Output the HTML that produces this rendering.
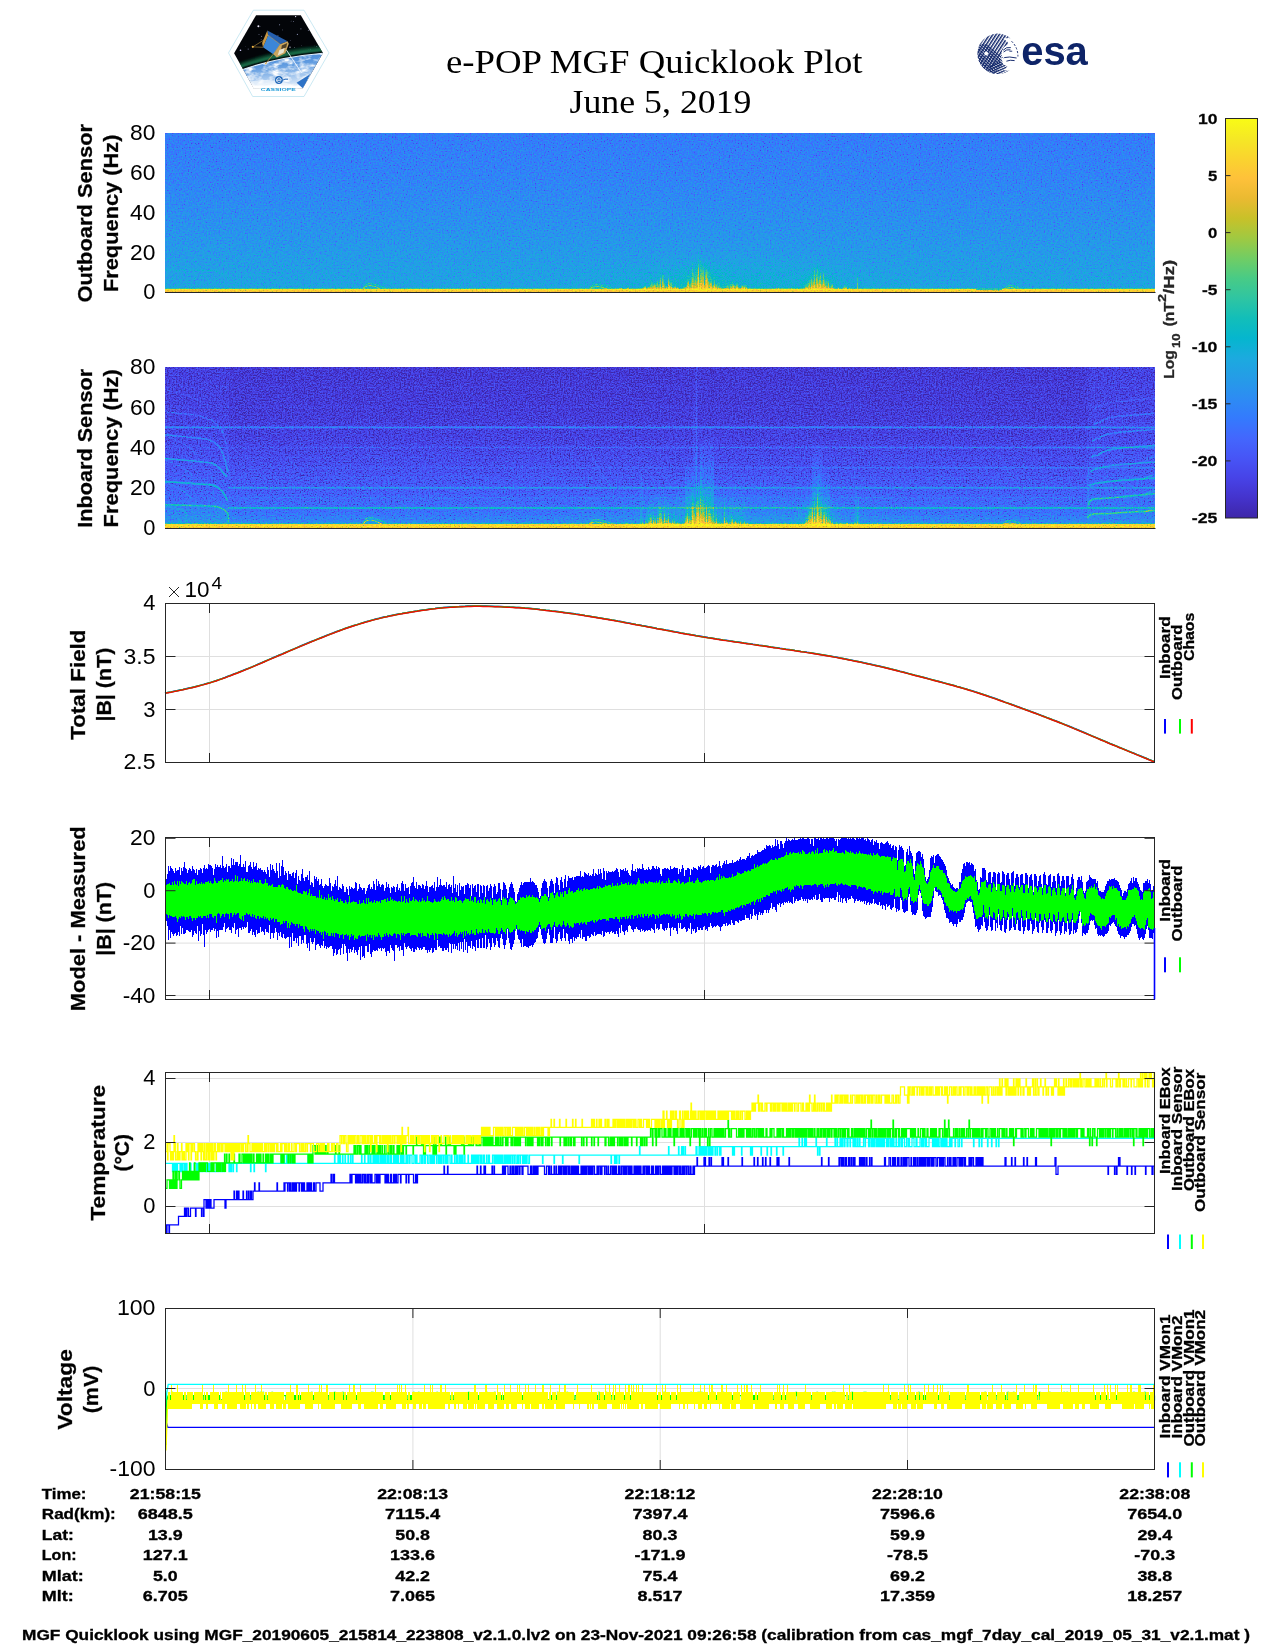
<!DOCTYPE html>
<html lang="en"><head><meta charset="utf-8"><title>e-POP MGF Quicklook Plot</title>
<style>html,body{margin:0;padding:0;background:#fff}body{width:1275px;height:1650px;overflow:hidden}svg{display:block;font-family:"Liberation Sans",sans-serif;will-change:transform}</style></head><body>
<svg width="1275" height="1650" viewBox="0 0 1275 1650">
<rect width="1275" height="1650" fill="#fff"/>
<defs>
<linearGradient id="cbg" x1="0" y1="0" x2="0" y2="1"><stop offset="0.0000" stop-color="#f9fb15"/><stop offset="0.0500" stop-color="#f5e825"/><stop offset="0.1000" stop-color="#fad42e"/><stop offset="0.1500" stop-color="#fec13a"/><stop offset="0.2000" stop-color="#eaba31"/><stop offset="0.2500" stop-color="#c8c129"/><stop offset="0.3000" stop-color="#9fc942"/><stop offset="0.3500" stop-color="#71cd64"/><stop offset="0.4000" stop-color="#48cb86"/><stop offset="0.4500" stop-color="#2fc5a2"/><stop offset="0.5000" stop-color="#12beb9"/><stop offset="0.5500" stop-color="#05b6ce"/><stop offset="0.6000" stop-color="#1caadf"/><stop offset="0.6500" stop-color="#259ce7"/><stop offset="0.7000" stop-color="#2d8cf3"/><stop offset="0.7500" stop-color="#347afd"/><stop offset="0.8000" stop-color="#4367fd"/><stop offset="0.8500" stop-color="#4755f6"/><stop offset="0.9000" stop-color="#4743e7"/><stop offset="0.9500" stop-color="#4433cc"/><stop offset="1.0000" stop-color="#3e26a8"/></linearGradient>
<filter id="sp1" filterUnits="userSpaceOnUse" x="165" y="133" width="990" height="160" color-interpolation-filters="sRGB">
<feTurbulence type="fractalNoise" baseFrequency="0.68 0.72" numOctaves="2" seed="3" result="n"/>
<feColorMatrix in="n" type="matrix" values="1 0 0 0 0 1 0 0 0 0 1 0 0 0 0 0 0 0 0 1" result="g0"/>
<feComponentTransfer in="g0" result="g"><feFuncR type="table" tableValues="0 0 0.10 0.28 0.41 0.50 0.575 0.645 0.71 0.77 0.82"/><feFuncG type="table" tableValues="0 0 0.10 0.28 0.41 0.50 0.575 0.645 0.71 0.77 0.82"/><feFuncB type="table" tableValues="0 0 0.10 0.28 0.41 0.50 0.575 0.645 0.71 0.77 0.82"/></feComponentTransfer>
<feComposite in="SourceGraphic" in2="g" operator="arithmetic" k1="0" k2="1" k3="0.4" k4="-0.2" result="m"/>
<feComponentTransfer in="m"><feFuncR type="table" tableValues="0.242 0.250 0.258 0.265 0.271 0.275 0.278 0.280 0.281 0.281 0.280 0.276 0.270 0.260 0.244 0.221 0.196 0.183 0.179 0.176 0.169 0.154 0.146 0.138 0.125 0.111 0.095 0.069 0.030 0.004 0.007 0.043 0.096 0.141 0.172 0.194 0.216 0.247 0.291 0.341 0.391 0.446 0.504 0.562 0.617 0.672 0.724 0.774 0.820 0.863 0.903 0.939 0.973 0.996 0.997 0.995 0.989 0.979 0.968 0.961 0.960 0.963 0.969 0.977"/><feFuncG type="table" tableValues="0.150 0.165 0.182 0.198 0.215 0.234 0.256 0.278 0.301 0.323 0.345 0.367 0.389 0.412 0.436 0.460 0.485 0.507 0.529 0.550 0.570 0.590 0.609 0.628 0.646 0.663 0.680 0.695 0.708 0.720 0.731 0.741 0.750 0.758 0.767 0.776 0.784 0.792 0.797 0.801 0.803 0.802 0.799 0.794 0.788 0.779 0.770 0.760 0.750 0.741 0.733 0.729 0.730 0.743 0.766 0.789 0.814 0.839 0.864 0.889 0.913 0.937 0.961 0.984"/><feFuncB type="table" tableValues="0.660 0.708 0.751 0.795 0.836 0.871 0.899 0.922 0.941 0.958 0.972 0.983 0.991 0.995 0.999 0.997 0.989 0.980 0.968 0.952 0.936 0.922 0.908 0.897 0.888 0.876 0.860 0.839 0.816 0.792 0.766 0.739 0.712 0.684 0.655 0.625 0.592 0.557 0.519 0.479 0.435 0.391 0.348 0.304 0.261 0.223 0.191 0.165 0.153 0.160 0.177 0.210 0.239 0.237 0.220 0.203 0.189 0.177 0.164 0.154 0.142 0.127 0.106 0.081"/></feComponentTransfer>
</filter>
<filter id="sp2" filterUnits="userSpaceOnUse" x="165" y="367" width="990" height="162" color-interpolation-filters="sRGB">
<feTurbulence type="fractalNoise" baseFrequency="0.68 0.72" numOctaves="2" seed="11" result="n"/>
<feColorMatrix in="n" type="matrix" values="1 0 0 0 0 1 0 0 0 0 1 0 0 0 0 0 0 0 0 1" result="g0"/>
<feComponentTransfer in="g0" result="g"><feFuncR type="table" tableValues="0 0 0.10 0.28 0.41 0.50 0.575 0.645 0.71 0.77 0.82"/><feFuncG type="table" tableValues="0 0 0.10 0.28 0.41 0.50 0.575 0.645 0.71 0.77 0.82"/><feFuncB type="table" tableValues="0 0 0.10 0.28 0.41 0.50 0.575 0.645 0.71 0.77 0.82"/></feComponentTransfer>
<feComposite in="SourceGraphic" in2="g" operator="arithmetic" k1="0" k2="1" k3="0.5" k4="-0.25" result="m"/>
<feComponentTransfer in="m"><feFuncR type="table" tableValues="0.242 0.250 0.258 0.265 0.271 0.275 0.278 0.280 0.281 0.281 0.280 0.276 0.270 0.260 0.244 0.221 0.196 0.183 0.179 0.176 0.169 0.154 0.146 0.138 0.125 0.111 0.095 0.069 0.030 0.004 0.007 0.043 0.096 0.141 0.172 0.194 0.216 0.247 0.291 0.341 0.391 0.446 0.504 0.562 0.617 0.672 0.724 0.774 0.820 0.863 0.903 0.939 0.973 0.996 0.997 0.995 0.989 0.979 0.968 0.961 0.960 0.963 0.969 0.977"/><feFuncG type="table" tableValues="0.150 0.165 0.182 0.198 0.215 0.234 0.256 0.278 0.301 0.323 0.345 0.367 0.389 0.412 0.436 0.460 0.485 0.507 0.529 0.550 0.570 0.590 0.609 0.628 0.646 0.663 0.680 0.695 0.708 0.720 0.731 0.741 0.750 0.758 0.767 0.776 0.784 0.792 0.797 0.801 0.803 0.802 0.799 0.794 0.788 0.779 0.770 0.760 0.750 0.741 0.733 0.729 0.730 0.743 0.766 0.789 0.814 0.839 0.864 0.889 0.913 0.937 0.961 0.984"/><feFuncB type="table" tableValues="0.660 0.708 0.751 0.795 0.836 0.871 0.899 0.922 0.941 0.958 0.972 0.983 0.991 0.995 0.999 0.997 0.989 0.980 0.968 0.952 0.936 0.922 0.908 0.897 0.888 0.876 0.860 0.839 0.816 0.792 0.766 0.739 0.712 0.684 0.655 0.625 0.592 0.557 0.519 0.479 0.435 0.391 0.348 0.304 0.261 0.223 0.191 0.165 0.153 0.160 0.177 0.210 0.239 0.237 0.220 0.203 0.189 0.177 0.164 0.154 0.142 0.127 0.106 0.081"/></feComponentTransfer>
</filter>
<clipPath id="hexc"><polygon points="234.1,53.3 256.1,15.2 300.8,15.2 322.9,52.9 302.7,88.5 253.9,88.5"/></clipPath><linearGradient id="earthg" x1="0" y1="0" x2="0.25" y2="1"><stop offset="0" stop-color="#3c7fd2"/><stop offset="0.4" stop-color="#5f9be0"/><stop offset="0.75" stop-color="#b9d4f2"/><stop offset="1" stop-color="#ffffff"/></linearGradient><filter id="cloud" x="0" y="0" width="1" height="1" color-interpolation-filters="sRGB"><feTurbulence type="fractalNoise" baseFrequency="0.11 0.2" numOctaves="3" seed="4"/><feColorMatrix type="matrix" values="0 0 0 0 1  0 0 0 0 1  0 0 0 0 1  2.8 0 0 0 -1.12"/><feComposite in2="SourceGraphic" operator="in"/></filter><filter id="soft" x="-0.1" y="-0.5" width="1.2" height="2"><feGaussianBlur stdDeviation="1.1"/></filter><clipPath id="esac"><circle cx="997.7" cy="53.8" r="20.2"/></clipPath><clipPath id="esah2"><polygon points="1025.5,82.6 969.9,25.0 941.1,52.7 996.6,110.4"/></clipPath><pattern id="esA" patternUnits="userSpaceOnUse" width="2.75" height="2.75" patternTransform="rotate(-57 997.7 53.8)"><rect width="2.75" height="1.45" fill="#0e2468"/></pattern><pattern id="esA2" patternUnits="userSpaceOnUse" width="2.3" height="2.3" patternTransform="rotate(-24 997.7 53.8)"><rect width="2.3" height="1.25" fill="#0e2468"/></pattern><pattern id="esB" patternUnits="userSpaceOnUse" width="2.15" height="2.15" patternTransform="rotate(40 997.7 53.8)"><rect width="2.15" height="1.0" fill="#0e2468"/></pattern><linearGradient id="s1bg" gradientUnits="userSpaceOnUse" x1="0" y1="133" x2="0" y2="292"><stop offset="0.0000" stop-color="#434343"/><stop offset="0.2956" stop-color="#494949"/><stop offset="0.6101" stop-color="#545454"/><stop offset="0.8113" stop-color="#5c5c5c"/><stop offset="0.9245" stop-color="#606060"/><stop offset="0.9748" stop-color="#636363"/><stop offset="0.9780" stop-color="#8c8c8c"/><stop offset="0.9811" stop-color="#ededed"/><stop offset="0.9887" stop-color="#ededed"/><stop offset="0.9925" stop-color="#d9d9d9"/><stop offset="0.9975" stop-color="#d9d9d9"/><stop offset="1.0000" stop-color="#999999"/></linearGradient><linearGradient id="hot" x1="0" y1="0" x2="0" y2="1"><stop offset="0" stop-color="#fff" stop-opacity="0"/><stop offset="0.45" stop-color="#fff" stop-opacity="0.28"/><stop offset="1" stop-color="#fff" stop-opacity="0.62"/></linearGradient><radialGradient id="glow"><stop offset="0" stop-color="#fff" stop-opacity="0.16"/><stop offset="1" stop-color="#fff" stop-opacity="0"/></radialGradient><radialGradient id="glow2"><stop offset="0" stop-color="#fff" stop-opacity="0.10"/><stop offset="1" stop-color="#fff" stop-opacity="0"/></radialGradient><linearGradient id="s2bg" gradientUnits="userSpaceOnUse" x1="0" y1="367" x2="0" y2="528"><stop offset="0.0000" stop-color="#121212"/><stop offset="0.2671" stop-color="#141414"/><stop offset="0.4534" stop-color="#1a1a1a"/><stop offset="0.6398" stop-color="#242424"/><stop offset="0.7950" stop-color="#303030"/><stop offset="0.9006" stop-color="#3c3c3c"/><stop offset="0.9503" stop-color="#464646"/><stop offset="0.9689" stop-color="#545454"/><stop offset="0.9739" stop-color="#8c8c8c"/><stop offset="0.9776" stop-color="#e6e6e6"/><stop offset="0.9938" stop-color="#ebebeb"/><stop offset="1.0000" stop-color="#cccccc"/></linearGradient><linearGradient id="hot2" x1="0" y1="0" x2="0" y2="1"><stop offset="0" stop-color="#fff" stop-opacity="0"/><stop offset="0.5" stop-color="#fff" stop-opacity="0.3"/><stop offset="1" stop-color="#fff" stop-opacity="0.74"/></linearGradient><linearGradient id="lineg" x1="0" y1="0" x2="1" y2="0"><stop offset="0" stop-color="#fff" stop-opacity="0.2"/><stop offset="0.55" stop-color="#fff" stop-opacity="0.6"/><stop offset="1" stop-color="#fff" stop-opacity="1"/></linearGradient><linearGradient id="streak" x1="0" y1="0" x2="0" y2="1"><stop offset="0" stop-color="#fff" stop-opacity="0"/><stop offset="1" stop-color="#fff" stop-opacity="0.2"/></linearGradient></defs>
<text x="446" y="73" font-size="34" textLength="416.5" lengthAdjust="spacingAndGlyphs" font-family="Liberation Serif, serif" fill="#000">e-POP MGF Quicklook Plot</text>
<text x="569.5" y="113" font-size="34" textLength="182" lengthAdjust="spacingAndGlyphs" font-family="Liberation Serif, serif" fill="#000">June 5, 2019</text>
<polygon points="228.5,52.9 253.4,10.2 304,10.2 329,52.9 304,96.5 252.7,96.5" fill="#fff" stroke="#b4e0ee" stroke-width="0.7"/>
<g clip-path="url(#hexc)">
<rect x="230" y="12" width="96" height="80" fill="#030509"/>
<circle cx="259.0" cy="34.5" r="0.4" fill="#c9cfff" fill-opacity="0.86"/>
<circle cx="277.9" cy="35.7" r="0.6" fill="#c9cfff" fill-opacity="0.41"/>
<circle cx="307.0" cy="24.8" r="0.35" fill="#c9cfff" fill-opacity="0.50"/>
<circle cx="297.4" cy="34.4" r="0.6" fill="#c9cfff" fill-opacity="0.64"/>
<circle cx="291.1" cy="21.1" r="0.35" fill="#c9cfff" fill-opacity="0.83"/>
<circle cx="281.9" cy="41.2" r="0.3" fill="#c9cfff" fill-opacity="0.48"/>
<circle cx="316.6" cy="17.5" r="0.3" fill="#c9cfff" fill-opacity="0.81"/>
<circle cx="261.6" cy="36.2" r="0.5" fill="#c9cfff" fill-opacity="0.76"/>
<circle cx="313.7" cy="29.4" r="0.6" fill="#c9cfff" fill-opacity="0.62"/>
<circle cx="314.8" cy="45.9" r="0.3" fill="#c9cfff" fill-opacity="0.42"/>
<circle cx="279.6" cy="24.8" r="0.5" fill="#c9cfff" fill-opacity="0.79"/>
<circle cx="308.4" cy="30.3" r="0.5" fill="#c9cfff" fill-opacity="0.69"/>
<circle cx="282.7" cy="29.9" r="0.35" fill="#c9cfff" fill-opacity="0.85"/>
<circle cx="294.6" cy="47.6" r="0.4" fill="#c9cfff" fill-opacity="0.90"/>
<circle cx="293.7" cy="21.5" r="0.4" fill="#c9cfff" fill-opacity="0.88"/>
<circle cx="312.4" cy="35.3" r="0.35" fill="#c9cfff" fill-opacity="0.72"/>
<circle cx="319.0" cy="25.1" r="0.3" fill="#c9cfff" fill-opacity="0.43"/>
<circle cx="308.3" cy="49.7" r="0.3" fill="#c9cfff" fill-opacity="0.57"/>
<circle cx="245.3" cy="46.5" r="0.3" fill="#c9cfff" fill-opacity="0.55"/>
<circle cx="301.5" cy="45.7" r="0.3" fill="#c9cfff" fill-opacity="0.70"/>
<circle cx="300.9" cy="28.8" r="0.6" fill="#c9cfff" fill-opacity="0.57"/>
<circle cx="310.5" cy="49.3" r="0.6" fill="#c9cfff" fill-opacity="0.52"/>
<circle cx="242.9" cy="16.2" r="0.3" fill="#c9cfff" fill-opacity="0.70"/>
<circle cx="242.5" cy="22.7" r="0.5" fill="#c9cfff" fill-opacity="0.55"/>
<circle cx="261.1" cy="39.5" r="0.4" fill="#c9cfff" fill-opacity="0.56"/>
<circle cx="316.7" cy="46.5" r="0.5" fill="#c9cfff" fill-opacity="0.59"/>
<circle cx="309.6" cy="29.1" r="0.6" fill="#c9cfff" fill-opacity="0.74"/>
<circle cx="248.2" cy="49.1" r="0.6" fill="#c9cfff" fill-opacity="0.54"/>
<circle cx="290.7" cy="40.3" r="0.4" fill="#c9cfff" fill-opacity="0.62"/>
<circle cx="260.7" cy="26.3" r="0.4" fill="#c9cfff" fill-opacity="0.41"/>
<circle cx="258.4" cy="26.3" r="1" fill="#eeeaff"/><circle cx="240.5" cy="50.3" r="0.8" fill="#d6d0ff"/><circle cx="295.6" cy="16.6" r="0.7" fill="#e8e8ff"/><circle cx="290" cy="47.2" r="0.6" fill="#e8e8ff"/>
<path d="M230 69.6 Q270 52.6 326 48.2" fill="none" stroke="#0b5d3b" stroke-width="5.5" stroke-opacity="0.7" filter="url(#soft)"/>
<path d="M230 70.8 Q270 53.9 326 49.5" fill="none" stroke="#2fb877" stroke-width="1.5" stroke-opacity="0.7" filter="url(#soft)"/>
<path d="M230 74.4 Q270 57.5 326 53 L326 95 L228 95 Z" fill="url(#earthg)"/>
<path d="M230 74.4 Q270 57.5 326 53 L326 95 L228 95 Z" fill="#fff" filter="url(#cloud)"/>
<path d="M230 73.2 Q270 56.3 326 51.8" fill="none" stroke="#06120f" stroke-width="1.3" stroke-opacity="0.8"/>
<path d="M230 74.4 Q270 57.5 326 53" fill="none" stroke="#e4f2ff" stroke-width="1.1"/>
<path d="M248 82 Q268 77 290 84 L304 92 L248 92 Z" fill="#fff" fill-opacity="0.6"/>
<rect x="248" y="85.6" width="60" height="5" fill="#fff" fill-opacity="0.92"/>
<polygon points="296.6,82.7 310.4,74 303.1,88.4" fill="#2d72c6"/>
<path d="M286.3 49.9 L301.8 73.2" stroke="#f4f8ff" stroke-width="0.9"/>
<path d="M263 47.3 L252.8 46.9 M267.4 37.8 L253.6 46.4" stroke="#b9903f" stroke-width="0.6" fill="none"/>
<circle cx="252.8" cy="46.8" r="1.1" fill="#f0b545"/>
<path d="M273.3 54.2 L265.8 63.4" stroke="#b58a45" stroke-width="0.8"/>
<circle cx="265.8" cy="63.4" r="0.8" fill="#e9b54a"/>
<polygon points="267.3,30.5 287.6,41.2 280.2,44.3 268.1,35.2" fill="#255fae"/>
<polygon points="268.1,35.2 280.2,44.3 273.3,54.2 263,47.3" fill="#3b86d8"/>
<polygon points="267.3,30.5 268.1,35.2 263,47.3 262.1,43" fill="#c99845"/>
<polygon points="280.2,44.3 287.6,41.2 288.8,43.8 285.4,53.3 276.8,57.6 273.3,54.2" fill="#caa55e"/>
<polygon points="281.8,45.4 287.2,43 286.2,47.6 281.2,49.6" fill="#4f4128"/>
<polygon points="279.4,50 284.6,48 283.6,52.6 277.6,55.6" fill="#e9e4d2"/>
<path d="M268.1 35.2 L280.2 44.3 L273.3 54.2" stroke="#dbb469" stroke-width="0.5" fill="none"/>
<circle cx="278.9" cy="80" r="3.9" fill="#1f66b8"/>
<path d="M276.6 80.2 H281.2 A2.3 2.3 0 1 0 280.5 81.8" fill="none" stroke="#fff" stroke-width="0.9"/>
<path d="M282 80.4 Q285 78.6 288 79.2" fill="none" stroke="#1f66b8" stroke-width="1"/>
</g>
<text x="260.8" y="90.5" font-size="3.7" font-weight="bold" fill="#1d9bd8" textLength="35" lengthAdjust="spacingAndGlyphs">CASSIOPE</text>
<g clip-path="url(#esac)">
<path d="M970 28 H1016 L1008 44 Q1000 52 1000 60 L991 68 L984 76 H970 Z" fill="url(#esA)"/>
<path d="M984 77 L990 66 L1000 60 Q1003 66 1012 68 L1014 78 Z" fill="url(#esA2)"/>
<path d="M970 44 L986 44 L1001 56 L1003 64 L992 77 L970 77 Z" fill="url(#esB)"/>
</g>
<circle cx="1010.6" cy="53.6" r="9.3" fill="#fff"/>
<path d="M1003.5 38.2 L1022 38 L1022 70 L1004 70.5 Q1012 62 1012 53.6 Q1012 45 1003.5 38.2Z" fill="#fff"/>
<path d="M1011.5 41.2 A20.2 20.2 0 0 1 1017.9 56.5" fill="none" stroke="#0e2468" stroke-width="0.9" stroke-dasharray="2.2 1.6"/>
<path d="M1003.2 50.2 Q1006.2 46.6 1010.8 47.6 M1003.6 52 Q1006.4 49 1010.4 49.8 M1004.2 57.6 Q1009 56.2 1016.6 58 M1006.4 61.2 Q1010 59.6 1014.6 60.6" fill="none" stroke="#0e2468" stroke-width="0.95"/>
<path d="M1003 49 A6.2 6.2 0 0 0 1003.8 58.6" fill="none" stroke="#0e2468" stroke-width="0.8" stroke-dasharray="1.2 0.9"/>
<path d="M1009.4 51.2 H1012.2" stroke="#0e2468" stroke-width="0.9"/>
<circle cx="986.2" cy="53.5" r="1.9" fill="#fff"/>
<text x="1021.2" y="65.4" font-size="41.5" font-weight="bold" fill="#0e2468" textLength="66.6" lengthAdjust="spacingAndGlyphs">esa</text>
<g filter="url(#sp1)">
<rect x="165" y="133" width="990" height="159" fill="url(#s1bg)"/><ellipse cx="735" cy="292" rx="190" ry="42" fill="url(#glow2)"/><ellipse cx="700" cy="292" rx="40" ry="34" fill="url(#glow)"/><ellipse cx="818" cy="292" rx="26" ry="26" fill="url(#glow)"/><path d="M165 270 L214 270.5 Q222 272 228 278" fill="none" stroke="#fff" stroke-opacity="0.10" stroke-width="1.2"/><path d="M1088 282 Q1094 278 1108 277.5" fill="none" stroke="#fff" stroke-opacity="0.08" stroke-width="1"/><path d="M363 289 Q365 283.5 370 283.5 T386 288.6" fill="none" stroke="#9e9e9e" stroke-width="1.1" stroke-opacity="0.8"/><path d="M363 289.5 Q365 285.5 370 285.5 T380 289" fill="none" stroke="#cccccc" stroke-width="1" stroke-opacity="0.8"/><path d="M589 289 Q591 284.5 596 284.5 T613 288.6" fill="none" stroke="#9e9e9e" stroke-width="1.1" stroke-opacity="0.8"/><path d="M589 289.5 Q591 286.5 596 286.5 T607 289" fill="none" stroke="#cccccc" stroke-width="1" stroke-opacity="0.8"/><path d="M1004 289 Q1006 285.5 1011 285.5 T1020 288.6" fill="none" stroke="#9e9e9e" stroke-width="1.1" stroke-opacity="0.8"/><path d="M1004 289.5 Q1006 287.5 1011 287.5 T1014 289" fill="none" stroke="#cccccc" stroke-width="1" stroke-opacity="0.8"/><rect x="976" y="288.6" width="26" height="1.6" fill="#737373" fill-opacity="0.8"/><rect x="638" y="289" width="1" height="0.5" fill="url(#hot)"/><rect x="639" y="288.5" width="1" height="1" fill="url(#hot)"/><rect x="640" y="288" width="1" height="1.5" fill="url(#hot)"/><rect x="641" y="288.4" width="1" height="1.1" fill="url(#hot)"/><rect x="642" y="285.4" width="1" height="4.1" fill="url(#hot)"/><rect x="643" y="285.8" width="2" height="3.7" fill="url(#hot)"/><rect x="644" y="286.5" width="2" height="3" fill="url(#hot)"/><rect x="645" y="282.8" width="1" height="6.7" fill="url(#hot)"/><rect x="646" y="287.1" width="1" height="2.4" fill="url(#hot)"/><rect x="647" y="286.6" width="1" height="2.9" fill="url(#hot)"/><rect x="648" y="285.2" width="1" height="4.3" fill="url(#hot)"/><rect x="649" y="286.5" width="1" height="3" fill="url(#hot)"/><rect x="650" y="284" width="1" height="5.5" fill="url(#hot)"/><rect x="651" y="283.4" width="1" height="6.1" fill="url(#hot)"/><rect x="652" y="280.1" width="1" height="9.4" fill="url(#hot)"/><rect x="653" y="281.9" width="2" height="7.6" fill="url(#hot)"/><rect x="654" y="284" width="2" height="5.5" fill="url(#hot)"/><rect x="655" y="282.4" width="1" height="7.1" fill="url(#hot)"/><rect x="656" y="281.2" width="1" height="8.3" fill="url(#hot)"/><rect x="657" y="276.4" width="1" height="13.1" fill="url(#hot)"/><rect x="658" y="282.7" width="1" height="6.8" fill="url(#hot)"/><rect x="659" y="278.6" width="1" height="10.9" fill="url(#hot)"/><rect x="660" y="270.8" width="1" height="18.7" fill="url(#hot)"/><rect x="661" y="284.5" width="1" height="5" fill="url(#hot)"/><rect x="662" y="271.3" width="2" height="18.2" fill="url(#hot)"/><rect x="663" y="282.2" width="1" height="7.3" fill="url(#hot)"/><rect x="664" y="281.7" width="1" height="7.8" fill="url(#hot)"/><rect x="665" y="285.4" width="1" height="4.1" fill="url(#hot)"/><rect x="666" y="284.5" width="1" height="5" fill="url(#hot)"/><rect x="667" y="285.8" width="1" height="3.7" fill="url(#hot)"/><rect x="668" y="278" width="2" height="11.5" fill="url(#hot)"/><rect x="669" y="285.2" width="1" height="4.3" fill="url(#hot)"/><rect x="670" y="279.6" width="2" height="9.9" fill="url(#hot)"/><rect x="671" y="286.4" width="1" height="3.1" fill="url(#hot)"/><rect x="672" y="284.8" width="1" height="4.7" fill="url(#hot)"/><rect x="673" y="287.3" width="1" height="2.2" fill="url(#hot)"/><rect x="674" y="285.3" width="2" height="4.2" fill="url(#hot)"/><rect x="675" y="286.1" width="1" height="3.4" fill="url(#hot)"/><rect x="676" y="288.1" width="2" height="1.4" fill="url(#hot)"/><rect x="677" y="285.8" width="1" height="3.7" fill="url(#hot)"/><rect x="678" y="288.2" width="1" height="1.3" fill="url(#hot)"/><rect x="679" y="289" width="1" height="0.5" fill="url(#hot)"/><rect x="682" y="288.6" width="1" height="0.9" fill="url(#hot)"/><rect x="683" y="288.6" width="1" height="0.9" fill="url(#hot)"/><rect x="684" y="287" width="1" height="2.5" fill="url(#hot)"/><rect x="685" y="284.4" width="1" height="5.1" fill="url(#hot)"/><rect x="686" y="285.3" width="1" height="4.2" fill="url(#hot)"/><rect x="687" y="278.7" width="2" height="10.8" fill="url(#hot)"/><rect x="688" y="282.2" width="1" height="7.3" fill="url(#hot)"/><rect x="689" y="282.9" width="1" height="6.6" fill="url(#hot)"/><rect x="690" y="284" width="1" height="5.5" fill="url(#hot)"/><rect x="691" y="278.7" width="1" height="10.8" fill="url(#hot)"/><rect x="692" y="283.8" width="1" height="5.7" fill="url(#hot)"/><rect x="693" y="268.9" width="1" height="20.6" fill="url(#hot)"/><rect x="694" y="279" width="1" height="10.5" fill="url(#hot)"/><rect x="695" y="274.9" width="1" height="14.6" fill="url(#hot)"/><rect x="696" y="280.1" width="2" height="9.4" fill="url(#hot)"/><rect x="697" y="263.5" width="2" height="26" fill="url(#hot)"/><rect x="698" y="266" width="1" height="23.5" fill="url(#hot)"/><rect x="699" y="277" width="1" height="12.5" fill="url(#hot)"/><rect x="700" y="278.8" width="1" height="10.7" fill="url(#hot)"/><rect x="701" y="261.4" width="1" height="28.1" fill="url(#hot)"/><rect x="702" y="261.4" width="2" height="28.1" fill="url(#hot)"/><rect x="703" y="280.8" width="1" height="8.7" fill="url(#hot)"/><rect x="704" y="281.4" width="1" height="8.1" fill="url(#hot)"/><rect x="705" y="269" width="1" height="20.5" fill="url(#hot)"/><rect x="706" y="271" width="1" height="18.5" fill="url(#hot)"/><rect x="707" y="269.2" width="1" height="20.3" fill="url(#hot)"/><rect x="708" y="279.2" width="1" height="10.3" fill="url(#hot)"/><rect x="709" y="281.8" width="2" height="7.7" fill="url(#hot)"/><rect x="710" y="281.5" width="1" height="8" fill="url(#hot)"/><rect x="711" y="277.2" width="1" height="12.3" fill="url(#hot)"/><rect x="712" y="284.8" width="2" height="4.7" fill="url(#hot)"/><rect x="713" y="285.2" width="2" height="4.3" fill="url(#hot)"/><rect x="714" y="280.8" width="1" height="8.7" fill="url(#hot)"/><rect x="715" y="286.1" width="1" height="3.4" fill="url(#hot)"/><rect x="716" y="282.7" width="1" height="6.8" fill="url(#hot)"/><rect x="717" y="285.3" width="2" height="4.2" fill="url(#hot)"/><rect x="718" y="287" width="1" height="2.5" fill="url(#hot)"/><rect x="719" y="287.5" width="1" height="2" fill="url(#hot)"/><rect x="720" y="287.5" width="1" height="2" fill="url(#hot)"/><rect x="721" y="288.3" width="1" height="1.2" fill="url(#hot)"/><rect x="722" y="288.6" width="1" height="0.9" fill="url(#hot)"/><rect x="724" y="287.6" width="1" height="1.9" fill="url(#hot)"/><rect x="725" y="287.2" width="1" height="2.3" fill="url(#hot)"/><rect x="726" y="284.6" width="1" height="4.9" fill="url(#hot)"/><rect x="727" y="284.2" width="1" height="5.3" fill="url(#hot)"/><rect x="728" y="285" width="1" height="4.5" fill="url(#hot)"/><rect x="730" y="283.5" width="1" height="6" fill="url(#hot)"/><rect x="731" y="281.6" width="1" height="7.9" fill="url(#hot)"/><rect x="732" y="282" width="2" height="7.5" fill="url(#hot)"/><rect x="733" y="283.6" width="1" height="5.9" fill="url(#hot)"/><rect x="734" y="283.2" width="1" height="6.3" fill="url(#hot)"/><rect x="735" y="285.1" width="2" height="4.4" fill="url(#hot)"/><rect x="736" y="282" width="2" height="7.5" fill="url(#hot)"/><rect x="737" y="284.9" width="2" height="4.6" fill="url(#hot)"/><rect x="739" y="287.4" width="1" height="2.1" fill="url(#hot)"/><rect x="740" y="287.2" width="1" height="2.3" fill="url(#hot)"/><rect x="741" y="284.4" width="2" height="5.1" fill="url(#hot)"/><rect x="742" y="285.1" width="1" height="4.4" fill="url(#hot)"/><rect x="743" y="284.4" width="2" height="5.1" fill="url(#hot)"/><rect x="744" y="284.3" width="1" height="5.2" fill="url(#hot)"/><rect x="745" y="284.5" width="2" height="5" fill="url(#hot)"/><rect x="746" y="287.5" width="1" height="2" fill="url(#hot)"/><rect x="747" y="288.2" width="1" height="1.3" fill="url(#hot)"/><rect x="749" y="287.8" width="1" height="1.7" fill="url(#hot)"/><rect x="750" y="288.5" width="1" height="1" fill="url(#hot)"/><rect x="751" y="289" width="2" height="0.5" fill="url(#hot)"/><rect x="803" y="288.6" width="1" height="0.9" fill="url(#hot)"/><rect x="804" y="288.3" width="1" height="1.2" fill="url(#hot)"/><rect x="805" y="284.2" width="2" height="5.3" fill="url(#hot)"/><rect x="806" y="287.2" width="2" height="2.3" fill="url(#hot)"/><rect x="807" y="282.6" width="1" height="6.9" fill="url(#hot)"/><rect x="808" y="281.4" width="1" height="8.1" fill="url(#hot)"/><rect x="809" y="276.3" width="1" height="13.2" fill="url(#hot)"/><rect x="810" y="285.3" width="2" height="4.2" fill="url(#hot)"/><rect x="811" y="274.4" width="1" height="15.1" fill="url(#hot)"/><rect x="812" y="278.9" width="2" height="10.6" fill="url(#hot)"/><rect x="813" y="283.5" width="1" height="6" fill="url(#hot)"/><rect x="814" y="283.2" width="1" height="6.3" fill="url(#hot)"/><rect x="815" y="281.9" width="1" height="7.6" fill="url(#hot)"/><rect x="816" y="270.2" width="1" height="19.3" fill="url(#hot)"/><rect x="817" y="281.2" width="1" height="8.3" fill="url(#hot)"/><rect x="818" y="280.6" width="1" height="8.9" fill="url(#hot)"/><rect x="819" y="275.8" width="1" height="13.7" fill="url(#hot)"/><rect x="820" y="267.4" width="1" height="22.1" fill="url(#hot)"/><rect x="821" y="279.4" width="1" height="10.1" fill="url(#hot)"/><rect x="822" y="280.6" width="1" height="8.9" fill="url(#hot)"/><rect x="823" y="270.1" width="1" height="19.4" fill="url(#hot)"/><rect x="824" y="277" width="1" height="12.5" fill="url(#hot)"/><rect x="825" y="283" width="1" height="6.5" fill="url(#hot)"/><rect x="826" y="285.5" width="1" height="4" fill="url(#hot)"/><rect x="827" y="285.5" width="1" height="4" fill="url(#hot)"/><rect x="828" y="279.1" width="1" height="10.4" fill="url(#hot)"/><rect x="829" y="286.1" width="1" height="3.4" fill="url(#hot)"/><rect x="830" y="287" width="1" height="2.5" fill="url(#hot)"/><rect x="831" y="282.8" width="2" height="6.7" fill="url(#hot)"/><rect x="832" y="287.8" width="2" height="1.7" fill="url(#hot)"/><rect x="833" y="288.4" width="1" height="1.1" fill="url(#hot)"/><rect x="834" y="289.2" width="1" height="0.3" fill="url(#hot)"/><rect x="835" y="288.5" width="1" height="1" fill="url(#hot)"/><rect x="836" y="288.6" width="1" height="0.9" fill="url(#hot)"/><rect x="837" y="288.3" width="1" height="1.2" fill="url(#hot)"/><rect x="838" y="286.2" width="1" height="3.3" fill="url(#hot)"/><rect x="843" y="286.8" width="2" height="2.7" fill="url(#hot)"/><rect x="844" y="284.7" width="1" height="4.8" fill="url(#hot)"/><rect x="845" y="284.1" width="2" height="5.4" fill="url(#hot)"/><rect x="849" y="286.7" width="1" height="2.8" fill="url(#hot)"/><rect x="857" y="288.7" width="1" height="0.8" fill="url(#hot)"/><rect x="858" y="288.8" width="2" height="0.7" fill="url(#hot)"/><rect x="863" y="289.3" width="1" height="0.2" fill="url(#hot)"/><rect x="758" y="288.7" width="1" height="0.8" fill="url(#hot)"/><rect x="759" y="289.1" width="1" height="0.4" fill="url(#hot)"/><rect x="760" y="288.5" width="2" height="1" fill="url(#hot)"/><rect x="768" y="288.7" width="1" height="0.8" fill="url(#hot)"/><rect x="772" y="288.6" width="1" height="0.9" fill="url(#hot)"/><rect x="776" y="287.5" width="1" height="2" fill="url(#hot)"/><rect x="778" y="286.3" width="1" height="3.2" fill="url(#hot)"/><rect x="781" y="288" width="2" height="1.5" fill="url(#hot)"/><rect x="784" y="288.6" width="2" height="0.9" fill="url(#hot)"/><rect x="785" y="287.9" width="1" height="1.6" fill="url(#hot)"/><rect x="788" y="287.6" width="1" height="1.9" fill="url(#hot)"/><rect x="791" y="287.7" width="1" height="1.8" fill="url(#hot)"/><rect x="792" y="289" width="1" height="0.5" fill="url(#hot)"/><rect x="795" y="288.9" width="1" height="0.6" fill="url(#hot)"/><rect x="797" y="288.7" width="2" height="0.8" fill="url(#hot)"/><rect x="798" y="288.6" width="1" height="0.9" fill="url(#hot)"/><rect x="800" y="289.2" width="1" height="0.3" fill="url(#hot)"/><rect x="602" y="289.4" width="1" height="0.1" fill="url(#hot)"/><rect x="604" y="288.7" width="1" height="0.8" fill="url(#hot)"/><rect x="605" y="289" width="1" height="0.5" fill="url(#hot)"/><rect x="615" y="287.8" width="1" height="1.7" fill="url(#hot)"/><rect x="618" y="288.8" width="2" height="0.7" fill="url(#hot)"/><rect x="619" y="288.1" width="1" height="1.4" fill="url(#hot)"/><rect x="620" y="287.3" width="2" height="2.2" fill="url(#hot)"/><rect x="621" y="287.5" width="1" height="2" fill="url(#hot)"/><rect x="624" y="288.5" width="1" height="1" fill="url(#hot)"/><rect x="627" y="286" width="2" height="3.5" fill="url(#hot)"/><rect x="629" y="288.4" width="1" height="1.1" fill="url(#hot)"/><rect x="631" y="288.5" width="1" height="1" fill="url(#hot)"/><rect x="638" y="288.5" width="1" height="1" fill="url(#streak)"/><rect x="639" y="286.9" width="1" height="2.6" fill="url(#streak)"/><rect x="643" y="286.4" width="1" height="3.1" fill="url(#streak)"/><rect x="644" y="284.7" width="2" height="4.8" fill="url(#streak)"/><rect x="647" y="285.8" width="1" height="3.7" fill="url(#streak)"/><rect x="649" y="279.7" width="1" height="9.8" fill="url(#streak)"/><rect x="650" y="272.6" width="2" height="16.9" fill="url(#streak)"/><rect x="653" y="283.5" width="1" height="6" fill="url(#streak)"/><rect x="660" y="273.3" width="1" height="16.2" fill="url(#streak)"/><rect x="662" y="264.5" width="1" height="25" fill="url(#streak)"/><rect x="663" y="282.2" width="1" height="7.3" fill="url(#streak)"/><rect x="666" y="283.6" width="1" height="5.9" fill="url(#streak)"/><rect x="668" y="283.2" width="1" height="6.3" fill="url(#streak)"/><rect x="669" y="282.8" width="1" height="6.7" fill="url(#streak)"/><rect x="673" y="285.3" width="1" height="4.2" fill="url(#streak)"/><rect x="676" y="287.4" width="1" height="2.1" fill="url(#streak)"/><rect x="678" y="287.9" width="1" height="1.6" fill="url(#streak)"/><rect x="682" y="288.4" width="1" height="1.1" fill="url(#streak)"/><rect x="683" y="286.1" width="1" height="3.4" fill="url(#streak)"/><rect x="686" y="284.6" width="2" height="4.9" fill="url(#streak)"/><rect x="687" y="274.4" width="1" height="15.1" fill="url(#streak)"/><rect x="688" y="273.4" width="1" height="16.1" fill="url(#streak)"/><rect x="690" y="281.2" width="1" height="8.3" fill="url(#streak)"/><rect x="691" y="270.1" width="2" height="19.4" fill="url(#streak)"/><rect x="692" y="275.7" width="1" height="13.8" fill="url(#streak)"/><rect x="694" y="279.7" width="1" height="9.8" fill="url(#streak)"/><rect x="695" y="253.7" width="2" height="35.8" fill="url(#streak)"/><rect x="699" y="275.6" width="2" height="13.9" fill="url(#streak)"/><rect x="701" y="261.9" width="1" height="27.6" fill="url(#streak)"/><rect x="702" y="273.8" width="1" height="15.7" fill="url(#streak)"/><rect x="703" y="275.7" width="1" height="13.8" fill="url(#streak)"/><rect x="705" y="254.6" width="1" height="34.9" fill="url(#streak)"/><rect x="706" y="261.8" width="2" height="27.7" fill="url(#streak)"/><rect x="707" y="281.1" width="1" height="8.4" fill="url(#streak)"/><rect x="708" y="261.3" width="1" height="28.2" fill="url(#streak)"/><rect x="709" y="263.6" width="1" height="25.9" fill="url(#streak)"/><rect x="710" y="267.8" width="1" height="21.7" fill="url(#streak)"/><rect x="711" y="283" width="1" height="6.5" fill="url(#streak)"/><rect x="713" y="273.7" width="2" height="15.8" fill="url(#streak)"/><rect x="714" y="282.7" width="2" height="6.8" fill="url(#streak)"/><rect x="715" y="283.4" width="1" height="6.1" fill="url(#streak)"/><rect x="716" y="284" width="1" height="5.5" fill="url(#streak)"/><rect x="719" y="281" width="1" height="8.5" fill="url(#streak)"/><rect x="720" y="286.4" width="2" height="3.1" fill="url(#streak)"/><rect x="803" y="288.3" width="1" height="1.2" fill="url(#streak)"/><rect x="804" y="285.1" width="1" height="4.4" fill="url(#streak)"/><rect x="809" y="281.9" width="1" height="7.6" fill="url(#streak)"/><rect x="810" y="272.1" width="1" height="17.4" fill="url(#streak)"/><rect x="811" y="270.9" width="1" height="18.6" fill="url(#streak)"/><rect x="812" y="282.4" width="1" height="7.1" fill="url(#streak)"/><rect x="813" y="259.7" width="2" height="29.8" fill="url(#streak)"/><rect x="815" y="280.2" width="1" height="9.3" fill="url(#streak)"/><rect x="816" y="263.7" width="1" height="25.8" fill="url(#streak)"/><rect x="817" y="272.1" width="1" height="17.4" fill="url(#streak)"/><rect x="818" y="262" width="2" height="27.5" fill="url(#streak)"/><rect x="819" y="279.5" width="2" height="10" fill="url(#streak)"/><rect x="820" y="270.6" width="1" height="18.9" fill="url(#streak)"/><rect x="822" y="279.5" width="1" height="10" fill="url(#streak)"/><rect x="823" y="265" width="1" height="24.5" fill="url(#streak)"/><rect x="824" y="278.5" width="2" height="11" fill="url(#streak)"/><rect x="825" y="281.8" width="2" height="7.7" fill="url(#streak)"/><rect x="826" y="267.9" width="1" height="21.6" fill="url(#streak)"/><rect x="827" y="273.9" width="2" height="15.6" fill="url(#streak)"/><rect x="829" y="284.2" width="1" height="5.3" fill="url(#streak)"/><rect x="830" y="277.3" width="1" height="12.2" fill="url(#streak)"/><rect x="832" y="283.4" width="1" height="6.1" fill="url(#streak)"/><rect x="833" y="286.4" width="2" height="3.1" fill="url(#streak)"/><rect x="698" y="245.5" width="1" height="44" fill="url(#hot)" opacity="0.8"/><rect x="700" y="253.5" width="1" height="36" fill="url(#hot)" opacity="0.8"/><rect x="692" y="256.5" width="1" height="33" fill="url(#hot)" opacity="0.8"/><rect x="817" y="259.5" width="1" height="30" fill="url(#hot)" opacity="0.8"/><rect x="814" y="262.5" width="1" height="27" fill="url(#hot)" opacity="0.8"/><rect x="706" y="259.5" width="1" height="30" fill="url(#hot)" opacity="0.8"/><rect x="857" y="272.5" width="1" height="17" fill="url(#hot)" opacity="0.8"/><rect x="668" y="269.5" width="1" height="20" fill="url(#hot)" opacity="0.8"/>
</g>
<rect x="165" y="292" width="990.5" height="1" fill="#262626"/>
<g filter="url(#sp2)">
<rect x="165" y="367" width="990" height="161" fill="url(#s2bg)"/><ellipse cx="740" cy="528" rx="210" ry="52" fill="url(#glow2)"/><ellipse cx="700" cy="528" rx="46" ry="48" fill="url(#glow)"/><ellipse cx="818" cy="528" rx="30" ry="40" fill="url(#glow)"/><rect x="693" y="367" width="4" height="159" fill="url(#streak)" opacity="0.5"/><rect x="700" y="430" width="14" height="96" fill="url(#streak)" opacity="0.9"/><rect x="685" y="455" width="8" height="71" fill="url(#streak)" opacity="0.8"/><rect x="640" y="470" width="3" height="56" fill="url(#streak)" opacity="0.6"/><rect x="648" y="492" width="20" height="34" fill="url(#streak)" opacity="0.6"/><rect x="812" y="440" width="10" height="86" fill="url(#streak)" opacity="0.9"/><rect x="822" y="462" width="8" height="64" fill="url(#streak)" opacity="0.7"/><rect x="855" y="470" width="2" height="56" fill="url(#streak)" opacity="0.6"/><rect x="729" y="490" width="16" height="36" fill="url(#streak)" opacity="0.5"/><rect x="165" y="367" width="64" height="158" fill="#fff" fill-opacity="0.024"/><rect x="1087" y="367" width="68" height="158" fill="#fff" fill-opacity="0.03"/><rect x="165" y="505" width="64" height="20" fill="#fff" fill-opacity="0.05"/><rect x="228" y="507" width="927" height="1.8" fill="#fff" fill-opacity="0.3"/><rect x="228" y="486.9" width="927" height="1.7" fill="#fff" fill-opacity="0.2"/><rect x="240" y="466.9" width="915" height="1.5" fill="url(#lineg)" opacity="0.15"/><rect x="165" y="446.7" width="990" height="1.6" fill="url(#lineg)" opacity="0.2"/><rect x="165" y="426.5" width="990" height="1.8" fill="#fff" fill-opacity="0.22"/><rect x="228" y="497.2" width="927" height="1.2" fill="#fff" fill-opacity="0.07"/><rect x="228" y="477.2" width="927" height="1.0" fill="#fff" fill-opacity="0.05"/><rect x="228" y="457.1" width="927" height="1.0" fill="#fff" fill-opacity="0.04"/><rect x="165" y="406.6" width="990" height="1.2" fill="#fff" fill-opacity="0.04"/><rect x="165" y="386.5" width="990" height="1.2" fill="#fff" fill-opacity="0.035"/><rect x="228" y="517.4" width="927" height="1.0" fill="#fff" fill-opacity="0.05"/><path d="M165 504.6 L212 506 Q224 507 228.1 514 L228.6 522.7" fill="none" stroke="#fff" stroke-opacity="0.34" stroke-width="1.6"/><path d="M165 481.6 L210 484.6 Q220 486 224.8 495.3 L227.5 500.8" fill="none" stroke="#fff" stroke-opacity="0.32" stroke-width="1.6"/><path d="M165 458.5 L208 462.3 Q218 464 222.6 472.2 L227 476.6" fill="none" stroke="#fff" stroke-opacity="0.27" stroke-width="1.6"/><path d="M165 434.9 L206 439 Q216 441 221.5 450.3 Q226 460 228 472" fill="none" stroke="#fff" stroke-opacity="0.2" stroke-width="1.6"/><path d="M165 411.8 L198 415.5 Q212 419 217 424 L222.6 432.7" fill="none" stroke="#fff" stroke-opacity="0.13" stroke-width="1.6"/><path d="M165 483 Q182 487 192 499" fill="none" stroke="#fff" stroke-opacity="0.09" stroke-width="1.6"/><path d="M165 460 Q184 465 194 478" fill="none" stroke="#fff" stroke-opacity="0.08" stroke-width="1.6"/><path d="M165 436 Q186 442 198 456" fill="none" stroke="#fff" stroke-opacity="0.07" stroke-width="1.6"/><path d="M165 506.5 Q180 508 186 512 L187 522" fill="none" stroke="#fff" stroke-opacity="0.12" stroke-width="1.6"/><path d="M165 390 Q190 394 205 404" fill="none" stroke="#fff" stroke-opacity="0.05" stroke-width="1.6"/><path d="M222 428 Q229 450 230 480" fill="none" stroke="#fff" stroke-opacity="0.06" stroke-width="1.6"/><path d="M214 506.2 Q224 507.4 228.1 514 L228.5 519" fill="none" stroke="#fff" stroke-opacity="0.12" stroke-width="1.4"/><path d="M1087.6 518 Q1088.1 514.8 1093.6 513.8 Q1105 514.2 1121 512.7 L1155 510.6" fill="none" stroke="#fff" stroke-opacity="0.44" stroke-width="1.7"/><path d="M1088.6 505.3 Q1089.1 499.9 1094.6 498.9 Q1105 498.3 1121 496.8 L1155 493.6" fill="none" stroke="#fff" stroke-opacity="0.38" stroke-width="1.7"/><path d="M1089.6 486 Q1090.1 484.5 1095.6 483.5 Q1105 481.9 1121 480.4 L1155 478.2" fill="none" stroke="#fff" stroke-opacity="0.3" stroke-width="1.7"/><path d="M1090.6 472 Q1091.1 470 1096.6 469 Q1105 466 1121 464.5 L1155 462" fill="none" stroke="#fff" stroke-opacity="0.26" stroke-width="1.7"/><path d="M1091.6 457.6 Q1092.1 456 1097.6 455 Q1105 449.5 1121 448 L1155 445.4" fill="none" stroke="#fff" stroke-opacity="0.24" stroke-width="1.7"/><path d="M1092.6 441.7 Q1093.1 439.5 1098.6 438.5 Q1105 433.5 1121 432 L1155 429.5" fill="none" stroke="#fff" stroke-opacity="0.19" stroke-width="1.7"/><path d="M1093.6 424.7 Q1094.1 423.5 1099.6 422.5 Q1105 417.5 1121 416 L1155 413.5" fill="none" stroke="#fff" stroke-opacity="0.15" stroke-width="1.7"/><path d="M1093.6 409.8 Q1094.1 407 1099.6 406 Q1105 402.5 1121 401 L1155 398.5" fill="none" stroke="#fff" stroke-opacity="0.08" stroke-width="1.7"/><path d="M1144 514 Q1146 510 1155 509" fill="none" stroke="#fff" stroke-opacity="0.26" stroke-width="1.3"/><path d="M1144 497 Q1146 492 1155 491" fill="none" stroke="#fff" stroke-opacity="0.2" stroke-width="1.3"/><path d="M1144 480 Q1146 476 1155 475" fill="none" stroke="#fff" stroke-opacity="0.16" stroke-width="1.3"/><path d="M1144 463 Q1146 458 1155 457" fill="none" stroke="#fff" stroke-opacity="0.13" stroke-width="1.3"/><rect x="1087" y="470" width="2" height="50" fill="#fff" fill-opacity="0.06"/><path d="M370 440 Q385 480 400 497" fill="none" stroke="#fff" stroke-opacity="0.05" stroke-width="1.2"/><path d="M588 448 Q600 475 615 490" fill="none" stroke="#fff" stroke-opacity="0.06" stroke-width="1.2"/><path d="M1004 463 Q1012 480 1022 492" fill="none" stroke="#fff" stroke-opacity="0.06" stroke-width="1.2"/><path d="M363 524.5 Q365 517.5 370 517.5 T388 524.2" fill="none" stroke="#9e9e9e" stroke-width="1.2" stroke-opacity="0.85"/><path d="M363 525 Q365 520 370 520 T383 524.8" fill="none" stroke="#d9d9d9" stroke-width="1.1" stroke-opacity="0.85"/><path d="M589 524.5 Q591 519.5 596 519.5 T614 524.2" fill="none" stroke="#9e9e9e" stroke-width="1.2" stroke-opacity="0.85"/><path d="M589 525 Q591 522 596 522 T609 524.8" fill="none" stroke="#d9d9d9" stroke-width="1.1" stroke-opacity="0.85"/><path d="M1003 524.5 Q1005 520.5 1010 520.5 T1022 524.2" fill="none" stroke="#9e9e9e" stroke-width="1.2" stroke-opacity="0.85"/><path d="M1003 525 Q1005 523 1010 523 T1017 524.8" fill="none" stroke="#d9d9d9" stroke-width="1.1" stroke-opacity="0.85"/><rect x="638" y="524.2" width="1" height="1.4" fill="url(#hot2)"/><rect x="639" y="524.6" width="1" height="1" fill="url(#hot2)"/><rect x="640" y="524.3" width="1" height="1.3" fill="url(#hot2)"/><rect x="641" y="524" width="1" height="1.6" fill="url(#hot2)"/><rect x="642" y="521.3" width="1" height="4.3" fill="url(#hot2)"/><rect x="643" y="523.1" width="1" height="2.5" fill="url(#hot2)"/><rect x="644" y="523.2" width="1" height="2.4" fill="url(#hot2)"/><rect x="645" y="520" width="1" height="5.6" fill="url(#hot2)"/><rect x="646" y="522.2" width="1" height="3.4" fill="url(#hot2)"/><rect x="647" y="521.2" width="1" height="4.4" fill="url(#hot2)"/><rect x="649" y="517.4" width="1" height="8.2" fill="url(#hot2)"/><rect x="650" y="512.1" width="2" height="13.5" fill="url(#hot2)"/><rect x="651" y="520.4" width="1" height="5.2" fill="url(#hot2)"/><rect x="652" y="521.1" width="2" height="4.5" fill="url(#hot2)"/><rect x="653" y="510.4" width="1" height="15.2" fill="url(#hot2)"/><rect x="654" y="516.2" width="1" height="9.4" fill="url(#hot2)"/><rect x="655" y="514.2" width="1" height="11.4" fill="url(#hot2)"/><rect x="657" y="511.7" width="1" height="13.9" fill="url(#hot2)"/><rect x="658" y="518.7" width="1" height="6.9" fill="url(#hot2)"/><rect x="659" y="502.7" width="1" height="22.9" fill="url(#hot2)"/><rect x="660" y="505.3" width="2" height="20.3" fill="url(#hot2)"/><rect x="661" y="518.7" width="2" height="6.9" fill="url(#hot2)"/><rect x="663" y="519.7" width="2" height="5.9" fill="url(#hot2)"/><rect x="664" y="506.3" width="1" height="19.3" fill="url(#hot2)"/><rect x="665" y="519.6" width="1" height="6" fill="url(#hot2)"/><rect x="666" y="517.3" width="2" height="8.3" fill="url(#hot2)"/><rect x="667" y="520.1" width="1" height="5.5" fill="url(#hot2)"/><rect x="668" y="516.8" width="1" height="8.8" fill="url(#hot2)"/><rect x="669" y="520.3" width="1" height="5.3" fill="url(#hot2)"/><rect x="670" y="521.8" width="1" height="3.8" fill="url(#hot2)"/><rect x="671" y="522.1" width="2" height="3.5" fill="url(#hot2)"/><rect x="672" y="518.3" width="1" height="7.3" fill="url(#hot2)"/><rect x="673" y="521.5" width="1" height="4.1" fill="url(#hot2)"/><rect x="674" y="521.2" width="1" height="4.4" fill="url(#hot2)"/><rect x="675" y="521.7" width="1" height="3.9" fill="url(#hot2)"/><rect x="676" y="522.1" width="1" height="3.5" fill="url(#hot2)"/><rect x="677" y="521.3" width="1" height="4.3" fill="url(#hot2)"/><rect x="678" y="523.6" width="1" height="2" fill="url(#hot2)"/><rect x="679" y="524.5" width="1" height="1.1" fill="url(#hot2)"/><rect x="682" y="523.6" width="1" height="2" fill="url(#hot2)"/><rect x="683" y="524.3" width="1" height="1.3" fill="url(#hot2)"/><rect x="684" y="521.4" width="1" height="4.2" fill="url(#hot2)"/><rect x="685" y="520.9" width="2" height="4.7" fill="url(#hot2)"/><rect x="686" y="513.5" width="2" height="12.1" fill="url(#hot2)"/><rect x="687" y="511.9" width="1" height="13.7" fill="url(#hot2)"/><rect x="688" y="515.7" width="2" height="9.9" fill="url(#hot2)"/><rect x="689" y="519" width="1" height="6.6" fill="url(#hot2)"/><rect x="690" y="519" width="1" height="6.6" fill="url(#hot2)"/><rect x="691" y="517.6" width="2" height="8" fill="url(#hot2)"/><rect x="692" y="501.7" width="1" height="23.9" fill="url(#hot2)"/><rect x="693" y="496.1" width="1" height="29.5" fill="url(#hot2)"/><rect x="694" y="508" width="1" height="17.6" fill="url(#hot2)"/><rect x="695" y="514.5" width="1" height="11.1" fill="url(#hot2)"/><rect x="696" y="499.7" width="2" height="25.9" fill="url(#hot2)"/><rect x="697" y="493.9" width="1" height="31.7" fill="url(#hot2)"/><rect x="698" y="498.6" width="1" height="27" fill="url(#hot2)"/><rect x="699" y="502.6" width="1" height="23" fill="url(#hot2)"/><rect x="700" y="514.6" width="2" height="11" fill="url(#hot2)"/><rect x="701" y="509.2" width="1" height="16.4" fill="url(#hot2)"/><rect x="702" y="488.6" width="1" height="37" fill="url(#hot2)"/><rect x="703" y="499.2" width="1" height="26.4" fill="url(#hot2)"/><rect x="704" y="501.2" width="1" height="24.4" fill="url(#hot2)"/><rect x="705" y="514.8" width="1" height="10.8" fill="url(#hot2)"/><rect x="706" y="508.2" width="1" height="17.4" fill="url(#hot2)"/><rect x="707" y="518.4" width="1" height="7.2" fill="url(#hot2)"/><rect x="708" y="509.5" width="1" height="16.1" fill="url(#hot2)"/><rect x="709" y="503.4" width="1" height="22.2" fill="url(#hot2)"/><rect x="710" y="510.9" width="1" height="14.7" fill="url(#hot2)"/><rect x="711" y="517.1" width="1" height="8.5" fill="url(#hot2)"/><rect x="712" y="519.4" width="1" height="6.2" fill="url(#hot2)"/><rect x="713" y="520.2" width="1" height="5.4" fill="url(#hot2)"/><rect x="714" y="521.2" width="2" height="4.4" fill="url(#hot2)"/><rect x="715" y="521.8" width="1" height="3.8" fill="url(#hot2)"/><rect x="716" y="516" width="1" height="9.6" fill="url(#hot2)"/><rect x="717" y="522.6" width="1" height="3" fill="url(#hot2)"/><rect x="718" y="522.1" width="1" height="3.5" fill="url(#hot2)"/><rect x="719" y="523.8" width="2" height="1.8" fill="url(#hot2)"/><rect x="721" y="523.1" width="1" height="2.5" fill="url(#hot2)"/><rect x="722" y="523.5" width="1" height="2.1" fill="url(#hot2)"/><rect x="723" y="520.4" width="1" height="5.2" fill="url(#hot2)"/><rect x="724" y="517.6" width="1" height="8" fill="url(#hot2)"/><rect x="725" y="519.5" width="1" height="6.1" fill="url(#hot2)"/><rect x="726" y="516.2" width="1" height="9.4" fill="url(#hot2)"/><rect x="727" y="520.8" width="1" height="4.8" fill="url(#hot2)"/><rect x="731" y="514.5" width="1" height="11.1" fill="url(#hot2)"/><rect x="732" y="516.3" width="1" height="9.3" fill="url(#hot2)"/><rect x="733" y="522.2" width="1" height="3.4" fill="url(#hot2)"/><rect x="734" y="521.1" width="1" height="4.5" fill="url(#hot2)"/><rect x="735" y="516.2" width="1" height="9.4" fill="url(#hot2)"/><rect x="736" y="519.7" width="1" height="5.9" fill="url(#hot2)"/><rect x="738" y="522.3" width="1" height="3.3" fill="url(#hot2)"/><rect x="740" y="518.2" width="1" height="7.4" fill="url(#hot2)"/><rect x="741" y="523" width="1" height="2.6" fill="url(#hot2)"/><rect x="744" y="520.2" width="1" height="5.4" fill="url(#hot2)"/><rect x="745" y="520.6" width="1" height="5" fill="url(#hot2)"/><rect x="746" y="522.4" width="2" height="3.2" fill="url(#hot2)"/><rect x="747" y="522.1" width="1" height="3.5" fill="url(#hot2)"/><rect x="749" y="523.6" width="1" height="2" fill="url(#hot2)"/><rect x="750" y="525" width="1" height="0.6" fill="url(#hot2)"/><rect x="751" y="524.4" width="1" height="1.2" fill="url(#hot2)"/><rect x="803" y="524.6" width="2" height="1" fill="url(#hot2)"/><rect x="804" y="524.2" width="1" height="1.4" fill="url(#hot2)"/><rect x="805" y="520" width="1" height="5.6" fill="url(#hot2)"/><rect x="806" y="517.3" width="1" height="8.3" fill="url(#hot2)"/><rect x="807" y="519.7" width="2" height="5.9" fill="url(#hot2)"/><rect x="808" y="510.3" width="1" height="15.3" fill="url(#hot2)"/><rect x="809" y="507.3" width="2" height="18.3" fill="url(#hot2)"/><rect x="810" y="518.5" width="1" height="7.1" fill="url(#hot2)"/><rect x="811" y="504.5" width="2" height="21.1" fill="url(#hot2)"/><rect x="812" y="503.1" width="1" height="22.5" fill="url(#hot2)"/><rect x="813" y="517.4" width="1" height="8.2" fill="url(#hot2)"/><rect x="814" y="515.4" width="1" height="10.2" fill="url(#hot2)"/><rect x="815" y="516.7" width="1" height="8.9" fill="url(#hot2)"/><rect x="816" y="499.6" width="1" height="26" fill="url(#hot2)"/><rect x="817" y="487.3" width="1" height="38.3" fill="url(#hot2)"/><rect x="818" y="502.8" width="1" height="22.8" fill="url(#hot2)"/><rect x="819" y="509.3" width="1" height="16.3" fill="url(#hot2)"/><rect x="820" y="502.4" width="1" height="23.2" fill="url(#hot2)"/><rect x="821" y="498.4" width="1" height="27.2" fill="url(#hot2)"/><rect x="822" y="516.7" width="1" height="8.9" fill="url(#hot2)"/><rect x="823" y="504.8" width="2" height="20.8" fill="url(#hot2)"/><rect x="824" y="512.8" width="1" height="12.8" fill="url(#hot2)"/><rect x="825" y="518.4" width="1" height="7.2" fill="url(#hot2)"/><rect x="826" y="507.9" width="1" height="17.7" fill="url(#hot2)"/><rect x="827" y="518.7" width="1" height="6.9" fill="url(#hot2)"/><rect x="828" y="517" width="1" height="8.6" fill="url(#hot2)"/><rect x="829" y="521.6" width="1" height="4" fill="url(#hot2)"/><rect x="830" y="516" width="1" height="9.6" fill="url(#hot2)"/><rect x="831" y="521.4" width="1" height="4.2" fill="url(#hot2)"/><rect x="832" y="523.7" width="2" height="1.9" fill="url(#hot2)"/><rect x="833" y="524.3" width="1" height="1.3" fill="url(#hot2)"/><rect x="836" y="521.6" width="1" height="4" fill="url(#hot2)"/><rect x="837" y="522.3" width="1" height="3.3" fill="url(#hot2)"/><rect x="840" y="521.5" width="1" height="4.1" fill="url(#hot2)"/><rect x="844" y="521.3" width="1" height="4.3" fill="url(#hot2)"/><rect x="846" y="521.5" width="2" height="4.1" fill="url(#hot2)"/><rect x="847" y="523.1" width="1" height="2.5" fill="url(#hot2)"/><rect x="850" y="523.5" width="1" height="2.1" fill="url(#hot2)"/><rect x="851" y="522.1" width="1" height="3.5" fill="url(#hot2)"/><rect x="852" y="523.7" width="2" height="1.9" fill="url(#hot2)"/><rect x="854" y="520.4" width="1" height="5.2" fill="url(#hot2)"/><rect x="855" y="520.7" width="1" height="4.9" fill="url(#hot2)"/><rect x="857" y="524.3" width="1" height="1.3" fill="url(#hot2)"/><rect x="858" y="524.5" width="1" height="1.1" fill="url(#hot2)"/><rect x="859" y="524.3" width="1" height="1.3" fill="url(#hot2)"/><rect x="863" y="525.3" width="1" height="0.3" fill="url(#hot2)"/><rect x="759" y="524" width="2" height="1.6" fill="url(#hot2)"/><rect x="766" y="523.2" width="1" height="2.4" fill="url(#hot2)"/><rect x="771" y="523.3" width="1" height="2.3" fill="url(#hot2)"/><rect x="776" y="521.9" width="1" height="3.7" fill="url(#hot2)"/><rect x="780" y="522.9" width="1" height="2.7" fill="url(#hot2)"/><rect x="784" y="523.1" width="1" height="2.5" fill="url(#hot2)"/><rect x="792" y="523.7" width="1" height="1.9" fill="url(#hot2)"/><rect x="794" y="523.2" width="1" height="2.4" fill="url(#hot2)"/><rect x="795" y="524.8" width="1" height="0.8" fill="url(#hot2)"/><rect x="796" y="524.7" width="1" height="0.9" fill="url(#hot2)"/><rect x="799" y="525.2" width="1" height="0.4" fill="url(#hot2)"/><rect x="802" y="525.2" width="1" height="0.4" fill="url(#hot2)"/><rect x="600" y="525.5" width="1" height="0.1" fill="url(#hot2)"/><rect x="605" y="524.4" width="1" height="1.2" fill="url(#hot2)"/><rect x="610" y="524.4" width="1" height="1.2" fill="url(#hot2)"/><rect x="614" y="524.4" width="1" height="1.2" fill="url(#hot2)"/><rect x="616" y="524.8" width="1" height="0.8" fill="url(#hot2)"/><rect x="617" y="524.5" width="1" height="1.1" fill="url(#hot2)"/><rect x="625" y="521.9" width="2" height="3.7" fill="url(#hot2)"/><rect x="627" y="521.7" width="1" height="3.9" fill="url(#hot2)"/><rect x="628" y="524.3" width="2" height="1.3" fill="url(#hot2)"/><rect x="630" y="524.5" width="1" height="1.1" fill="url(#hot2)"/><rect x="631" y="522.8" width="1" height="2.8" fill="url(#hot2)"/><rect x="632" y="522.6" width="1" height="3" fill="url(#hot2)"/><rect x="633" y="523.1" width="1" height="2.5" fill="url(#hot2)"/><rect x="865" y="524.8" width="1" height="0.8" fill="url(#hot2)"/><rect x="872" y="523.3" width="1" height="2.3" fill="url(#hot2)"/><rect x="874" y="523.4" width="1" height="2.2" fill="url(#hot2)"/><rect x="877" y="522.3" width="1" height="3.3" fill="url(#hot2)"/><rect x="884" y="523.7" width="1" height="1.9" fill="url(#hot2)"/><rect x="885" y="523.9" width="1" height="1.7" fill="url(#hot2)"/><rect x="892" y="524.4" width="1" height="1.2" fill="url(#hot2)"/><rect x="638" y="523.3" width="1" height="2.3" fill="url(#streak)"/><rect x="640" y="517.2" width="1" height="8.4" fill="url(#streak)"/><rect x="641" y="520.6" width="1" height="5" fill="url(#streak)"/><rect x="645" y="515.1" width="1" height="10.5" fill="url(#streak)"/><rect x="646" y="506.2" width="1" height="19.4" fill="url(#streak)"/><rect x="647" y="501.3" width="2" height="24.3" fill="url(#streak)"/><rect x="648" y="515.9" width="1" height="9.7" fill="url(#streak)"/><rect x="649" y="513.2" width="2" height="12.4" fill="url(#streak)"/><rect x="658" y="491.3" width="1" height="34.3" fill="url(#streak)"/><rect x="660" y="489.9" width="1" height="35.7" fill="url(#streak)"/><rect x="661" y="513.8" width="1" height="11.8" fill="url(#streak)"/><rect x="664" y="493.2" width="1" height="32.4" fill="url(#streak)"/><rect x="665" y="512.7" width="1" height="12.9" fill="url(#streak)"/><rect x="666" y="512.1" width="1" height="13.5" fill="url(#streak)"/><rect x="669" y="509" width="1" height="16.6" fill="url(#streak)"/><rect x="670" y="503.7" width="1" height="21.9" fill="url(#streak)"/><rect x="672" y="519.8" width="1" height="5.8" fill="url(#streak)"/><rect x="673" y="506.2" width="2" height="19.4" fill="url(#streak)"/><rect x="674" y="517.6" width="1" height="8" fill="url(#streak)"/><rect x="676" y="521.8" width="1" height="3.8" fill="url(#streak)"/><rect x="677" y="518.6" width="1" height="7" fill="url(#streak)"/><rect x="679" y="521.1" width="1" height="4.5" fill="url(#streak)"/><rect x="682" y="520.2" width="1" height="5.4" fill="url(#streak)"/><rect x="683" y="522.8" width="1" height="2.8" fill="url(#streak)"/><rect x="684" y="514.5" width="2" height="11.1" fill="url(#streak)"/><rect x="685" y="519.7" width="1" height="5.9" fill="url(#streak)"/><rect x="686" y="512.5" width="2" height="13.1" fill="url(#streak)"/><rect x="687" y="493.5" width="1" height="32.1" fill="url(#streak)"/><rect x="688" y="515.9" width="1" height="9.7" fill="url(#streak)"/><rect x="690" y="507.7" width="1" height="17.9" fill="url(#streak)"/><rect x="691" y="480.5" width="1" height="45.1" fill="url(#streak)"/><rect x="692" y="502.2" width="1" height="23.4" fill="url(#streak)"/><rect x="693" y="484.6" width="1" height="41" fill="url(#streak)"/><rect x="694" y="498.7" width="1" height="26.9" fill="url(#streak)"/><rect x="695" y="494.2" width="1" height="31.4" fill="url(#streak)"/><rect x="696" y="454.2" width="1" height="71.4" fill="url(#streak)"/><rect x="697" y="497" width="1" height="28.6" fill="url(#streak)"/><rect x="699" y="459.6" width="1" height="66" fill="url(#streak)"/><rect x="700" y="448.4" width="2" height="77.2" fill="url(#streak)"/><rect x="701" y="497.8" width="1" height="27.8" fill="url(#streak)"/><rect x="703" y="479.1" width="1" height="46.5" fill="url(#streak)"/><rect x="706" y="510.2" width="1" height="15.4" fill="url(#streak)"/><rect x="707" y="492.4" width="2" height="33.2" fill="url(#streak)"/><rect x="709" y="483.4" width="2" height="42.2" fill="url(#streak)"/><rect x="711" y="509.9" width="2" height="15.7" fill="url(#streak)"/><rect x="713" y="490.7" width="1" height="34.9" fill="url(#streak)"/><rect x="714" y="506.5" width="1" height="19.1" fill="url(#streak)"/><rect x="715" y="502.7" width="2" height="22.9" fill="url(#streak)"/><rect x="716" y="509.1" width="1" height="16.5" fill="url(#streak)"/><rect x="717" y="518.1" width="1" height="7.5" fill="url(#streak)"/><rect x="718" y="510.1" width="1" height="15.5" fill="url(#streak)"/><rect x="719" y="513" width="1" height="12.6" fill="url(#streak)"/><rect x="720" y="519" width="2" height="6.6" fill="url(#streak)"/><rect x="725" y="521.7" width="1" height="3.9" fill="url(#streak)"/><rect x="727" y="515" width="1" height="10.6" fill="url(#streak)"/><rect x="729" y="519.2" width="2" height="6.4" fill="url(#streak)"/><rect x="730" y="518" width="1" height="7.6" fill="url(#streak)"/><rect x="732" y="510.5" width="1" height="15.1" fill="url(#streak)"/><rect x="734" y="519.5" width="2" height="6.1" fill="url(#streak)"/><rect x="738" y="510.4" width="1" height="15.2" fill="url(#streak)"/><rect x="743" y="521.8" width="1" height="3.8" fill="url(#streak)"/><rect x="744" y="521.9" width="1" height="3.7" fill="url(#streak)"/><rect x="750" y="521.7" width="1" height="3.9" fill="url(#streak)"/><rect x="751" y="520.6" width="1" height="5" fill="url(#streak)"/><rect x="804" y="522.3" width="1" height="3.3" fill="url(#streak)"/><rect x="805" y="512.3" width="2" height="13.3" fill="url(#streak)"/><rect x="806" y="520.7" width="1" height="4.9" fill="url(#streak)"/><rect x="807" y="504.1" width="2" height="21.5" fill="url(#streak)"/><rect x="809" y="500.1" width="1" height="25.5" fill="url(#streak)"/><rect x="810" y="488.4" width="1" height="37.2" fill="url(#streak)"/><rect x="811" y="494.9" width="2" height="30.7" fill="url(#streak)"/><rect x="812" y="509" width="1" height="16.6" fill="url(#streak)"/><rect x="813" y="512" width="1" height="13.6" fill="url(#streak)"/><rect x="814" y="510.5" width="1" height="15.1" fill="url(#streak)"/><rect x="815" y="506.6" width="1" height="19" fill="url(#streak)"/><rect x="816" y="510" width="1" height="15.6" fill="url(#streak)"/><rect x="817" y="508.9" width="2" height="16.7" fill="url(#streak)"/><rect x="818" y="467.3" width="2" height="58.3" fill="url(#streak)"/><rect x="820" y="499.3" width="1" height="26.3" fill="url(#streak)"/><rect x="823" y="503.2" width="1" height="22.4" fill="url(#streak)"/><rect x="825" y="499.8" width="1" height="25.8" fill="url(#streak)"/><rect x="826" y="515.4" width="1" height="10.2" fill="url(#streak)"/><rect x="827" y="515.3" width="2" height="10.3" fill="url(#streak)"/><rect x="828" y="511.3" width="1" height="14.3" fill="url(#streak)"/><rect x="829" y="501.3" width="1" height="24.3" fill="url(#streak)"/><rect x="830" y="512.7" width="1" height="12.9" fill="url(#streak)"/><rect x="832" y="507.1" width="1" height="18.5" fill="url(#streak)"/><rect x="834" y="522.2" width="1" height="3.4" fill="url(#streak)"/><rect x="835" y="523.5" width="1" height="2.1" fill="url(#streak)"/><rect x="698" y="467.6" width="1" height="58" fill="url(#hot2)" opacity="0.8"/><rect x="700" y="477.6" width="1" height="48" fill="url(#hot2)" opacity="0.8"/><rect x="692" y="485.6" width="1" height="40" fill="url(#hot2)" opacity="0.8"/><rect x="817" y="481.6" width="1" height="44" fill="url(#hot2)" opacity="0.8"/><rect x="814" y="487.6" width="1" height="38" fill="url(#hot2)" opacity="0.8"/><rect x="706" y="485.6" width="1" height="40" fill="url(#hot2)" opacity="0.8"/><rect x="857" y="503.6" width="1" height="22" fill="url(#hot2)" opacity="0.8"/><rect x="668" y="499.6" width="1" height="26" fill="url(#hot2)" opacity="0.8"/><rect x="724" y="495.6" width="1" height="30" fill="url(#hot2)" opacity="0.8"/><rect x="696" y="367" width="1.5" height="150" fill="#fff" fill-opacity="0.07"/><rect x="858" y="497" width="1" height="28" fill="#fff" fill-opacity="0.12"/>
</g>
<rect x="165" y="528" width="990.5" height="1" fill="#262626"/>
<text x="155.5" y="299.3" font-size="21.2" text-anchor="end" textLength="12.2" lengthAdjust="spacingAndGlyphs">0</text>
<text x="155.5" y="259.6" font-size="21.2" text-anchor="end" textLength="25.4" lengthAdjust="spacingAndGlyphs">20</text>
<text x="155.5" y="219.8" font-size="21.2" text-anchor="end" textLength="25.4" lengthAdjust="spacingAndGlyphs">40</text>
<text x="155.5" y="180.1" font-size="21.2" text-anchor="end" textLength="25.4" lengthAdjust="spacingAndGlyphs">60</text>
<text x="155.5" y="140.3" font-size="21.2" text-anchor="end" textLength="25.4" lengthAdjust="spacingAndGlyphs">80</text>
<text x="155.5" y="535.3" font-size="21.2" text-anchor="end" textLength="12.2" lengthAdjust="spacingAndGlyphs">0</text>
<text x="155.5" y="495.1" font-size="21.2" text-anchor="end" textLength="25.4" lengthAdjust="spacingAndGlyphs">20</text>
<text x="155.5" y="454.8" font-size="21.2" text-anchor="end" textLength="25.4" lengthAdjust="spacingAndGlyphs">40</text>
<text x="155.5" y="414.6" font-size="21.2" text-anchor="end" textLength="25.4" lengthAdjust="spacingAndGlyphs">60</text>
<text x="155.5" y="374.3" font-size="21.2" text-anchor="end" textLength="25.4" lengthAdjust="spacingAndGlyphs">80</text>
<text x="92.5" y="302.6" font-size="20" font-weight="bold" stroke="#262626" stroke-width="0.3" textLength="178.7" lengthAdjust="spacingAndGlyphs" transform="rotate(-90 92.5 302.6)">Outboard Sensor</text>
<text x="118.5" y="292.1" font-size="20" font-weight="bold" stroke="#262626" stroke-width="0.3" textLength="157.6" lengthAdjust="spacingAndGlyphs" transform="rotate(-90 118.5 292.1)">Frequency (Hz)</text>
<rect x="1225.5" y="118.5" width="32" height="399.5" fill="url(#cbg)" stroke="#262626" stroke-width="1"/>
<text x="1217.4" y="123.8" font-size="14.6" font-weight="bold" stroke="#262626" stroke-width="0.3" text-anchor="end" textLength="19.5" lengthAdjust="spacingAndGlyphs">10</text>
<rect x="1226" y="175.1" width="4.5" height="1" fill="#262626"/>
<text x="1217.4" y="180.9" font-size="14.6" font-weight="bold" stroke="#262626" stroke-width="0.3" text-anchor="end" textLength="9.3" lengthAdjust="spacingAndGlyphs">5</text>
<rect x="1226" y="232.1" width="4.5" height="1" fill="#262626"/>
<text x="1217.4" y="237.9" font-size="14.6" font-weight="bold" stroke="#262626" stroke-width="0.3" text-anchor="end" textLength="9.3" lengthAdjust="spacingAndGlyphs">0</text>
<rect x="1226" y="289.2" width="4.5" height="1" fill="#262626"/>
<text x="1217.4" y="295" font-size="14.6" font-weight="bold" stroke="#262626" stroke-width="0.3" text-anchor="end" textLength="15.4" lengthAdjust="spacingAndGlyphs">-5</text>
<rect x="1226" y="346.3" width="4.5" height="1" fill="#262626"/>
<text x="1217.4" y="352.1" font-size="14.6" font-weight="bold" stroke="#262626" stroke-width="0.3" text-anchor="end" textLength="25.6" lengthAdjust="spacingAndGlyphs">-10</text>
<rect x="1226" y="403.3" width="4.5" height="1" fill="#262626"/>
<text x="1217.4" y="409.1" font-size="14.6" font-weight="bold" stroke="#262626" stroke-width="0.3" text-anchor="end" textLength="25.6" lengthAdjust="spacingAndGlyphs">-15</text>
<rect x="1226" y="460.4" width="4.5" height="1" fill="#262626"/>
<text x="1217.4" y="466.2" font-size="14.6" font-weight="bold" stroke="#262626" stroke-width="0.3" text-anchor="end" textLength="25.6" lengthAdjust="spacingAndGlyphs">-20</text>
<text x="1217.4" y="523.3" font-size="14.6" font-weight="bold" stroke="#262626" stroke-width="0.3" text-anchor="end" textLength="25.6" lengthAdjust="spacingAndGlyphs">-25</text>
<!--CBLABEL-->
<text x="92.4" y="527.7" font-size="20" font-weight="bold" stroke="#262626" stroke-width="0.3" textLength="158.8" lengthAdjust="spacingAndGlyphs" transform="rotate(-90 92.4 527.7)">Inboard Sensor</text>
<text x="118.5" y="527.4" font-size="20" font-weight="bold" stroke="#262626" stroke-width="0.3" textLength="158.2" lengthAdjust="spacingAndGlyphs" transform="rotate(-90 118.5 527.4)">Frequency (Hz)</text>
<rect x="209" y="603" width="1" height="159" fill="#dfdfdf"/><rect x="704" y="603" width="1" height="159" fill="#dfdfdf"/><rect x="165" y="656" width="990" height="1" fill="#dfdfdf"/><rect x="165" y="709" width="990" height="1" fill="#dfdfdf"/>
<path d="M165 693.2 168 692.7 171 692.2 174 691.6 177 691 180 690.4 183 689.8 186 689.1 189 688.4 192 687.7 195 687 198 686.2 201 685.4 204 684.6 207 683.7 210 682.9 213 681.9 216 681 219 679.9 222 678.9 225 677.8 228 676.6 231 675.5 234 674.3 237 673.2 240 672 243 670.8 246 669.6 249 668.4 252 667.2 255 665.9 258 664.6 261 663.3 264 662 267 660.7 270 659.4 273 658.1 276 656.8 279 655.5 282 654.3 285 653 288 651.7 291 650.4 294 649.2 297 647.9 300 646.6 303 645.3 306 644.1 309 642.8 312 641.6 315 640.4 318 639.2 321 638 324 636.8 327 635.6 330 634.4 333 633.3 336 632.1 339 631 342 629.9 345 628.8 348 627.8 351 626.8 354 625.8 357 624.9 360 623.9 363 623 366 622.1 369 621.3 372 620.4 375 619.6 378 618.9 381 618.1 384 617.4 387 616.8 390 616.1 393 615.5 396 614.9 399 614.3 402 613.8 405 613.2 408 612.7 411 612.2 414 611.7 417 611.3 420 610.8 423 610.4 426 610 429 609.5 432 609.1 435 608.8 438 608.4 441 608.1 444 607.8 447 607.6 450 607.4 453 607.2 456 607 459 606.9 462 606.7 465 606.6 468 606.4 471 606.4 474 606.3 477 606.3 480 606.3 483 606.4 486 606.4 489 606.5 492 606.6 495 606.7 498 606.8 501 606.9 504 607.1 507 607.2 510 607.4 513 607.5 516 607.7 519 607.8 522 608 525 608.3 528 608.5 531 608.8 534 609.1 537 609.4 540 609.8 543 610.1 546 610.5 549 610.8 552 611.2 555 611.5 558 611.9 561 612.3 564 612.7 567 613.1 570 613.5 573 613.9 576 614.4 579 614.8 582 615.3 585 615.8 588 616.2 591 616.7 594 617.2 597 617.7 600 618.2 603 618.7 606 619.2 609 619.7 612 620.3 615 620.8 618 621.4 621 621.9 624 622.5 627 623.1 630 623.6 633 624.2 636 624.8 639 625.3 642 625.9 645 626.4 648 627 651 627.5 654 628.1 657 628.7 660 629.2 663 629.8 666 630.4 669 630.9 672 631.5 675 632.1 678 632.6 681 633.2 684 633.7 687 634.3 690 634.8 693 635.3 696 635.9 699 636.4 702 636.9 705 637.4 708 637.9 711 638.3 714 638.8 717 639.3 720 639.7 723 640.2 726 640.6 729 641.1 732 641.5 735 642 738 642.4 741 642.8 744 643.3 747 643.7 750 644.1 753 644.6 756 645 759 645.5 762 645.9 765 646.3 768 646.8 771 647.3 774 647.7 777 648.1 780 648.6 783 649 786 649.5 789 649.9 792 650.3 795 650.8 798 651.2 801 651.7 804 652.1 807 652.6 810 653 813 653.5 816 654 819 654.5 822 655 825 655.5 828 656 831 656.5 834 657.1 837 657.6 840 658.2 843 658.8 846 659.4 849 660 852 660.6 855 661.2 858 661.8 861 662.4 864 663.1 867 663.7 870 664.4 873 665.1 876 665.7 879 666.4 882 667.1 885 667.8 888 668.5 891 669.3 894 670 897 670.8 900 671.6 903 672.3 906 673.1 909 673.9 912 674.7 915 675.5 918 676.2 921 677 924 677.8 927 678.6 930 679.4 933 680.2 936 681 939 681.8 942 682.6 945 683.4 948 684.2 951 685 954 685.8 957 686.7 960 687.5 963 688.4 966 689.3 969 690.2 972 691.1 975 692.1 978 693 981 694 984 695 987 696 990 697.1 993 698.1 996 699.1 999 700.2 1002 701.3 1005 702.4 1008 703.4 1011 704.5 1014 705.6 1017 706.7 1020 707.8 1023 708.9 1026 710 1029 711.1 1032 712.2 1035 713.3 1038 714.4 1041 715.6 1044 716.7 1047 717.9 1050 719 1053 720.2 1056 721.3 1059 722.5 1062 723.7 1065 724.9 1068 726.1 1071 727.3 1074 728.6 1077 729.8 1080 731.1 1083 732.3 1086 733.6 1089 734.9 1092 736.2 1095 737.4 1098 738.7 1101 740 1104 741.2 1107 742.5 1110 743.8 1113 745 1116 746.2 1119 747.5 1122 748.7 1125 749.9 1128 751.2 1131 752.4 1134 753.6 1137 754.9 1140 756.1 1143 757.3 1146 758.5 1149 759.8 1152 761 1154.5 762" fill="none" stroke="#0000ff" stroke-width="1.5" transform="translate(0 -0.3)"/>
<path d="M165 693.2 168 692.7 171 692.2 174 691.6 177 691 180 690.4 183 689.8 186 689.1 189 688.4 192 687.7 195 687 198 686.2 201 685.4 204 684.6 207 683.7 210 682.9 213 681.9 216 681 219 679.9 222 678.9 225 677.8 228 676.6 231 675.5 234 674.3 237 673.2 240 672 243 670.8 246 669.6 249 668.4 252 667.2 255 665.9 258 664.6 261 663.3 264 662 267 660.7 270 659.4 273 658.1 276 656.8 279 655.5 282 654.3 285 653 288 651.7 291 650.4 294 649.2 297 647.9 300 646.6 303 645.3 306 644.1 309 642.8 312 641.6 315 640.4 318 639.2 321 638 324 636.8 327 635.6 330 634.4 333 633.3 336 632.1 339 631 342 629.9 345 628.8 348 627.8 351 626.8 354 625.8 357 624.9 360 623.9 363 623 366 622.1 369 621.3 372 620.4 375 619.6 378 618.9 381 618.1 384 617.4 387 616.8 390 616.1 393 615.5 396 614.9 399 614.3 402 613.8 405 613.2 408 612.7 411 612.2 414 611.7 417 611.3 420 610.8 423 610.4 426 610 429 609.5 432 609.1 435 608.8 438 608.4 441 608.1 444 607.8 447 607.6 450 607.4 453 607.2 456 607 459 606.9 462 606.7 465 606.6 468 606.4 471 606.4 474 606.3 477 606.3 480 606.3 483 606.4 486 606.4 489 606.5 492 606.6 495 606.7 498 606.8 501 606.9 504 607.1 507 607.2 510 607.4 513 607.5 516 607.7 519 607.8 522 608 525 608.3 528 608.5 531 608.8 534 609.1 537 609.4 540 609.8 543 610.1 546 610.5 549 610.8 552 611.2 555 611.5 558 611.9 561 612.3 564 612.7 567 613.1 570 613.5 573 613.9 576 614.4 579 614.8 582 615.3 585 615.8 588 616.2 591 616.7 594 617.2 597 617.7 600 618.2 603 618.7 606 619.2 609 619.7 612 620.3 615 620.8 618 621.4 621 621.9 624 622.5 627 623.1 630 623.6 633 624.2 636 624.8 639 625.3 642 625.9 645 626.4 648 627 651 627.5 654 628.1 657 628.7 660 629.2 663 629.8 666 630.4 669 630.9 672 631.5 675 632.1 678 632.6 681 633.2 684 633.7 687 634.3 690 634.8 693 635.3 696 635.9 699 636.4 702 636.9 705 637.4 708 637.9 711 638.3 714 638.8 717 639.3 720 639.7 723 640.2 726 640.6 729 641.1 732 641.5 735 642 738 642.4 741 642.8 744 643.3 747 643.7 750 644.1 753 644.6 756 645 759 645.5 762 645.9 765 646.3 768 646.8 771 647.3 774 647.7 777 648.1 780 648.6 783 649 786 649.5 789 649.9 792 650.3 795 650.8 798 651.2 801 651.7 804 652.1 807 652.6 810 653 813 653.5 816 654 819 654.5 822 655 825 655.5 828 656 831 656.5 834 657.1 837 657.6 840 658.2 843 658.8 846 659.4 849 660 852 660.6 855 661.2 858 661.8 861 662.4 864 663.1 867 663.7 870 664.4 873 665.1 876 665.7 879 666.4 882 667.1 885 667.8 888 668.5 891 669.3 894 670 897 670.8 900 671.6 903 672.3 906 673.1 909 673.9 912 674.7 915 675.5 918 676.2 921 677 924 677.8 927 678.6 930 679.4 933 680.2 936 681 939 681.8 942 682.6 945 683.4 948 684.2 951 685 954 685.8 957 686.7 960 687.5 963 688.4 966 689.3 969 690.2 972 691.1 975 692.1 978 693 981 694 984 695 987 696 990 697.1 993 698.1 996 699.1 999 700.2 1002 701.3 1005 702.4 1008 703.4 1011 704.5 1014 705.6 1017 706.7 1020 707.8 1023 708.9 1026 710 1029 711.1 1032 712.2 1035 713.3 1038 714.4 1041 715.6 1044 716.7 1047 717.9 1050 719 1053 720.2 1056 721.3 1059 722.5 1062 723.7 1065 724.9 1068 726.1 1071 727.3 1074 728.6 1077 729.8 1080 731.1 1083 732.3 1086 733.6 1089 734.9 1092 736.2 1095 737.4 1098 738.7 1101 740 1104 741.2 1107 742.5 1110 743.8 1113 745 1116 746.2 1119 747.5 1122 748.7 1125 749.9 1128 751.2 1131 752.4 1134 753.6 1137 754.9 1140 756.1 1143 757.3 1146 758.5 1149 759.8 1152 761 1154.5 762" fill="none" stroke="#00ff00" stroke-width="1.5" transform="translate(0 -0.22)"/>
<path d="M165 693.2 168 692.7 171 692.2 174 691.6 177 691 180 690.4 183 689.8 186 689.1 189 688.4 192 687.7 195 687 198 686.2 201 685.4 204 684.6 207 683.7 210 682.9 213 681.9 216 681 219 679.9 222 678.9 225 677.8 228 676.6 231 675.5 234 674.3 237 673.2 240 672 243 670.8 246 669.6 249 668.4 252 667.2 255 665.9 258 664.6 261 663.3 264 662 267 660.7 270 659.4 273 658.1 276 656.8 279 655.5 282 654.3 285 653 288 651.7 291 650.4 294 649.2 297 647.9 300 646.6 303 645.3 306 644.1 309 642.8 312 641.6 315 640.4 318 639.2 321 638 324 636.8 327 635.6 330 634.4 333 633.3 336 632.1 339 631 342 629.9 345 628.8 348 627.8 351 626.8 354 625.8 357 624.9 360 623.9 363 623 366 622.1 369 621.3 372 620.4 375 619.6 378 618.9 381 618.1 384 617.4 387 616.8 390 616.1 393 615.5 396 614.9 399 614.3 402 613.8 405 613.2 408 612.7 411 612.2 414 611.7 417 611.3 420 610.8 423 610.4 426 610 429 609.5 432 609.1 435 608.8 438 608.4 441 608.1 444 607.8 447 607.6 450 607.4 453 607.2 456 607 459 606.9 462 606.7 465 606.6 468 606.4 471 606.4 474 606.3 477 606.3 480 606.3 483 606.4 486 606.4 489 606.5 492 606.6 495 606.7 498 606.8 501 606.9 504 607.1 507 607.2 510 607.4 513 607.5 516 607.7 519 607.8 522 608 525 608.3 528 608.5 531 608.8 534 609.1 537 609.4 540 609.8 543 610.1 546 610.5 549 610.8 552 611.2 555 611.5 558 611.9 561 612.3 564 612.7 567 613.1 570 613.5 573 613.9 576 614.4 579 614.8 582 615.3 585 615.8 588 616.2 591 616.7 594 617.2 597 617.7 600 618.2 603 618.7 606 619.2 609 619.7 612 620.3 615 620.8 618 621.4 621 621.9 624 622.5 627 623.1 630 623.6 633 624.2 636 624.8 639 625.3 642 625.9 645 626.4 648 627 651 627.5 654 628.1 657 628.7 660 629.2 663 629.8 666 630.4 669 630.9 672 631.5 675 632.1 678 632.6 681 633.2 684 633.7 687 634.3 690 634.8 693 635.3 696 635.9 699 636.4 702 636.9 705 637.4 708 637.9 711 638.3 714 638.8 717 639.3 720 639.7 723 640.2 726 640.6 729 641.1 732 641.5 735 642 738 642.4 741 642.8 744 643.3 747 643.7 750 644.1 753 644.6 756 645 759 645.5 762 645.9 765 646.3 768 646.8 771 647.3 774 647.7 777 648.1 780 648.6 783 649 786 649.5 789 649.9 792 650.3 795 650.8 798 651.2 801 651.7 804 652.1 807 652.6 810 653 813 653.5 816 654 819 654.5 822 655 825 655.5 828 656 831 656.5 834 657.1 837 657.6 840 658.2 843 658.8 846 659.4 849 660 852 660.6 855 661.2 858 661.8 861 662.4 864 663.1 867 663.7 870 664.4 873 665.1 876 665.7 879 666.4 882 667.1 885 667.8 888 668.5 891 669.3 894 670 897 670.8 900 671.6 903 672.3 906 673.1 909 673.9 912 674.7 915 675.5 918 676.2 921 677 924 677.8 927 678.6 930 679.4 933 680.2 936 681 939 681.8 942 682.6 945 683.4 948 684.2 951 685 954 685.8 957 686.7 960 687.5 963 688.4 966 689.3 969 690.2 972 691.1 975 692.1 978 693 981 694 984 695 987 696 990 697.1 993 698.1 996 699.1 999 700.2 1002 701.3 1005 702.4 1008 703.4 1011 704.5 1014 705.6 1017 706.7 1020 707.8 1023 708.9 1026 710 1029 711.1 1032 712.2 1035 713.3 1038 714.4 1041 715.6 1044 716.7 1047 717.9 1050 719 1053 720.2 1056 721.3 1059 722.5 1062 723.7 1065 724.9 1068 726.1 1071 727.3 1074 728.6 1077 729.8 1080 731.1 1083 732.3 1086 733.6 1089 734.9 1092 736.2 1095 737.4 1098 738.7 1101 740 1104 741.2 1107 742.5 1110 743.8 1113 745 1116 746.2 1119 747.5 1122 748.7 1125 749.9 1128 751.2 1131 752.4 1134 753.6 1137 754.9 1140 756.1 1143 757.3 1146 758.5 1149 759.8 1152 761 1154.5 762" fill="none" stroke="#ff0000" stroke-width="1.45" stroke-opacity="0.93"/>
<rect x="165.5" y="603.5" width="989" height="159" fill="none" stroke="#262626" stroke-width="1"/><rect x="209" y="603" width="1" height="10" fill="#262626"/><rect x="209" y="753" width="1" height="10" fill="#262626"/><rect x="704" y="603" width="1" height="10" fill="#262626"/><rect x="704" y="753" width="1" height="10" fill="#262626"/><rect x="165" y="603" width="10.5" height="1" fill="#262626"/><rect x="1144.5" y="603" width="10.5" height="1" fill="#262626"/><rect x="165" y="656" width="10.5" height="1" fill="#262626"/><rect x="1144.5" y="656" width="10.5" height="1" fill="#262626"/><rect x="165" y="709" width="10.5" height="1" fill="#262626"/><rect x="1144.5" y="709" width="10.5" height="1" fill="#262626"/><rect x="165" y="762" width="10.5" height="1" fill="#262626"/><rect x="1144.5" y="762" width="10.5" height="1" fill="#262626"/>
<text x="155.5" y="610.3" font-size="21.2" text-anchor="end" textLength="12.2" lengthAdjust="spacingAndGlyphs">4</text>
<text x="155.5" y="663.6" font-size="21.2" text-anchor="end" textLength="32" lengthAdjust="spacingAndGlyphs">3.5</text>
<text x="155.5" y="716.6" font-size="21.2" text-anchor="end" textLength="12.2" lengthAdjust="spacingAndGlyphs">3</text>
<text x="155.5" y="769.3" font-size="21.2" text-anchor="end" textLength="32" lengthAdjust="spacingAndGlyphs">2.5</text>
<path d="M169 587 L179 597 M179 587 L169 597" fill="none" stroke="#262626" stroke-width="1"/>
<text x="184.4" y="597.2" font-size="21.2" textLength="25" lengthAdjust="spacingAndGlyphs">10</text>
<text x="211.4" y="588.7" font-size="15.6" textLength="10.6" lengthAdjust="spacingAndGlyphs">4</text>
<text x="85.2" y="739.8" font-size="20" font-weight="bold" stroke="#262626" stroke-width="0.3" textLength="110.3" lengthAdjust="spacingAndGlyphs" transform="rotate(-90 85.2 739.8)">Total Field</text>
<text x="111.2" y="721.6" font-size="20" font-weight="bold" stroke="#262626" stroke-width="0.3" textLength="73.9" lengthAdjust="spacingAndGlyphs" transform="rotate(-90 111.2 721.6)">|B| (nT)</text>
<text x="1170" y="679.1" font-size="14.6" font-weight="bold" stroke="#000" stroke-width="0.3" textLength="62.7" lengthAdjust="spacingAndGlyphs" transform="rotate(-90 1170 679.1)" fill="#000">Inboard</text>
<text x="1181.8" y="700" font-size="14.6" font-weight="bold" stroke="#000" stroke-width="0.3" textLength="75.5" lengthAdjust="spacingAndGlyphs" transform="rotate(-90 1181.8 700)" fill="#000">Outboard</text>
<text x="1194" y="661" font-size="14.6" font-weight="bold" stroke="#000" stroke-width="0.3" textLength="48.3" lengthAdjust="spacingAndGlyphs" transform="rotate(-90 1194 661)" fill="#000">Chaos</text>
<rect x="1164" y="719" width="2" height="14.6" fill="#0000ff"/>
<rect x="1179" y="719" width="2" height="14.6" fill="#00ff00"/>
<rect x="1190.8" y="719" width="2" height="14.6" fill="#ff0000"/>
<rect x="209" y="837" width="1" height="162" fill="#dfdfdf"/><rect x="704" y="837" width="1" height="162" fill="#dfdfdf"/><rect x="165" y="890.2" width="990" height="1" fill="#dfdfdf"/><rect x="165" y="942.6" width="990" height="1" fill="#dfdfdf"/><rect x="165" y="995" width="990" height="1" fill="#dfdfdf"/>
<path d="M165 874.1V874.1h1V878.6h1V873.5h1V865.8h1V871.2h1V866.2h1V868.3h1V869.3h1V870.6h1V872.8h1V867.7h1V870.7h1V870.4h1V869.7h1V866.5h1V874.5h1V868h1V871.2h1V866.8h1V862.3h1V868.2h1V868.6h1V872.6h1V869.6h1V867.8h1V868.6h1V870.5h1V865.5h1V869.3h1V870.1h1V873.3h1V868.5h1V875.3h1V869.9h1V869.9h1V867.7h1V869.4h1V872.5h1V868.2h1V865h1V868.7h1V868.2h1V869.2h1V863.7h1V864.6h1V865.4h1V865.8h1V867.7h1V874.5h1V868.7h1V864.2h1V867.2h1V864.8h1V866.6h1V866.9h1V865h1V868.2h1V856.1h1V866.4h1V868.1h1V866.9h1V864.3h1V871.8h1V865.5h1V866.2h1V867.7h1V857.9h1V865.3h1V859h1V865.4h1V861.8h1V862.4h1V861.8h1V866h1V863.7h1V854.8h1V867.2h1V866.7h1V863.7h1V866.9h1V860.5h1V872.3h1V872.1h1V866h1V865.4h1V861.5h1V866.8h1V868.5h1V862h1V867.4h1V866.2h1V862.7h1V869.9h1V868.2h1V868.6h1V868.2h1V870.3h1V869.6h1V871.9h1V869.8h1V872.1h1V874.1h1V866.6h1V870.1h1V877.1h1V864.3h1V869.9h1V865h1V869.1h1V870.7h1V872.8h1V863h1V870.9h1V877.9h1V863h1V875.6h1V865.7h1V859.8h1V866.6h1V874.5h1V870.5h1V873.4h1V880.3h1V871.4h1V873.5h1V874.1h1V875.6h1V872.8h1V872.4h1V877.6h1V872.6h1V869.5h1V883.6h1V876.3h1V880.4h1V881.1h1V873.5h1V869.4h1V878.2h1V881.1h1V877h1V876.8h1V874.9h1V879.7h1V871.4h1V884.6h1V882.3h1V882.8h1V886.8h1V875.9h1V879.4h1V876.6h1V881.2h1V878.7h1V884.7h1V883.6h1V878.7h1V885.7h1V888.3h1V886.1h1V884.4h1V884.9h1V886.1h1V885.8h1V877.9h1V883h1V891.3h1V885.9h1V886.8h1V884.3h1V880h1V885.9h1V876.3h1V889.5h1V887h1V888.3h1V889.2h1V884.1h1V885.5h1V892.4h1V892h1V887.3h1V888.9h1V894.8h1V886.3h1V889h1V886.7h1V888.4h1V888.8h1V888h1V882.4h1V882.5h1V890.6h1V889.1h1V884.1h1V887.3h1V888.4h1V889.5h1V887.5h1V888.3h1V893.6h1V890.9h1V888h1V884.6h1V883.8h1V889.3h1V886.6h1V888.7h1V881.4h1V883.7h1V890.3h1V878.6h1V885.5h1V880.9h1V883.8h1V887h1V884.9h1V883.8h1V885h1V891.4h1V887.7h1V881.9h1V887.4h1V884.1h1V888.2h1V892.7h1V887h1V887.5h1V885.7h1V886.5h1V891.9h1V886.9h1V883.9h1V889.5h1V888h1V891.2h1V882.7h1V880.9h1V883.6h1V890.8h1V884.3h1V888h1V888h1V887.2h1V894h1V886.3h1V882.7h1V882h1V877.4h1V885.8h1V887.7h1V881.6h1V889.2h1V885.4h1V884.5h1V886h1V887.6h1V884h1V885.3h1V889.4h1V885.5h1V881.3h1V886h1V891.8h1V886.5h1V886.5h1V886h1V885.4h1V887.9h1V882.3h1V891.3h1V886.7h1V876.7h1V886.8h1V884.5h1V878.9h1V885.1h1V886h1V884.5h1V885h1V886.8h1V881.8h1V889.1h1V884.5h1V884.2h1V886.6h1V885.1h1V892.6h1V876.3h1V888.3h1V884.3h1V892.3h1V884.9h1V895.7h1V883.2h1V889.9h1V885.8h1V887.2h1V885.7h1V894.1h1V885h1V884.5h1V883.1h1V883.6h1V888.3h1V885.2h1V895.6h1V884.4h1V888.3h1V886.1h1V885h1V892.4h1V884.4h1V884.1h1V896.5h1V885h1V885.6h1V892.9h1V884.8h1V885.7h1V896.7h1V886h1V884.7h1V891h1V888h1V883.6h1V886.3h1V898.3h1V886.9h1V884h1V885.5h1V893.8h1V891.8h1V882.7h1V882.6h1V888.6h1V899.8h1V890.3h1V881.5h1V883.1h1V885.1h1V888.9h1V898.1h1V893.1h1V887.4h1V883.9h1V882.3h1V883.9h1V887.6h1V891.9h1V900.9h1V901.5h1V893.7h1V892.2h1V888.4h1V884.7h1V882.4h1V884.8h1V883.3h1V882.3h1V882.2h1V882.2h1V881.9h1V881.7h1V882.1h1V878.2h1V881.9h1V881.2h1V882.2h1V883.1h1V884.6h1V884.9h1V887.8h1V892.2h1V897.9h1V895.6h1V888.1h1V882.6h1V881.3h1V879.4h1V880.9h1V882.1h1V888h1V896.9h1V886h1V880.6h1V879h1V880.6h1V883.6h1V892.5h1V882.6h1V877.1h1V877.6h1V884.6h1V889.5h1V879.5h1V877.4h1V882.2h1V887.6h1V879.4h1V874.8h1V887h1V881.2h1V876.3h1V877.5h1V877.9h1V877.6h1V876.6h1V879.9h1V877.3h1V877.3h1V876.4h1V875.7h1V876.4h1V875.6h1V871.3h1V877.3h1V876.3h1V876.6h1V872.4h1V873.3h1V873.7h1V875.4h1V873.3h1V875.6h1V874.6h1V875.6h1V874.1h1V869.4h1V875.5h1V873.3h1V874h1V874.5h1V868.9h1V874.1h1V868.7h1V872.5h1V878.6h1V867.7h1V871h1V879.6h1V871.2h1V873.3h1V871.2h1V872h1V871.9h1V872.3h1V870.7h1V872.4h1V871.4h1V870.2h1V868h1V869.4h1V871.6h1V877.1h1V868.6h1V870.2h1V869.9h1V869.4h1V870.9h1V868.1h1V870.7h1V869.9h1V872.9h1V875h1V876.1h1V870.3h1V863.6h1V870.5h1V870.5h1V869.1h1V872h1V868.2h1V868.6h1V868.1h1V869.2h1V868.9h1V864.1h1V868h1V869.7h1V869.6h1V869.1h1V869.5h1V867.1h1V869.1h1V869.8h1V868.9h1V865.8h1V866.4h1V867.7h1V869.3h1V866.4h1V868.6h1V866.8h1V867.7h1V873.5h1V876h1V868.5h1V868.6h1V868.3h1V867.8h1V868.8h1V868.2h1V868.5h1V869.5h1V865.6h1V869.3h1V869.3h1V868.4h1V866.5h1V868.2h1V867.7h1V867.7h1V873.5h1V869h1V871.7h1V869.3h1V865h1V868.3h1V876.2h1V869.5h1V869.6h1V868.2h1V868.4h1V869.2h1V874.5h1V868.7h1V869.6h1V866.5h1V867.9h1V868.4h1V868.6h1V870h1V866.1h1V866.9h1V864.9h1V868.5h1V867.3h1V865.8h1V867.5h1V867.8h1V867.1h1V866.1h1V865.4h1V866.2h1V873.1h1V867.3h1V864.7h1V864.8h1V865.9h1V865h1V863.7h1V866.5h1V865.7h1V861.2h1V865.8h1V868.3h1V865h1V862.8h1V860.7h1V864.1h1V860.1h1V863.6h1V864.4h1V863.3h1V863.4h1V862.7h1V859.6h1V862.7h1V861.7h1V862.2h1V860.9h1V859.6h1V860.7h1V858.8h1V856.7h1V859.7h1V858.7h1V859.2h1V858.9h1V860h1V858.4h1V855.6h1V856.2h1V852.6h1V858.1h1V856.1h1V855.2h1V856h1V854.8h1V853.5h1V853.8h1V850h1V851.8h1V852.2h1V852.3h1V851h1V850.2h1V849.7h1V848h1V849.3h1V844.9h1V846.2h1V845.8h1V844.8h1V845.9h1V847.9h1V845.2h1V846.7h1V846.2h1V839.3h1V845.7h1V840.3h1V843.9h1V848.5h1V840.7h1V840.6h1V843.5h1V848.3h1V842.8h1V840.8h1V838.2h1V840.5h1V839.4h1V840h1V840.6h1V840.2h1V839.3h1V840.3h1V838.2h1V840.3h1V840h1V840.4h1V839.4h1V838.9h1V838.2h1V839h1V838.2h1V838.2h1V838.7h1V838.9h1V838.8h1V838.2h1V838.2h1V839.3h1V843.6h1V838.5h1V838.9h1V845.6h1V838.2h1V838.2h1V838.7h1V839.2h1V838.2h1V839.9h1V838.2h1V838.2h1V839.1h1V838.2h1V839.1h1V839.2h1V838.2h1V838.2h1V838.6h1V838.2h1V838.2h1V838.2h1V838.2h1V838.2h1V838.7h1V840.9h1V838.5h1V845.7h1V838.5h1V839.9h1V839.2h1V838.2h1V838.2h1V838.2h1V838.2h1V838.2h1V838.2h1V839.4h1V838.2h1V839h1V838.2h1V838.5h1V838.2h1V838.2h1V838.6h1V839.7h1V838.2h1V838.2h1V839.2h1V838.2h1V839.4h1V838.2h1V838.2h1V838.2h1V839.9h1V839.4h1V840.7h1V838.2h1V838.8h1V839.6h1V841.5h1V839.5h1V839.3h1V845h1V841.2h1V841.8h1V840.4h1V842.7h1V842.9h1V848.5h1V842.9h1V842.2h1V843.4h1V843.9h1V843.8h1V842.8h1V842.3h1V841h1V842.8h1V844.8h1V844.2h1V847.8h1V846.3h1V844.8h1V849.8h1V845.6h1V847.4h1V860.2h1V849.5h1V844.9h1V846.6h1V846.1h1V847.7h1V850.4h1V865.6h1V864.9h1V852.3h1V849h1V854.6h1V846.2h1V851.4h1V852.5h1V856.4h1V868.8h1V873.8h1V860.9h1V852.7h1V851.8h1V851.2h1V850.9h1V852.3h1V857.2h1V853.5h1V858.7h1V868.2h1V876.8h1V880.8h1V879.1h1V876.6h1V869.7h1V858.3h1V855.8h1V857h1V854.8h1V862.5h1V855.6h1V855.2h1V853.5h1V854.1h1V856.4h1V856.8h1V858.5h1V859.5h1V861.7h1V863.8h1V865.7h1V869.5h1V875.9h1V878h1V880.7h1V883.3h1V884.8h1V884h1V886.7h1V888.1h1V888.5h1V887.5h1V887.6h1V890.5h1V882h1V882h1V873.3h1V868.7h1V864.4h1V862.8h1V865.8h1V862.1h1V861.7h1V863h1V861.6h1V864.5h1V863h1V864.3h1V864.6h1V870.9h1V869.2h1V879.6h1V882.2h1V890.2h1V889.4h1V877h1V877.5h1V868.3h1V867.5h1V868.3h1V870h1V879.5h1V881.6h1V872.9h1V871.9h1V871.6h1V883.1h1V877h1V872h1V872.2h1V872.5h1V890.2h1V874h1V871.9h1V873h1V882.8h1V881.8h1V871.4h1V871.5h1V874.2h1V886h1V874.9h1V873.3h1V873h1V879h1V885h1V872.8h1V871.6h1V871.1h1V885.9h1V878h1V874.1h1V874h1V876.8h1V886.9h1V875.4h1V874h1V874.4h1V883.3h1V884h1V872.5h1V873.2h1V874.6h1V888.2h1V877h1V874.7h1V874h1V880.3h1V891.5h1V874.1h1V874.4h1V875.7h1V885.6h1V881.2h1V875.5h1V875.2h1V883.7h1V888h1V874h1V872h1V874.7h1V884.1h1V885.1h1V876.1h1V874.7h1V874.4h1V887.3h1V881.6h1V875.5h1V875.6h1V880.9h1V887.8h1V874.3h1V873.2h1V876.2h1V885.5h1V881.2h1V876.2h1V876.3h1V879.8h1V893.1h1V875.7h1V875.9h1V876.2h1V884.7h1V884.1h1V877.3h1V873.9h1V878.9h1V895.1h1V893.6h1V887.7h1V880.3h1V877.3h1V877.3h1V879.6h1V875.7h1V881.8h1V890.5h1V893.4h1V891.3h1V882.3h1V881h1V879.6h1V875.4h1V876.7h1V878h1V878.6h1V879.4h1V878.6h1V879.2h1V882.6h1V880.9h1V887.6h1V890.5h1V890.7h1V892.1h1V891.6h1V891.5h1V889.9h1V885.8h1V883.7h1V881.4h1V880.5h1V879.2h1V879.5h1V878.5h1V878.9h1V879.4h1V877.9h1V879.5h1V879.8h1V881.1h1V881.5h1V884.5h1V887.8h1V889.8h1V896.2h1V893.4h1V891.4h1V891.2h1V891.9h1V889h1V884.1h1V882.9h1V881.2h1V878.1h1V883h1V877.4h1V880.5h1V878h1V877.9h1V881.8h1V883.6h1V887.4h1V889.6h1V891.3h1V892.2h1V882.5h1V882.7h1V880.7h1V881.4h1V878.7h1V882.7h1V880.1h1V884.2h1V890.8h1V890h1V885.7h1V880.8h1V936.9h-1V932.6h-1V939.2h-1V938h-1V938.2h-1V937.7h-1V930.3h-1V925.7h-1V928.5h-1V933.6h-1V938h-1V939.6h-1V938.6h-1V937.1h-1V938.1h-1V939.7h-1V938.1h-1V933.9h-1V929.3h-1V925.1h-1V925.5h-1V924.3h-1V923.5h-1V926.6h-1V931h-1V932.9h-1V935h-1V935.4h-1V937.1h-1V937.1h-1V939.3h-1V936.9h-1V936h-1V935.9h-1V938h-1V935.3h-1V933.6h-1V931h-1V927.1h-1V926.1h-1V923.8h-1V921.8h-1V922.6h-1V923.7h-1V926.1h-1V925.2h-1V930.9h-1V932.7h-1V933.8h-1V934.3h-1V936.1h-1V936.9h-1V935.8h-1V935.1h-1V935.7h-1V935.3h-1V936.2h-1V934.1h-1V928h-1V928.7h-1V925.3h-1V920.1h-1V920.6h-1V920.1h-1V920.7h-1V924.9h-1V929.8h-1V932.7h-1V933.4h-1V935h-1V933.5h-1V933.1h-1V935.7h-1V923.2h-1V911.9h-1V916h-1V922.6h-1V928.6h-1V932h-1V933.4h-1V930.4h-1V933.6h-1V920.3h-1V931.3h-1V933.8h-1V935.3h-1V928.5h-1V920.7h-1V931.5h-1V930.6h-1V934.2h-1V921.7h-1V925.7h-1V933.1h-1V935.1h-1V930.7h-1V920.2h-1V931.4h-1V932.7h-1V935.9h-1V924.3h-1V921.5h-1V930.4h-1V932.7h-1V931h-1V919.4h-1V928.4h-1V932.8h-1V932.6h-1V921.6h-1V920.4h-1V930.4h-1V932.6h-1V926.5h-1V920.7h-1V922.6h-1V933h-1V931.9h-1V926.9h-1V918.4h-1V928.9h-1V930.8h-1V934.1h-1V924.4h-1V920.5h-1V930.4h-1V931h-1V929.6h-1V918.4h-1V927.2h-1V930.9h-1V934.3h-1V927h-1V917.6h-1V930.6h-1V931.4h-1V930.1h-1V919.5h-1V923.5h-1V930.3h-1V930.3h-1V927.4h-1V916.3h-1V927.5h-1V929.5h-1V930.5h-1V916.9h-1V919.7h-1V928.7h-1V933.2h-1V932.1h-1V917.9h-1V925.3h-1V930.5h-1V929.5h-1V925.3h-1V913.7h-1V928h-1V922.7h-1V930.7h-1V920h-1V920.2h-1V929.9h-1V930.9h-1V927.2h-1V914.5h-1V926.1h-1V930.1h-1V931.3h-1V927.5h-1V922.2h-1V916.9h-1V925.6h-1V925h-1V929.1h-1V929.7h-1V931.7h-1V929h-1V926h-1V926.7h-1V919h-1V912.6h-1V907h-1V901.7h-1V901.6h-1V900.9h-1V900.9h-1V902.1h-1V903.3h-1V907.2h-1V912.7h-1V916.9h-1V919.7h-1V920.3h-1V921.5h-1V922.3h-1V918.5h-1V924.4h-1V926.7h-1V923.9h-1V923.7h-1V925.6h-1V924.1h-1V922.3h-1V922h-1V923.1h-1V919.2h-1V918.1h-1V918.3h-1V912.9h-1V910.3h-1V904.2h-1V900.1h-1V898.3h-1V895h-1V895.3h-1V896.4h-1V892.4h-1V891.7h-1V890.8h-1V886.3h-1V898.3h-1V907h-1V912.1h-1V916.8h-1V916.6h-1V917.3h-1V917.2h-1V917.8h-1V918.7h-1V917.1h-1V915.6h-1V910.7h-1V898.2h-1V893.2h-1V891.4h-1V895.3h-1V910.4h-1V912.9h-1V914.5h-1V914.9h-1V914.3h-1V914.5h-1V912h-1V905.2h-1V893.5h-1V896.7h-1V910.5h-1V911.4h-1V912.1h-1V913.1h-1V912.3h-1V908.5h-1V899.5h-1V897.9h-1V910h-1V910.8h-1V909h-1V912.3h-1V908.4h-1V898.9h-1V906.9h-1V907.6h-1V910.3h-1V908.9h-1V904.9h-1V906.4h-1V907h-1V904.1h-1V909.9h-1V905.7h-1V905.4h-1V908.5h-1V905.4h-1V905.8h-1V902.2h-1V904.8h-1V904.5h-1V904h-1V903.3h-1V904h-1V899.1h-1V902.5h-1V904.2h-1V902.6h-1V904.9h-1V902h-1V902.8h-1V904.5h-1V901.4h-1V903.5h-1V901h-1V902.4h-1V900.5h-1V901.6h-1V900.4h-1V900.7h-1V900.7h-1V899h-1V900.9h-1V902.5h-1V898.8h-1V898.4h-1V895.7h-1V898.6h-1V899.2h-1V900.4h-1V897.9h-1V903.1h-1V900.8h-1V898.4h-1V899.4h-1V902.6h-1V897.5h-1V902.4h-1V894.9h-1V901.6h-1V892.4h-1V897.2h-1V900.2h-1V900.1h-1V898h-1V898.4h-1V899.4h-1V898h-1V901.5h-1V897.9h-1V897.7h-1V897.9h-1V897.9h-1V899.2h-1V897.9h-1V902.1h-1V901.9h-1V899.7h-1V894.3h-1V899.3h-1V899.9h-1V899.7h-1V894.5h-1V899.1h-1V896.7h-1V900.3h-1V899.2h-1V899.9h-1V900.3h-1V898.5h-1V903.1h-1V898.6h-1V900.8h-1V899.2h-1V901.3h-1V899.4h-1V897.3h-1V899.7h-1V900.4h-1V900.5h-1V900.6h-1V899.1h-1V901h-1V902.6h-1V896.8h-1V904h-1V902.9h-1V902.1h-1V902.8h-1V900.8h-1V903.1h-1V901.5h-1V903.2h-1V902h-1V904.9h-1V903.2h-1V903.8h-1V906.8h-1V903h-1V904.6h-1V904.4h-1V911.8h-1V910.4h-1V906.9h-1V907.2h-1V908.6h-1V902.7h-1V908.1h-1V910.1h-1V913.2h-1V910.3h-1V913.1h-1V910.4h-1V909.8h-1V913.2h-1V914.7h-1V913.3h-1V914.8h-1V912.4h-1V915.4h-1V919.9h-1V913.5h-1V915.8h-1V915.2h-1V909.4h-1V916.4h-1V919.2h-1V913.8h-1V920h-1V918.4h-1V917.7h-1V917.5h-1V915.2h-1V919.6h-1V920.1h-1V919.6h-1V920.7h-1V920.7h-1V919.8h-1V923h-1V921.8h-1V921.1h-1V921.1h-1V924.7h-1V925h-1V922.7h-1V920h-1V925.4h-1V924h-1V924.5h-1V926.1h-1V923.3h-1V926.4h-1V923.7h-1V924.3h-1V926h-1V927.1h-1V931.2h-1V926.6h-1V925.6h-1V925.2h-1V925.8h-1V926.7h-1V925.8h-1V926.8h-1V928.2h-1V925.8h-1V922.9h-1V926.8h-1V927.1h-1V931.1h-1V929.4h-1V930.1h-1V926.2h-1V926.7h-1V930.4h-1V929.5h-1V928.2h-1V929.9h-1V929.6h-1V926.9h-1V932h-1V932.6h-1V928.7h-1V930.9h-1V928.9h-1V933.7h-1V923.3h-1V928.6h-1V928.3h-1V931.1h-1V932.1h-1V929.3h-1V926.5h-1V927.9h-1V929.4h-1V928.6h-1V923.4h-1V928.4h-1V922.8h-1V934.3h-1V931h-1V928h-1V928h-1V929.6h-1V927.4h-1V927.7h-1V935.9h-1V928.2h-1V923.1h-1V927.8h-1V930.3h-1V927.6h-1V930.8h-1V930.1h-1V929h-1V923.8h-1V924.3h-1V928.6h-1V930.4h-1V927.8h-1V929h-1V923.7h-1V933h-1V929.6h-1V929h-1V927.5h-1V930.8h-1V930.2h-1V929.6h-1V931.2h-1V930.2h-1V930.7h-1V932.4h-1V929.7h-1V930.7h-1V928.5h-1V932.2h-1V930h-1V929.8h-1V928.5h-1V926.5h-1V929h-1V929.1h-1V932.4h-1V930.2h-1V929h-1V926.3h-1V925.3h-1V925.5h-1V932.1h-1V930.4h-1V931h-1V935h-1V932.2h-1V931.1h-1V925h-1V932.8h-1V928.4h-1V936.7h-1V933.8h-1V931.2h-1V933.5h-1V933.5h-1V931.7h-1V932.6h-1V930.7h-1V932.1h-1V934h-1V932.3h-1V931.9h-1V932.8h-1V931.8h-1V935.5h-1V936.5h-1V930.7h-1V934.7h-1V934.2h-1V934.4h-1V933.6h-1V934.1h-1V934.9h-1V935.6h-1V931.5h-1V936h-1V934.5h-1V933.9h-1V936.5h-1V937.8h-1V936.2h-1V935.6h-1V940.7h-1V940.6h-1V936.9h-1V937.1h-1V938.7h-1V930.2h-1V937.8h-1V934.2h-1V937h-1V936.6h-1V938.9h-1V938.4h-1V940.5h-1V936.7h-1V943.1h-1V938.7h-1V938.9h-1V943.7h-1V940.8h-1V934.2h-1V933.3h-1V941.4h-1V938.2h-1V929.4h-1V938.2h-1V940.9h-1V939.1h-1V932.4h-1V933.5h-1V941.3h-1V942.9h-1V938.8h-1V926.7h-1V937.8h-1V942.5h-1V943h-1V943h-1V935.4h-1V929.2h-1V932.8h-1V939.1h-1V943.2h-1V944.4h-1V942.6h-1V939.3h-1V935.2h-1V928.5h-1V926.6h-1V932.3h-1V937.5h-1V938.8h-1V941.7h-1V942.9h-1V944.5h-1V947.2h-1V944.9h-1V946.1h-1V946.3h-1V948.3h-1V946.6h-1V946.8h-1V946.2h-1V945.8h-1V947.2h-1V939.2h-1V946.7h-1V942.7h-1V940.3h-1V938.6h-1V934.5h-1V929.2h-1V927.8h-1V939.9h-1V943.8h-1V947.2h-1V950.2h-1V949.4h-1V942.5h-1V938h-1V929.1h-1V940h-1V945.3h-1V948.9h-1V944.9h-1V938.8h-1V933.7h-1V937.9h-1V947.5h-1V946.5h-1V941.4h-1V937.9h-1V945.4h-1V947.3h-1V942.5h-1V937.8h-1V946.9h-1V950.3h-1V942.7h-1V939.3h-1V947.2h-1V948.5h-1V935.3h-1V947.8h-1V947.9h-1V937.5h-1V947.7h-1V948h-1V939h-1V948.1h-1V948.4h-1V940.1h-1V950.9h-1V946.5h-1V946.4h-1V949.4h-1V940.5h-1V948.1h-1V945.8h-1V946.3h-1V952.5h-1V941.9h-1V950.3h-1V939.1h-1V951.5h-1V942.2h-1V949.3h-1V942.1h-1V950.9h-1V943h-1V949.5h-1V945.8h-1V948.7h-1V943.6h-1V949h-1V944h-1V953.1h-1V943.5h-1V942.8h-1V951.6h-1V947.6h-1V949.9h-1V949.6h-1V948.3h-1V951.2h-1V950.8h-1V948h-1V948.3h-1V945.6h-1V946.5h-1V940.1h-1V949.6h-1V949.7h-1V948.2h-1V952.2h-1V952.7h-1V947.6h-1V949.9h-1V951.8h-1V949.9h-1V953h-1V949.6h-1V949.5h-1V946.6h-1V947.2h-1V948.7h-1V950.3h-1V947.5h-1V949.5h-1V947.8h-1V946.5h-1V949.6h-1V948.5h-1V951.7h-1V951.7h-1V948.4h-1V951.1h-1V949.3h-1V948h-1V945.5h-1V947.3h-1V948.5h-1V947.1h-1V943.3h-1V956.3h-1V950.2h-1V949.6h-1V946.2h-1V950.6h-1V946.7h-1V948h-1V944.9h-1V944.8h-1V960.6h-1V950.9h-1V950.4h-1V948.4h-1V945.4h-1V953.4h-1V951.1h-1V950.7h-1V956.2h-1V952h-1V947.9h-1V948.9h-1V947.6h-1V950.6h-1V947.8h-1V948.5h-1V947.6h-1V951.2h-1V950.4h-1V951h-1V951.3h-1V949.5h-1V952.2h-1V957.3h-1V954.1h-1V944h-1V952.3h-1V952.3h-1V946.3h-1V946h-1V958.1h-1V955.6h-1V957h-1V945.8h-1V959.7h-1V947.2h-1V949.8h-1V955.4h-1V951.5h-1V949.8h-1V952.8h-1V946.9h-1V950.4h-1V951.7h-1V949.4h-1V952.5h-1V949.3h-1V961h-1V952.6h-1V946h-1V944.3h-1V953.8h-1V944.1h-1V948.4h-1V955.3h-1V948.5h-1V949.6h-1V953.6h-1V955h-1V949.3h-1V953.4h-1V955.5h-1V949.1h-1V945.7h-1V945.7h-1V947.4h-1V947.9h-1V946.9h-1V948.6h-1V946.1h-1V948.1h-1V940.7h-1V946.4h-1V945h-1V948.2h-1V946.3h-1V944h-1V944.1h-1V945.4h-1V949.8h-1V937.7h-1V941.8h-1V943.8h-1V942h-1V938.3h-1V950.6h-1V943h-1V948.3h-1V944.3h-1V934.7h-1V934.6h-1V942.5h-1V939.8h-1V943.7h-1V935.6h-1V936.1h-1V946h-1V937.8h-1V942.9h-1V938.4h-1V941h-1V940.5h-1V933h-1V947.4h-1V937.2h-1V948h-1V937.3h-1V937.3h-1V937.8h-1V938.9h-1V937.9h-1V933.7h-1V937.5h-1V936.7h-1V932.4h-1V936.2h-1V933.2h-1V940.4h-1V932.3h-1V927.9h-1V933.2h-1V937.9h-1V932.7h-1V932.8h-1V939h-1V925.2h-1V933.4h-1V932.2h-1V931.9h-1V928.8h-1V935.2h-1V931.5h-1V930.6h-1V931.6h-1V927.2h-1V932.9h-1V933h-1V934.3h-1V930.2h-1V936.7h-1V934.9h-1V932.3h-1V934.9h-1V928.7h-1V931.3h-1V932.5h-1V932.5h-1V922.3h-1V926.5h-1V928.4h-1V926.8h-1V928.6h-1V927.2h-1V929.7h-1V928.1h-1V927.5h-1V936.7h-1V928.5h-1V930.4h-1V934.2h-1V922.9h-1V928.1h-1V926.9h-1V932.9h-1V929.8h-1V930.3h-1V927.2h-1V928.3h-1V928.5h-1V931.6h-1V922.8h-1V927.4h-1V929.6h-1V929.7h-1V930.2h-1V929.9h-1V936.5h-1V930.6h-1V938.1h-1V928.8h-1V930.5h-1V928.1h-1V929.6h-1V929.7h-1V932.1h-1V929h-1V930.4h-1V932.2h-1V934h-1V929.7h-1V946.7h-1V934.6h-1V924.4h-1V934.4h-1V935.7h-1V930.8h-1V941.1h-1V925.6h-1V934h-1V933h-1V931.1h-1V934.9h-1V937h-1V929.8h-1V932.2h-1V931.5h-1V931.3h-1V929.6h-1V930.4h-1V932.5h-1V933.9h-1V933.8h-1V928h-1V934.4h-1V925.7h-1V936.3h-1V931.5h-1V934.8h-1V935.8h-1V933.3h-1V933.5h-1V935.5h-1V934.3h-1V931.6h-1V938.4h-1V929.7h-1V939.6h-1V925.9h-1V921h-1V925.2h-1Z" fill="#0000ff" shape-rendering="crispEdges"/><path d="M165 882.2V882.2h1V885.1h1V884h1V884.4h1V883.2h1V884.8h1V884.7h1V882.3h1V885.2h1V880.9h1V883.9h1V884.7h1V880.5h1V885.8h1V881h1V884.1h1V880.5h1V882.3h1V882.9h1V883.8h1V884h1V880.7h1V884.7h1V883.3h1V881.9h1V884.4h1V883.1h1V879.7h1V878.7h1V879.2h1V884.5h1V881.3h1V884.2h1V884h1V882.9h1V883.6h1V882.4h1V884.2h1V883.2h1V883.9h1V882.1h1V881.7h1V882.2h1V880.5h1V882.9h1V880.5h1V882.8h1V883.5h1V882.5h1V878.2h1V881.1h1V883.1h1V882.6h1V881h1V881h1V879.7h1V880.4h1V877.8h1V881.9h1V879.5h1V880.8h1V878.9h1V879.7h1V878.5h1V881.7h1V880.5h1V880.9h1V879.2h1V881.5h1V881.4h1V874.8h1V881.1h1V876.2h1V881.5h1V881.4h1V881.4h1V878.4h1V880.9h1V879.3h1V877.9h1V881.3h1V880.6h1V878.8h1V882.2h1V879.8h1V883.1h1V880.8h1V882.5h1V878.9h1V881.7h1V881.6h1V882.8h1V881.5h1V883.1h1V880.3h1V879.9h1V883.3h1V883.8h1V883.7h1V882.8h1V878.8h1V883.4h1V882.5h1V885.6h1V885h1V886.3h1V885.3h1V884.2h1V887h1V886.9h1V886.8h1V887.3h1V887h1V885.4h1V884.7h1V886.7h1V884.9h1V883.8h1V885.1h1V887.7h1V888.9h1V886.5h1V886.9h1V889.4h1V890.2h1V888.8h1V890h1V891.2h1V891.3h1V890.2h1V891.1h1V885h1V891.8h1V893h1V892.8h1V892.6h1V894h1V894h1V891.1h1V890.6h1V892h1V890.6h1V895.4h1V893.1h1V888.7h1V895.6h1V893.5h1V896.4h1V896.1h1V896.2h1V895.5h1V897.5h1V896.8h1V897.5h1V890.4h1V897.7h1V895.2h1V899.1h1V899h1V897.1h1V900.2h1V897.9h1V899.9h1V893.7h1V898.2h1V897h1V900.4h1V896.3h1V898.6h1V901h1V898.9h1V900.4h1V898h1V902.1h1V901.6h1V899.1h1V901h1V900.5h1V902.8h1V903h1V899.6h1V901.5h1V903.5h1V901.8h1V896.1h1V902.7h1V902h1V902h1V900.7h1V901.5h1V901.7h1V902.1h1V903.7h1V904h1V900h1V904h1V903h1V902.6h1V899.9h1V902.9h1V903.7h1V898h1V903.6h1V898.2h1V901.5h1V901.8h1V900.9h1V903.3h1V901.6h1V900.1h1V902.7h1V900.9h1V900.6h1V902.4h1V901.4h1V902.7h1V900.4h1V899.6h1V899.7h1V898.9h1V899.2h1V902.2h1V898.1h1V900.9h1V900.7h1V897.2h1V899.7h1V899.2h1V900.9h1V900.3h1V900.8h1V901.2h1V902.3h1V901.4h1V900.8h1V902h1V895.8h1V902.1h1V901h1V896.2h1V902.5h1V899.2h1V901.6h1V902.5h1V898.1h1V901.1h1V900.5h1V900.1h1V897.2h1V900.6h1V899.3h1V899.9h1V900.6h1V902.4h1V900.4h1V902.4h1V900.6h1V897.7h1V901.3h1V899.8h1V902.2h1V901.2h1V896.1h1V901.3h1V901.1h1V901.5h1V901.6h1V902.5h1V902h1V898.8h1V900.5h1V902.4h1V902.4h1V900.9h1V902.1h1V901.1h1V899.3h1V897h1V900.1h1V895.7h1V898.2h1V899.8h1V898.7h1V899.4h1V901.4h1V901.1h1V897.3h1V900.5h1V899.5h1V902.1h1V897.4h1V898.2h1V901.2h1V901.4h1V899.6h1V900.3h1V900.9h1V902.6h1V900.8h1V899.8h1V898.4h1V899.3h1V898.5h1V899.1h1V900.5h1V896.1h1V900.9h1V899.7h1V901.6h1V897.1h1V897.1h1V902.7h1V900.5h1V899.9h1V903h1V899.1h1V900.2h1V902.7h1V899.8h1V897.3h1V904.1h1V900.1h1V899.2h1V900.9h1V902.1h1V898.2h1V899.5h1V904.7h1V898.5h1V899.6h1V898.9h1V902.2h1V901h1V899.3h1V897.8h1V900.7h1V904.9h1V899.2h1V896.8h1V898.9h1V898.3h1V899.6h1V904.6h1V901.6h1V899.2h1V896.9h1V897.7h1V897.7h1V899.6h1V901.3h1V903.5h1V902.9h1V901.5h1V899.9h1V899.9h1V896.8h1V898h1V897.2h1V896.8h1V897.6h1V897.7h1V894.8h1V897.2h1V896h1V894.6h1V896.8h1V896.5h1V895h1V897.1h1V896.5h1V897.9h1V897h1V897.6h1V899.1h1V902.4h1V898.8h1V895.9h1V896.2h1V895.7h1V894.2h1V894.3h1V895.5h1V897.1h1V900.9h1V897.6h1V892.9h1V892.9h1V892.2h1V895.2h1V897.7h1V895.2h1V893.3h1V892.3h1V895.8h1V896.8h1V892.1h1V893.5h1V892.2h1V896.5h1V891h1V891.1h1V894h1V894.4h1V890.3h1V888.4h1V891.8h1V891h1V890.7h1V892.7h1V891.7h1V892h1V889.8h1V889.8h1V887.9h1V891.2h1V890h1V889h1V890.5h1V889.2h1V888.4h1V889.8h1V889.4h1V888.9h1V889.9h1V889.9h1V889.4h1V888.8h1V888.7h1V887.5h1V888.2h1V888.5h1V887.5h1V886h1V888.5h1V885.7h1V887.1h1V887.8h1V887.6h1V886.8h1V886.5h1V884.9h1V886.2h1V886.1h1V884.9h1V885.1h1V885.1h1V886.5h1V882.6h1V885.8h1V886h1V885.4h1V885.9h1V883.2h1V885.5h1V884.9h1V884.9h1V882.4h1V884.2h1V884.3h1V883.9h1V883.4h1V883.4h1V884.9h1V882.2h1V884.5h1V884.3h1V883.4h1V884.6h1V883.7h1V883.9h1V884.5h1V884.3h1V881.7h1V878h1V880.3h1V883h1V883.7h1V883.4h1V883.8h1V881.1h1V882.8h1V882.9h1V883.5h1V882.4h1V881.1h1V882.1h1V881.5h1V881.5h1V883h1V882.3h1V883.3h1V881.2h1V882.5h1V881.9h1V879.6h1V883.7h1V882h1V881.1h1V883.1h1V883.4h1V882.8h1V881.3h1V882.6h1V877.5h1V880h1V882.8h1V882.9h1V882.8h1V881.4h1V879.7h1V881.1h1V882.3h1V882.9h1V879.3h1V881.4h1V883.6h1V883.3h1V881.5h1V881.6h1V883.5h1V882.8h1V883.3h1V882.4h1V881.9h1V877.3h1V882.2h1V881.6h1V881.4h1V883.2h1V883.4h1V881.3h1V879.6h1V877.6h1V880.2h1V882.2h1V882.1h1V882.6h1V881.8h1V880.8h1V880.8h1V879.5h1V881h1V879.7h1V880.4h1V880.9h1V880.2h1V880.2h1V879.5h1V879.8h1V880.6h1V879.5h1V877.6h1V877.1h1V879.6h1V874.4h1V879.4h1V875.5h1V877.7h1V876.3h1V876.8h1V877.7h1V878h1V877.9h1V878.4h1V876.6h1V877.5h1V877h1V873.8h1V876.5h1V876h1V875.9h1V875.4h1V872.2h1V872.8h1V873.4h1V873.9h1V873.7h1V873.1h1V872.6h1V871h1V871.4h1V871.7h1V871.3h1V870.1h1V870.5h1V871h1V868.8h1V869.1h1V869.2h1V863.6h1V868h1V866.6h1V865h1V866.5h1V865.9h1V864.9h1V865h1V863.6h1V862.9h1V863.5h1V863.3h1V863.5h1V863h1V862.4h1V860.9h1V859.7h1V859.2h1V860.1h1V859.8h1V859.8h1V858.4h1V859.4h1V859.5h1V858.2h1V858.4h1V858h1V857.2h1V857.3h1V857.4h1V856.3h1V855.1h1V851.6h1V855.3h1V854.6h1V852.9h1V852h1V854h1V853.2h1V851.8h1V853.1h1V852.5h1V853.4h1V852.8h1V852.2h1V853.5h1V852.1h1V853.7h1V849.6h1V851.4h1V851.9h1V854.3h1V853.7h1V853.5h1V853.1h1V852.2h1V853.9h1V851.6h1V850.7h1V852.4h1V853.7h1V850.3h1V852.7h1V848.4h1V853.7h1V852.5h1V853h1V852.5h1V852.9h1V849.8h1V848.9h1V851.8h1V850.4h1V851.4h1V853h1V849.8h1V850.5h1V851.4h1V850.1h1V848h1V852.2h1V851.3h1V850.7h1V852.5h1V852.9h1V853.3h1V853h1V852.9h1V851.8h1V852.6h1V853.5h1V850.4h1V850.9h1V852.4h1V852.4h1V853.2h1V851.4h1V853.3h1V852.1h1V853.4h1V853.8h1V853.5h1V852.4h1V853.7h1V852.7h1V850.7h1V852.5h1V853.7h1V853.3h1V853.8h1V854h1V854.1h1V853.6h1V854.7h1V854.3h1V855h1V852.9h1V855.2h1V855.6h1V853.2h1V855h1V855.3h1V853.8h1V852.5h1V855.2h1V855.5h1V856.9h1V856h1V855.8h1V855.6h1V855.7h1V857.2h1V857h1V856h1V857h1V857.1h1V857.3h1V861.4h1V858.8h1V856.5h1V857.7h1V857.9h1V858.4h1V870.3h1V861.2h1V859.9h1V859.1h1V858.7h1V859h1V862.1h1V872.1h1V871.1h1V863.9h1V861.4h1V860.8h1V862.5h1V858.9h1V863.4h1V865.7h1V877.3h1V880h1V871.3h1V866.3h1V863.3h1V863.5h1V864.7h1V861.2h1V863.6h1V866.6h1V867.6h1V875h1V880.8h1V882.7h1V884.3h1V882.4h1V879h1V871.8h1V870.2h1V868.3h1V865.2h1V867.5h1V868.4h1V866.3h1V865.8h1V866.1h1V868.7h1V870.3h1V870h1V870.2h1V872.7h1V873.4h1V875.2h1V877.7h1V882.5h1V882.9h1V884.2h1V888h1V888.9h1V890h1V891.1h1V890.9h1V891.8h1V891.8h1V891.3h1V888.7h1V888.7h1V887.9h1V884.4h1V881.3h1V879.7h1V878.9h1V875.9h1V877.2h1V877.1h1V876h1V876.1h1V874.6h1V876.1h1V877.4h1V877.8h1V876.3h1V881.6h1V880.5h1V890.5h1V895.2h1V892.6h1V886.9h1V882.3h1V881.6h1V882.4h1V881.3h1V879.9h1V886.9h1V888.2h1V884.5h1V883.5h1V884.4h1V892.3h1V887.8h1V881.9h1V884.3h1V886.6h1V891.2h1V883.6h1V884.1h1V884.2h1V891.2h1V891h1V884.6h1V884.6h1V885.7h1V894.6h1V887.2h1V884.6h1V885.3h1V889.2h1V891.7h1V885.3h1V885.5h1V883h1V891.8h1V889.4h1V885.4h1V885.2h1V888.1h1V889.9h1V887.3h1V885.1h1V884.6h1V893h1V892.7h1V884.6h1V884.2h1V885.2h1V893.4h1V888.1h1V885.7h1V885.5h1V890h1V894.9h1V886.5h1V885.5h1V887.5h1V892.2h1V889.5h1V886.8h1V887h1V887.4h1V894.7h1V887.6h1V885.4h1V885.2h1V893.5h1V892.5h1V887.4h1V886.4h1V887.9h1V895.9h1V889.8h1V887.6h1V887.5h1V891.6h1V894.7h1V888.1h1V884.3h1V888h1V894.5h1V891h1V887.6h1V887.5h1V888.1h1V896.4h1V889h1V887.8h1V886.5h1V894.5h1V893.4h1V888.5h1V885.4h1V889.6h1V897.5h1V899.9h1V896.1h1V891.2h1V888.6h1V888.6h1V887.9h1V888.4h1V890.1h1V894.2h1V897.9h1V898.5h1V892h1V889.4h1V888.7h1V887.1h1V887.9h1V886.4h1V887.7h1V887.2h1V884h1V888.7h1V887.2h1V889.9h1V894.8h1V896.2h1V897.1h1V899.2h1V898.4h1V899.1h1V898.5h1V895.9h1V892.8h1V891.1h1V889.7h1V886.4h1V886.8h1V885.6h1V888.8h1V886.2h1V888.3h1V887.7h1V887.7h1V890.3h1V890.5h1V890.7h1V895.7h1V896.8h1V900.1h1V899.6h1V900.3h1V900.4h1V897.5h1V896.2h1V889.9h1V890h1V890h1V890.2h1V888.8h1V888.5h1V887.2h1V888.4h1V888.1h1V889.5h1V890.7h1V895.8h1V899.7h1V899.2h1V900.2h1V892.9h1V891.2h1V889.8h1V890.7h1V890.6h1V888.7h1V888.2h1V891.9h1V899.3h1V897.9h1V892.1h1V892.2h1V928h-1V928.9h-1V930.1h-1V928.8h-1V929h-1V928.4h-1V927h-1V917.5h-1V920h-1V924.8h-1V929.8h-1V928.6h-1V928.3h-1V927.9h-1V929.2h-1V928.4h-1V926.9h-1V925.2h-1V920.8h-1V918.2h-1V915.4h-1V916.8h-1V917.3h-1V918.8h-1V923h-1V924.2h-1V926.6h-1V926.2h-1V929.3h-1V927.4h-1V926.9h-1V927.6h-1V927.5h-1V928.7h-1V925.9h-1V927.3h-1V923.9h-1V925.6h-1V917.9h-1V920.3h-1V915.2h-1V915.4h-1V914.5h-1V916h-1V918.1h-1V917.3h-1V923.4h-1V923.8h-1V924.5h-1V927.4h-1V926.2h-1V926.4h-1V926h-1V929.6h-1V927.6h-1V926h-1V925.8h-1V924.5h-1V923.4h-1V921.1h-1V916h-1V914.9h-1V915.3h-1V914h-1V913.3h-1V916.3h-1V923h-1V924.3h-1V923.2h-1V925.4h-1V926.2h-1V924.2h-1V925.9h-1V918.8h-1V912.2h-1V910.8h-1V914.1h-1V918.7h-1V921.4h-1V922.9h-1V923.3h-1V921.5h-1V913.3h-1V919.1h-1V922.2h-1V923.3h-1V918.9h-1V912.7h-1V922.6h-1V922.5h-1V921.1h-1V917.3h-1V918.1h-1V921.3h-1V921.6h-1V921.1h-1V911.6h-1V919.2h-1V922.3h-1V920.8h-1V914.7h-1V913.5h-1V921.5h-1V921.1h-1V920.3h-1V913.3h-1V918.1h-1V922.3h-1V922.4h-1V918.2h-1V913.7h-1V919.5h-1V920h-1V921.2h-1V913.7h-1V913.7h-1V921.5h-1V920.7h-1V920.8h-1V913.2h-1V918.8h-1V919.7h-1V919.5h-1V917.8h-1V913.4h-1V919.3h-1V919.3h-1V918.8h-1V911h-1V920.1h-1V920.1h-1V920.9h-1V916h-1V909.9h-1V918.2h-1V920.4h-1V918.4h-1V911.5h-1V913.1h-1V923.7h-1V918.4h-1V916.8h-1V908.2h-1V917.8h-1V918.8h-1V919.6h-1V913.8h-1V911.8h-1V918.1h-1V920.4h-1V917.2h-1V909.7h-1V917h-1V919.1h-1V920.5h-1V914.6h-1V908.7h-1V917.1h-1V919.5h-1V918.9h-1V913.1h-1V911.6h-1V918h-1V916.6h-1V916.3h-1V907.3h-1V915.7h-1V918.9h-1V916.8h-1V917.5h-1V912.5h-1V904.7h-1V914.7h-1V917.3h-1V917h-1V916.5h-1V917.7h-1V918.7h-1V919.2h-1V915.4h-1V911h-1V904.7h-1V900h-1V899.3h-1V896.3h-1V896.8h-1V899.3h-1V898.1h-1V899.6h-1V899.6h-1V904h-1V907.5h-1V909.7h-1V909.3h-1V909.6h-1V911.1h-1V910.8h-1V911.4h-1V913.1h-1V911.3h-1V910.8h-1V912.3h-1V910.2h-1V910.9h-1V910.1h-1V911.5h-1V907.5h-1V906.2h-1V905.9h-1V902.9h-1V901.6h-1V896.5h-1V896.6h-1V892.8h-1V890.8h-1V890.4h-1V888.6h-1V889.7h-1V887h-1V886.9h-1V888.3h-1V891.3h-1V896h-1V900.5h-1V902.7h-1V904.1h-1V906.2h-1V905.5h-1V903.6h-1V904.1h-1V904.3h-1V903h-1V899.6h-1V896.4h-1V890.4h-1V884.9h-1V888.7h-1V897.9h-1V902.3h-1V901.1h-1V901.5h-1V903.2h-1V901.4h-1V900.5h-1V896.8h-1V887.1h-1V888.7h-1V897h-1V900.4h-1V898.4h-1V899.2h-1V900.8h-1V896.6h-1V889.6h-1V888.1h-1V897.4h-1V897.4h-1V895.8h-1V897.4h-1V896.6h-1V889.2h-1V893.4h-1V894.8h-1V894.5h-1V894.8h-1V891.9h-1V893.2h-1V893.2h-1V892.9h-1V892.5h-1V891.7h-1V893.2h-1V894.6h-1V890.9h-1V892.6h-1V890.9h-1V890.5h-1V893h-1V891.8h-1V891h-1V892.4h-1V894.3h-1V890.6h-1V890.7h-1V889.4h-1V888.9h-1V889.2h-1V889.8h-1V889.9h-1V887.6h-1V887.1h-1V887.1h-1V887.7h-1V886.9h-1V886.8h-1V886.2h-1V887h-1V888.8h-1V886.4h-1V885.1h-1V884.7h-1V884.7h-1V885.1h-1V885h-1V886.7h-1V885.8h-1V885.9h-1V884.9h-1V884.9h-1V884.3h-1V884.7h-1V885.2h-1V884h-1V883.4h-1V884.4h-1V885.1h-1V884.2h-1V885.7h-1V884.9h-1V883.4h-1V883.7h-1V883.9h-1V883.8h-1V884.2h-1V884.1h-1V885.1h-1V886.9h-1V884.1h-1V887h-1V885.3h-1V888.4h-1V886h-1V883.9h-1V884h-1V883.7h-1V884.5h-1V884.6h-1V886.9h-1V885h-1V884h-1V884.4h-1V884.5h-1V885.2h-1V885.5h-1V885.3h-1V885h-1V884.6h-1V884.7h-1V884.5h-1V885.3h-1V885.1h-1V886.2h-1V889h-1V885.6h-1V884.9h-1V887.8h-1V886.3h-1V886.2h-1V885.3h-1V886.6h-1V885.8h-1V889.5h-1V888.6h-1V890.2h-1V891.5h-1V888.5h-1V889.9h-1V887.3h-1V887.8h-1V887.9h-1V888.9h-1V890.7h-1V889h-1V892.2h-1V891h-1V889.5h-1V890.9h-1V890h-1V894h-1V891.3h-1V892.1h-1V891.4h-1V892.7h-1V892.9h-1V893.3h-1V896h-1V896.3h-1V894.9h-1V895.4h-1V897.2h-1V897.2h-1V897.4h-1V899.5h-1V898h-1V901.9h-1V898.6h-1V901.8h-1V899.3h-1V900.1h-1V902.1h-1V904.6h-1V901.4h-1V902.1h-1V901.9h-1V904.6h-1V902.7h-1V904.2h-1V904.3h-1V904.4h-1V906.1h-1V904.7h-1V904.5h-1V907.7h-1V905.2h-1V905.7h-1V906.5h-1V908.4h-1V906.8h-1V908.2h-1V908.2h-1V909.7h-1V909.3h-1V910.1h-1V909h-1V910.6h-1V911.3h-1V909.6h-1V912.1h-1V911.7h-1V911.7h-1V915.9h-1V912.7h-1V910.1h-1V910.4h-1V911.6h-1V911.8h-1V911.9h-1V912.8h-1V912.7h-1V912.3h-1V913.4h-1V911.6h-1V912h-1V914.2h-1V914.8h-1V913.1h-1V913h-1V916.3h-1V914.4h-1V912.8h-1V912.8h-1V914.4h-1V913.1h-1V914.7h-1V915.1h-1V914.7h-1V914.6h-1V914.6h-1V914.3h-1V914.7h-1V919h-1V914.3h-1V916.1h-1V916.3h-1V914.8h-1V915h-1V916.9h-1V915.7h-1V914.2h-1V914.1h-1V916.5h-1V915.9h-1V918.5h-1V919.6h-1V916.2h-1V913.9h-1V917.5h-1V914.7h-1V918.1h-1V919.4h-1V915.2h-1V915.6h-1V913.7h-1V917.3h-1V916.4h-1V914.3h-1V915h-1V914.2h-1V913.6h-1V915.3h-1V914.3h-1V913.6h-1V914.8h-1V915.4h-1V915.6h-1V914h-1V917.7h-1V915.8h-1V914.9h-1V918.8h-1V915h-1V914.4h-1V914h-1V916.6h-1V914.8h-1V915.6h-1V917.5h-1V914h-1V915.9h-1V915.8h-1V914h-1V918h-1V917h-1V914.3h-1V916.6h-1V914.5h-1V914.4h-1V918.2h-1V915.2h-1V915.8h-1V916h-1V918.8h-1V915.3h-1V915.4h-1V919h-1V915.7h-1V918.2h-1V919.2h-1V916.4h-1V918.5h-1V916.6h-1V917.4h-1V916.5h-1V918.7h-1V916.7h-1V922h-1V918.6h-1V919.2h-1V917.3h-1V917.2h-1V919.1h-1V919h-1V918.4h-1V917.5h-1V918.4h-1V917.5h-1V921h-1V920.3h-1V920.9h-1V919.4h-1V919h-1V918.7h-1V918.8h-1V919.9h-1V920.2h-1V919.1h-1V919.5h-1V920.6h-1V921.9h-1V920h-1V923h-1V922h-1V920.1h-1V921h-1V920.6h-1V921.8h-1V921.5h-1V922.4h-1V925h-1V923.6h-1V921.6h-1V922.7h-1V924.2h-1V922.4h-1V923.4h-1V924.7h-1V922.8h-1V922.6h-1V922.5h-1V924.1h-1V923.4h-1V926.7h-1V927.7h-1V927.1h-1V926.2h-1V927.8h-1V925.1h-1V923.4h-1V926.3h-1V927h-1V925.3h-1V921h-1V925.4h-1V926.5h-1V926h-1V923.5h-1V925.4h-1V926.8h-1V927.1h-1V926.3h-1V922.2h-1V924.5h-1V926.7h-1V929.7h-1V926.8h-1V924.4h-1V923.9h-1V925.3h-1V926.7h-1V931.4h-1V928.1h-1V928.4h-1V928.6h-1V928.9h-1V924.5h-1V921.8h-1V924.7h-1V926.8h-1V928.1h-1V930h-1V929.6h-1V931.7h-1V930.9h-1V932.5h-1V932.8h-1V930.4h-1V931.7h-1V931.9h-1V930.9h-1V933.9h-1V930.9h-1V930.6h-1V930.6h-1V930.3h-1V930.9h-1V929.4h-1V930.1h-1V928.6h-1V924.6h-1V931.1h-1V929.4h-1V929.9h-1V931.6h-1V931.8h-1V932.9h-1V932.3h-1V929.4h-1V927.6h-1V928.9h-1V933.6h-1V931.9h-1V931.6h-1V929.8h-1V928.1h-1V930.7h-1V933.9h-1V933.8h-1V930.1h-1V927.7h-1V933.1h-1V934.4h-1V932.6h-1V932.9h-1V932.5h-1V933.2h-1V932.3h-1V929.4h-1V932.7h-1V932.4h-1V929.5h-1V932.6h-1V932.5h-1V929.3h-1V933.2h-1V933.3h-1V931.8h-1V933.6h-1V933h-1V929.2h-1V935.3h-1V934.9h-1V933h-1V933.5h-1V929.7h-1V934.4h-1V935.1h-1V932.7h-1V934.3h-1V930.7h-1V936.3h-1V931h-1V938.1h-1V932.4h-1V934.4h-1V932.3h-1V933.8h-1V935.1h-1V936.6h-1V933.3h-1V935.7h-1V931h-1V933.3h-1V933.5h-1V935h-1V936.3h-1V933.5h-1V936.6h-1V934.8h-1V934.4h-1V934.5h-1V933.7h-1V933.4h-1V935.1h-1V934.4h-1V933.8h-1V934h-1V933.6h-1V939h-1V933.9h-1V932.9h-1V939.5h-1V934.6h-1V932.9h-1V934.9h-1V934.7h-1V937.5h-1V933.9h-1V932.6h-1V936.7h-1V935.9h-1V935.7h-1V935.6h-1V933.4h-1V937.4h-1V933h-1V934.4h-1V933.3h-1V937.4h-1V935.7h-1V935.3h-1V934.6h-1V934.9h-1V935h-1V934.9h-1V936.3h-1V933.4h-1V932.9h-1V932.7h-1V934.4h-1V933.5h-1V935.7h-1V932.5h-1V934.8h-1V933.3h-1V939.6h-1V934.5h-1V934.3h-1V933.5h-1V937.7h-1V934h-1V933.1h-1V933.9h-1V935.7h-1V936.3h-1V934.7h-1V933.8h-1V936.7h-1V934.6h-1V933.4h-1V935.5h-1V934.3h-1V937.1h-1V937.2h-1V940h-1V936.6h-1V935.4h-1V933.2h-1V937h-1V935.5h-1V937.3h-1V934.5h-1V939.6h-1V934.9h-1V937.8h-1V935.2h-1V935.3h-1V937h-1V934.4h-1V940.8h-1V935.1h-1V936h-1V935.6h-1V936.2h-1V936h-1V937.3h-1V934.5h-1V936.3h-1V939.1h-1V938.7h-1V938.4h-1V939.7h-1V934.6h-1V936.1h-1V934.4h-1V936.7h-1V940.2h-1V935h-1V935.6h-1V934.1h-1V935.1h-1V935.3h-1V939.4h-1V933.7h-1V935.4h-1V935.4h-1V938.4h-1V933.7h-1V933.8h-1V932.8h-1V933h-1V936.8h-1V932.7h-1V935.7h-1V933.3h-1V936h-1V935.9h-1V936.3h-1V932.7h-1V935.2h-1V932.1h-1V931h-1V938.8h-1V932.4h-1V935h-1V932.3h-1V932.6h-1V930.9h-1V930.5h-1V929.7h-1V934.3h-1V929.4h-1V931h-1V928.5h-1V930.9h-1V928.7h-1V931.6h-1V930.2h-1V929h-1V926.5h-1V926h-1V931.6h-1V928.6h-1V926.3h-1V925.9h-1V926.4h-1V924.3h-1V927.6h-1V924.3h-1V923.7h-1V925.5h-1V923.6h-1V923.7h-1V923.2h-1V922.3h-1V924.7h-1V927.5h-1V923.2h-1V927.5h-1V920.7h-1V921.2h-1V922.8h-1V921.2h-1V923.6h-1V924h-1V925.4h-1V921.9h-1V921.9h-1V922h-1V919.2h-1V918.5h-1V922h-1V918.3h-1V918.7h-1V920.1h-1V917.8h-1V921.3h-1V919.6h-1V918h-1V918.8h-1V917.3h-1V918.5h-1V916.3h-1V918.1h-1V917.7h-1V917.3h-1V918.9h-1V915.9h-1V916.4h-1V918.6h-1V917.5h-1V915.3h-1V916.8h-1V914.2h-1V917.1h-1V915.5h-1V913.7h-1V914.9h-1V914h-1V913.3h-1V915.1h-1V914.8h-1V921.4h-1V915.5h-1V919.9h-1V918.9h-1V917.7h-1V912.8h-1V912.7h-1V913.7h-1V914.7h-1V913.2h-1V914.8h-1V917h-1V912.8h-1V912.7h-1V918.6h-1V914h-1V914h-1V912.7h-1V914.3h-1V917.3h-1V913.8h-1V914.2h-1V915.7h-1V918.2h-1V914h-1V913.3h-1V914.3h-1V923.3h-1V915.5h-1V916.3h-1V918.1h-1V916.5h-1V914.2h-1V914.2h-1V914.3h-1V917.9h-1V914.5h-1V917.7h-1V915.7h-1V916.3h-1V916.2h-1V918.4h-1V917.5h-1V915.9h-1V917.1h-1V915.9h-1V918h-1V917.7h-1V920.1h-1V918.3h-1V917.7h-1V921.1h-1V918.2h-1V915.8h-1V916.2h-1V918.7h-1V917.2h-1V917.2h-1V920.4h-1V917.2h-1V916.4h-1V917h-1V916.4h-1V917.6h-1V916.9h-1V918.6h-1V921.7h-1V918.2h-1V915.9h-1V916.5h-1V916.7h-1V917.1h-1V916.4h-1V916.3h-1V915.4h-1V918.1h-1V915.4h-1V914.1h-1V914.1h-1Z" fill="#00ff00" shape-rendering="crispEdges"/>
<rect x="165.5" y="837.5" width="989" height="162" fill="none" stroke="#262626" stroke-width="1"/><rect x="209" y="837" width="1" height="10" fill="#262626"/><rect x="209" y="990" width="1" height="10" fill="#262626"/><rect x="704" y="837" width="1" height="10" fill="#262626"/><rect x="704" y="990" width="1" height="10" fill="#262626"/><rect x="165" y="837.8" width="10.5" height="1" fill="#262626"/><rect x="1144.5" y="837.8" width="10.5" height="1" fill="#262626"/><rect x="165" y="890.2" width="10.5" height="1" fill="#262626"/><rect x="1144.5" y="890.2" width="10.5" height="1" fill="#262626"/><rect x="165" y="942.6" width="10.5" height="1" fill="#262626"/><rect x="1144.5" y="942.6" width="10.5" height="1" fill="#262626"/><rect x="165" y="995" width="10.5" height="1" fill="#262626"/><rect x="1144.5" y="995" width="10.5" height="1" fill="#262626"/>
<rect x="1153.7" y="928" width="1.6" height="71.5" fill="#0000ff"/>
<text x="155.5" y="844.9" font-size="21.2" text-anchor="end" textLength="25.4" lengthAdjust="spacingAndGlyphs">20</text>
<text x="155.5" y="898.1" font-size="21.2" text-anchor="end" textLength="12.2" lengthAdjust="spacingAndGlyphs">0</text>
<text x="155.5" y="950.4" font-size="21.2" text-anchor="end" textLength="32.8" lengthAdjust="spacingAndGlyphs">-20</text>
<text x="155.5" y="1002.9" font-size="21.2" text-anchor="end" textLength="32.8" lengthAdjust="spacingAndGlyphs">-40</text>
<text x="85.2" y="1011.2" font-size="20" font-weight="bold" stroke="#262626" stroke-width="0.3" textLength="184.9" lengthAdjust="spacingAndGlyphs" transform="rotate(-90 85.2 1011.2)">Model - Measured</text>
<text x="111.2" y="955.8" font-size="20" font-weight="bold" stroke="#262626" stroke-width="0.3" textLength="73.9" lengthAdjust="spacingAndGlyphs" transform="rotate(-90 111.2 955.8)">|B| (nT)</text>
<text x="1170" y="921.8" font-size="14.6" font-weight="bold" stroke="#000" stroke-width="0.3" textLength="62.8" lengthAdjust="spacingAndGlyphs" transform="rotate(-90 1170 921.8)" fill="#000">Inboard</text>
<text x="1181.8" y="941.4" font-size="14.6" font-weight="bold" stroke="#000" stroke-width="0.3" textLength="75.9" lengthAdjust="spacingAndGlyphs" transform="rotate(-90 1181.8 941.4)" fill="#000">Outboard</text>
<rect x="1164" y="957.3" width="2" height="15" fill="#0000ff"/>
<rect x="1179" y="957.3" width="2" height="15" fill="#00ff00"/>
<rect x="209" y="1072" width="1" height="161" fill="#dfdfdf"/><rect x="704" y="1072" width="1" height="161" fill="#dfdfdf"/><rect x="165" y="1078" width="990" height="1" fill="#dfdfdf"/><rect x="165" y="1142" width="990" height="1" fill="#dfdfdf"/><rect x="165" y="1206" width="990" height="1" fill="#dfdfdf"/>
<path d="M165.5 1224.8h0.5V1233.2h1V1224.8h2V1233.2h0.5V1224.8h9V1216.4h6V1208h0.5V1216.4h0.5V1208h1V1216.4h0.5V1208h1.5V1216.4h2V1208h5V1216.4h0.5V1208h5.5V1216.4h0.5V1208h1.5V1216.4h0.5V1199.6h2V1208h0.5V1199.6h0.5V1208h0.5V1199.6h0.5V1208h0.5V1199.6h1V1208h1V1199.6h0.5V1208h3V1199.6h11V1208h1V1199.6h8V1191.2h0.5V1199.6h2V1191.2h1V1199.6h1V1191.2h0.5V1199.6h4V1191.2h0.5V1199.6h3V1191.2h0.5V1199.6h1.5V1191.2h0.5V1199.6h1.5V1191.2h1V1199.6h1.5V1191.2h1.5V1182.8h0.5V1191.2h4V1182.8h0.5V1191.2h17.5V1182.8h0.5V1191.2h6.5V1182.8h0.5V1191.2h0.5V1182.8h2.5V1191.2h0.5V1182.8h1.5V1191.2h1V1182.8h0.5V1191.2h1.5V1182.8h0.5V1191.2h0.5V1182.8h1V1191.2h1V1182.8h0.5V1191.2h0.5V1182.8h2.5V1191.2h0.5V1182.8h2V1191.2h1V1182.8h0.5V1191.2h1V1182.8h0.5V1191.2h2.5V1182.8h0.5V1191.2h0.5V1182.8h1V1191.2h1V1182.8h0.5V1191.2h0.5V1182.8h0.5V1191.2h2V1182.8h1V1191.2h1.5V1182.8h4V1191.2h3V1182.8h8V1174.4h1V1182.8h1.5V1174.4h1V1182.8h15.5V1174.4h0.5V1182.8h0.5V1174.4h0.5V1182.8h0.5V1174.4h3.5V1182.8h0.5V1174.4h1V1182.8h0.5V1174.4h0.5V1182.8h1V1174.4h0.5V1182.8h0.5V1174.4h1V1182.8h1.5V1174.4h1.5V1182.8h0.5V1174.4h1V1182.8h1.5V1174.4h0.5V1182.8h0.5V1174.4h0.5V1182.8h0.5V1174.4h1.5V1182.8h1V1174.4h0.5V1182.8h3V1174.4h1.5V1182.8h1V1174.4h0.5V1182.8h1V1174.4h0.5V1182.8h0.5V1174.4h5V1182.8h0.5V1174.4h1V1182.8h1V1174.4h1V1182.8h2V1174.4h1V1182.8h2V1174.4h0.5V1182.8h1V1174.4h0.5V1182.8h0.5V1174.4h0.5V1182.8h1.5V1174.4h2.5V1182.8h0.5V1174.4h5V1182.8h0.5V1174.4h2V1182.8h0.5V1174.4h4.5V1182.8h2V1174.4h0.5V1182.8h0.5V1174.4h0.5V1182.8h0.5V1174.4h26.5V1166h0.5V1174.4h3V1166h0.5V1174.4h29V1166h0.5V1174.4h3V1166h0.5V1174.4h3V1166h0.5V1174.4h0.5V1166h0.5V1174.4h6.5V1166h0.5V1174.4h1.5V1166h0.5V1174.4h8V1166h1V1174.4h1V1166h0.5V1174.4h0.5V1166h2.5V1174.4h2V1166h0.5V1174.4h1.5V1166h0.5V1174.4h0.5V1166h1V1174.4h1.5V1166h1V1174.4h0.5V1166h0.5V1174.4h0.5V1166h1.5V1174.4h0.5V1166h2V1174.4h1V1166h5V1174.4h2.5V1166h1V1174.4h1.5V1166h0.5V1174.4h1V1166h1V1174.4h1V1166h1V1174.4h0.5V1166h6.5V1174.4h2V1166h2V1174.4h0.5V1166h0.5V1174.4h1.5V1166h0.5V1174.4h2.5V1166h0.5V1174.4h1.5V1166h0.5V1174.4h2V1166h0.5V1174.4h0.5V1166h1V1174.4h1V1166h1.5V1174.4h0.5V1166h0.5V1174.4h1V1166h1V1174.4h0.5V1166h1.5V1174.4h0.5V1166h0.5V1174.4h0.5V1166h0.5V1174.4h1.5V1166h0.5V1174.4h0.5V1166h0.5V1174.4h1V1166h0.5V1174.4h1V1166h0.5V1174.4h0.5V1166h0.5V1174.4h1V1166h0.5V1174.4h2.5V1166h1V1174.4h0.5V1166h0.5V1174.4h0.5V1166h1V1174.4h0.5V1166h1V1174.4h0.5V1166h1.5V1174.4h0.5V1166h0.5V1174.4h1V1166h0.5V1174.4h1V1166h1V1174.4h0.5V1166h1.5V1174.4h2.5V1166h0.5V1174.4h0.5V1166h0.5V1174.4h0.5V1166h1.5V1174.4h0.5V1166h0.5V1174.4h0.5V1166h2.5V1174.4h0.5V1166h1.5V1174.4h1.5V1166h0.5V1174.4h2V1166h1.5V1174.4h1V1166h0.5V1174.4h0.5V1166h0.5V1174.4h0.5V1166h0.5V1174.4h0.5V1166h0.5V1174.4h2V1166h0.5V1174.4h0.5V1166h0.5V1174.4h1.5V1166h1.5V1174.4h0.5V1166h0.5V1174.4h1V1166h0.5V1174.4h1V1166h1.5V1174.4h0.5V1166h1V1174.4h1V1166h0.5V1174.4h0.5V1166h0.5V1174.4h2V1166h0.5V1174.4h0.5V1166h0.5V1174.4h1V1166h1V1174.4h1V1166h1V1174.4h1V1166h0.5V1174.4h2V1166h1V1174.4h0.5V1166h1.5V1174.4h1V1166h0.5V1174.4h0.5V1166h0.5V1174.4h0.5V1166h0.5V1174.4h2V1166h1V1174.4h0.5V1166h0.5V1174.4h2V1166h0.5V1174.4h1V1166h0.5V1174.4h0.5V1166h0.5V1174.4h0.5V1166h1.5V1174.4h2V1166h1V1174.4h0.5V1166h1V1174.4h0.5V1166h0.5V1174.4h1V1166h1V1174.4h1V1166h1V1174.4h0.5V1166h0.5V1174.4h1V1166h2V1174.4h1V1166h0.5V1174.4h0.5V1166h1V1174.4h0.5V1166h1.5V1174.4h0.5V1166h1V1174.4h1.5V1166h0.5V1174.4h0.5V1166h0.5V1174.4h1V1166h1.5V1174.4h0.5V1166h1.5V1174.4h0.5V1166h0.5V1174.4h1.5V1166h0.5V1174.4h2V1166h0.5V1174.4h1V1166h2.5V1157.6h0.5V1166h6.5V1157.6h0.5V1166h0.5V1157.6h0.5V1166h3.5V1157.6h0.5V1166h1.5V1157.6h0.5V1166h10.5V1157.6h0.5V1166h0.5V1157.6h0.5V1166h4.5V1157.6h0.5V1166h13.5V1157.6h0.5V1166h11.5V1157.6h0.5V1166h3V1157.6h0.5V1166h4.5V1157.6h0.5V1166h2.5V1157.6h0.5V1166h4V1157.6h0.5V1166h6.5V1157.6h0.5V1166h1V1157.6h0.5V1166h10V1157.6h0.5V1166h32V1157.6h0.5V1166h6.5V1157.6h0.5V1166h10V1157.6h0.5V1166h0.5V1157.6h1.5V1166h1V1157.6h0.5V1166h0.5V1157.6h0.5V1166h1.5V1157.6h1V1166h2V1157.6h1V1166h1.5V1157.6h0.5V1166h1.5V1157.6h0.5V1166h1V1157.6h0.5V1166h4.5V1157.6h0.5V1166h1V1157.6h0.5V1166h0.5V1157.6h0.5V1166h1V1157.6h1V1166h1.5V1157.6h1V1166h2.5V1157.6h0.5V1166h1.5V1157.6h0.5V1166h12.5V1157.6h1V1166h3.5V1157.6h1.5V1166h2V1157.6h0.5V1166h0.5V1157.6h1V1166h0.5V1157.6h0.5V1166h2V1157.6h0.5V1166h0.5V1157.6h0.5V1166h2V1157.6h1V1166h1.5V1157.6h0.5V1166h1V1157.6h0.5V1166h0.5V1157.6h0.5V1166h0.5V1157.6h2V1166h2V1157.6h0.5V1166h2V1157.6h1V1166h0.5V1157.6h0.5V1166h1.5V1157.6h0.5V1166h1.5V1157.6h0.5V1166h0.5V1157.6h0.5V1166h0.5V1157.6h1V1166h1V1157.6h0.5V1166h1V1157.6h0.5V1166h0.5V1157.6h1.5V1166h1V1157.6h0.5V1166h0.5V1157.6h0.5V1166h0.5V1157.6h1.5V1166h0.5V1157.6h1V1166h1V1157.6h2V1166h1.5V1157.6h2V1166h1V1157.6h1V1166h0.5V1157.6h0.5V1166h1V1157.6h1.5V1166h2.5V1157.6h0.5V1166h1.5V1157.6h0.5V1166h0.5V1157.6h0.5V1166h2V1157.6h1V1166h1V1157.6h0.5V1166h1.5V1157.6h2V1166h1V1157.6h0.5V1166h1V1157.6h1V1166h0.5V1157.6h1.5V1166h0.5V1157.6h0.5V1166h3.5V1157.6h0.5V1166h1V1157.6h0.5V1166h1V1157.6h1.5V1166h2.5V1157.6h1V1166h0.5V1157.6h0.5V1166h0.5V1157.6h0.5V1166h1V1157.6h0.5V1166h0.5V1157.6h1V1166h0.5V1157.6h0.5V1166h22V1157.6h1V1166h5.5V1157.6h0.5V1166h3V1157.6h0.5V1166h8V1157.6h0.5V1166h3V1157.6h0.5V1166h8V1157.6h1V1166h18.5V1157.6h1V1174.4h2V1166h50V1174.4h0.5V1166h6V1174.4h0.5V1166h1.5V1174.4h0.5V1166h1.5V1157.6h0.5V1166h0.5V1157.6h0.5V1166h7V1174.4h0.5V1166h4V1174.4h0.5V1166h3V1174.4h0.5V1166h10V1174.4h0.5V1166h6V1174.4h1V1166h1.5" fill="none" stroke="#0000ff" stroke-width="1.25" stroke-linejoin="miter"/><path d="M165.5 1163.3h7V1171.6h0.5V1163.3h0.5V1171.6h0.5V1163.3h0.5V1171.6h0.5V1163.3h0.5V1171.6h1V1163.3h0.5V1171.6h0.5V1163.3h2.5V1171.6h0.5V1163.3h0.5V1171.6h0.5V1163.3h0.5V1171.6h0.5V1163.3h1.5V1171.6h0.5V1163.3h1V1171.6h0.5V1163.3h1V1171.6h3.5V1163.3h0.5V1171.6h3V1163.3h2.5V1171.6h1V1163.3h0.5V1171.6h1V1163.3h1.5V1171.6h1V1163.3h0.5V1171.6h1V1163.3h2V1171.6h1.5V1163.3h1V1171.6h0.5V1163.3h0.5V1171.6h1V1163.3h0.5V1171.6h1.5V1163.3h1V1171.6h3.5V1163.3h1V1171.6h0.5V1163.3h0.5V1171.6h0.5V1163.3h1.5V1171.6h0.5V1163.3h0.5V1171.6h0.5V1163.3h0.5V1171.6h1V1163.3h1.5V1171.6h0.5V1163.3h4V1171.6h0.5V1163.3h0.5V1171.6h0.5V1163.3h0.5V1171.6h0.5V1163.3h1.5V1171.6h0.5V1163.3h3V1171.6h0.5V1163.3h13.5V1171.6h0.5V1163.3h3V1171.6h0.5V1163.3h11V1171.6h0.5V1163.3h15V1155h0.5V1163.3h1V1155h1V1163.3h0.5V1155h0.5V1163.3h2V1155h0.5V1163.3h1V1155h0.5V1163.3h0.5V1155h0.5V1163.3h0.5V1155h0.5V1163.3h0.5V1155h0.5V1163.3h16.5V1155h0.5V1163.3h1V1155h0.5V1163.3h24.5V1155h0.5V1163.3h3V1155h0.5V1163.3h1V1155h1V1163.3h2V1155h0.5V1163.3h2V1155h0.5V1163.3h2.5V1155h0.5V1163.3h2V1155h0.5V1163.3h1.5V1155h0.5V1163.3h8.5V1155h0.5V1163.3h2.5V1155h0.5V1163.3h3V1155h1V1163.3h1.5V1155h0.5V1163.3h2V1155h0.5V1163.3h1V1155h1V1163.3h0.5V1155h0.5V1163.3h0.5V1155h1V1163.3h0.5V1155h0.5V1163.3h1.5V1155h0.5V1163.3h0.5V1155h0.5V1163.3h1V1155h1V1163.3h0.5V1155h0.5V1163.3h0.5V1155h0.5V1163.3h1.5V1155h0.5V1163.3h0.5V1155h0.5V1163.3h1.5V1155h1V1163.3h2V1155h0.5V1163.3h1V1155h0.5V1163.3h1V1155h0.5V1163.3h1V1155h0.5V1163.3h2V1155h1V1163.3h0.5V1155h0.5V1163.3h1V1155h0.5V1163.3h2V1155h0.5V1163.3h1V1155h1.5V1163.3h1V1155h2V1163.3h2V1155h1.5V1163.3h1V1155h0.5V1163.3h3V1155h1.5V1163.3h0.5V1155h0.5V1163.3h0.5V1155h1.5V1163.3h1V1155h2V1163.3h1.5V1155h1.5V1163.3h0.5V1155h1V1163.3h0.5V1155h1V1163.3h1V1155h2V1163.3h0.5V1155h1.5V1163.3h0.5V1155h0.5V1163.3h1V1155h0.5V1163.3h0.5V1155h1.5V1163.3h0.5V1155h1.5V1163.3h0.5V1155h0.5V1163.3h0.5V1155h0.5V1163.3h1V1155h2V1163.3h1.5V1155h0.5V1163.3h2.5V1155h0.5V1163.3h1.5V1155h0.5V1163.3h0.5V1155h0.5V1163.3h1.5V1155h0.5V1163.3h0.5V1155h0.5V1163.3h1V1155h0.5V1163.3h1.5V1155h1V1163.3h3V1155h0.5V1163.3h3V1155h1V1163.3h1V1155h1V1163.3h0.5V1155h0.5V1163.3h1V1155h0.5V1163.3h1V1155h0.5V1163.3h0.5V1155h1.5V1163.3h1V1155h0.5V1163.3h1.5V1155h1V1163.3h2V1155h0.5V1163.3h1.5V1155h1V1163.3h3V1155h1.5V1163.3h0.5V1155h0.5V1163.3h0.5V1155h0.5V1163.3h0.5V1155h1V1163.3h0.5V1155h0.5V1163.3h1V1155h1V1163.3h0.5V1155h0.5V1163.3h0.5V1155h0.5V1163.3h1.5V1155h1V1163.3h1V1155h0.5V1163.3h1V1155h0.5V1163.3h0.5V1155h1V1163.3h1V1155h1.5V1163.3h0.5V1155h1.5V1163.3h0.5V1155h1.5V1163.3h1.5V1155h0.5V1163.3h0.5V1155h1.5V1163.3h0.5V1155h2V1163.3h0.5V1155h1V1163.3h1V1155h1V1163.3h0.5V1155h1.5V1163.3h1.5V1155h13V1163.3h0.5V1155h11V1163.3h0.5V1155h8V1163.3h0.5V1155h16V1163.3h0.5V1155h31.5V1163.3h0.5V1155h3V1163.3h0.5V1155h0.5V1163.3h0.5V1155h0.5V1163.3h0.5V1155h2V1163.3h0.5V1155h20V1146.7h0.5V1155h28.5V1146.7h0.5V1155h9.5V1146.7h0.5V1155h2.5V1146.7h0.5V1155h1V1146.7h0.5V1155h1.5V1146.7h0.5V1155h10.5V1146.7h1V1155h2V1146.7h0.5V1155h1V1146.7h1V1155h1V1146.7h1V1155h1V1146.7h1V1155h1V1146.7h1.5V1155h1V1146.7h0.5V1155h0.5V1146.7h1V1155h0.5V1146.7h0.5V1155h1V1146.7h2V1155h0.5V1146.7h1.5V1155h0.5V1146.7h2V1155h0.5V1146.7h0.5V1155h0.5V1146.7h11.5V1155h0.5V1146.7h1V1155h0.5V1146.7h7V1155h0.5V1146.7h8.5V1155h1V1146.7h0.5V1155h0.5V1146.7h8.5V1155h0.5V1146.7h5.5V1155h0.5V1146.7h3.5V1155h0.5V1146.7h5V1155h0.5V1146.7h6V1155h0.5V1146.7h15.5V1138.4h0.5V1146.7h2.5V1138.4h0.5V1146.7h2V1138.4h0.5V1146.7h1V1138.4h0.5V1146.7h9.5V1138.4h0.5V1146.7h1V1155h0.5V1146.7h1.5V1155h0.5V1146.7h6.5V1138.4h0.5V1146.7h8V1138.4h0.5V1146.7h1.5V1138.4h0.5V1146.7h2.5V1138.4h1V1146.7h0.5V1138.4h0.5V1146.7h1V1138.4h1.5V1146.7h0.5V1138.4h2V1146.7h1V1138.4h2V1146.7h0.5V1138.4h2.5V1146.7h0.5V1138.4h0.5V1146.7h1V1138.4h0.5V1146.7h1.5V1138.4h0.5V1146.7h1.5V1138.4h1V1146.7h3.5V1138.4h1.5V1146.7h0.5V1138.4h3V1146.7h1V1138.4h1.5V1146.7h1V1138.4h0.5V1146.7h1V1138.4h0.5V1146.7h1V1138.4h1.5V1146.7h1V1138.4h1V1146.7h0.5V1138.4h0.5V1146.7h0.5V1138.4h0.5V1146.7h1V1138.4h0.5V1146.7h0.5V1138.4h1V1146.7h1V1138.4h2V1146.7h1V1138.4h0.5V1146.7h1V1138.4h1.5V1146.7h0.5V1138.4h0.5V1146.7h1V1138.4h0.5V1146.7h0.5V1138.4h0.5V1146.7h2V1138.4h0.5V1146.7h2V1138.4h0.5V1146.7h1V1138.4h1.5V1146.7h1V1138.4h2V1146.7h2V1138.4h1.5V1146.7h1V1138.4h0.5V1146.7h2.5V1138.4h2V1146.7h2V1138.4h1V1146.7h3V1138.4h1.5V1146.7h1V1138.4h0.5V1146.7h1V1138.4h1.5V1146.7h0.5V1138.4h0.5V1146.7h2.5V1138.4h3.5V1146.7h0.5V1138.4h1V1146.7h1V1138.4h0.5V1146.7h1V1138.4h0.5V1146.7h0.5V1138.4h1V1146.7h1.5V1138.4h1.5V1146.7h1V1138.4h0.5V1146.7h1V1138.4h0.5V1146.7h0.5V1138.4h0.5V1146.7h0.5V1138.4h1V1146.7h2.5V1138.4h1V1146.7h0.5V1138.4h0.5V1146.7h0.5V1138.4h3V1146.7h0.5V1138.4h2.5V1146.7h1.5V1138.4h2V1146.7h0.5V1138.4h11.5V1146.7h0.5V1138.4h5V1146.7h0.5V1138.4h2V1146.7h0.5V1138.4h5.5V1146.7h0.5V1138.4h3.5V1146.7h0.5V1138.4h4V1146.7h0.5V1138.4h2V1146.7h0.5V1138.4h141V1130.1h0.5V1138.4h1V1130.1h1V1138.4h0.5V1130.1h0.5V1138.4h3.5V1130.1h0.5V1138.4h4.5V1130.1h1V1138.4h0.5V1130.1h0.5V1138.4h0.5" fill="none" stroke="#00ffff" stroke-width="1.25" stroke-linejoin="miter"/><path d="M165.5 1188.4h1.5V1179.9h2.5V1188.4h0.5V1179.9h1V1188.4h0.5V1179.9h0.5V1188.4h0.5V1179.9h0.5V1171.3h0.5V1188.4h1V1179.9h0.5V1171.3h0.5V1188.4h0.5V1171.3h0.5V1188.4h0.5V1179.9h1V1171.3h1.5V1179.9h0.5V1188.4h1.5V1179.9h1V1171.3h1V1179.9h0.5V1171.3h0.5V1179.9h0.5V1171.3h1V1179.9h0.5V1171.3h1V1179.9h0.5V1171.3h1V1179.9h0.5V1162.8h0.5V1179.9h1V1171.3h0.5V1179.9h1V1171.3h1V1179.9h1V1162.8h0.5V1179.9h0.5V1171.3h1V1179.9h0.5V1171.3h1V1179.9h1V1162.8h0.5V1171.3h0.5V1162.8h0.5V1171.3h0.5V1162.8h1V1171.3h0.5V1162.8h0.5V1171.3h0.5V1162.8h1V1171.3h1V1162.8h2V1171.3h3.5V1162.8h1V1171.3h0.5V1162.8h1V1171.3h0.5V1162.8h2.5V1171.3h0.5V1162.8h0.5V1171.3h0.5V1162.8h1V1171.3h0.5V1162.8h0.5V1171.3h1V1162.8h1.5V1171.3h0.5V1162.8h0.5V1171.3h0.5V1162.8h0.5V1154.2h0.5V1171.3h0.5V1162.8h1V1154.2h0.5V1162.8h2V1154.2h0.5V1162.8h4.5V1154.2h0.5V1162.8h4.5V1154.2h1V1162.8h2V1154.2h1.5V1162.8h1V1154.2h0.5V1162.8h0.5V1154.2h1V1162.8h0.5V1154.2h0.5V1162.8h0.5V1154.2h0.5V1162.8h1V1154.2h0.5V1162.8h0.5V1154.2h0.5V1162.8h0.5V1154.2h0.5V1162.8h1.5V1154.2h0.5V1162.8h2.5V1154.2h1V1162.8h0.5V1154.2h0.5V1162.8h1V1154.2h0.5V1162.8h0.5V1154.2h0.5V1162.8h2V1154.2h0.5V1162.8h2V1154.2h0.5V1162.8h0.5V1154.2h0.5V1162.8h0.5V1154.2h0.5V1162.8h0.5V1154.2h0.5V1162.8h1.5V1154.2h0.5V1162.8h1V1154.2h0.5V1162.8h0.5V1154.2h8V1162.8h0.5V1154.2h0.5V1162.8h0.5V1154.2h1V1162.8h0.5V1154.2h4V1162.8h0.5V1154.2h1.5V1162.8h0.5V1154.2h1.5V1162.8h0.5V1154.2h0.5V1162.8h1V1154.2h0.5V1162.8h0.5V1154.2h13V1162.8h1V1154.2h1V1162.8h0.5V1154.2h0.5V1162.8h0.5V1154.2h0.5V1162.8h1V1145.7h2V1154.2h1V1145.7h0.5V1154.2h1V1145.7h0.5V1154.2h0.5V1145.7h0.5V1154.2h0.5V1145.7h0.5V1154.2h0.5V1145.7h0.5V1154.2h1V1145.7h1V1154.2h1V1145.7h0.5V1154.2h0.5V1145.7h1V1154.2h1.5V1145.7h0.5V1154.2h7.5V1145.7h0.5V1154.2h3V1145.7h0.5V1154.2h14.5V1145.7h0.5V1154.2h1V1145.7h0.5V1154.2h1.5V1145.7h1.5V1154.2h0.5V1145.7h0.5V1154.2h0.5V1145.7h0.5V1154.2h4V1145.7h1V1154.2h1V1145.7h0.5V1154.2h1.5V1145.7h0.5V1154.2h2.5V1145.7h0.5V1154.2h1V1145.7h0.5V1154.2h0.5V1145.7h0.5V1154.2h2V1145.7h0.5V1154.2h0.5V1145.7h1V1154.2h1V1145.7h0.5V1154.2h1.5V1145.7h0.5V1154.2h2V1145.7h0.5V1154.2h2V1145.7h1.5V1154.2h1.5V1145.7h0.5V1154.2h0.5V1145.7h1V1154.2h1.5V1145.7h0.5V1154.2h3V1145.7h1V1154.2h1V1145.7h0.5V1154.2h0.5V1145.7h1V1137.1h0.5V1154.2h1V1145.7h0.5V1154.2h0.5V1145.7h2.5V1154.2h0.5V1145.7h6.5V1154.2h0.5V1145.7h3V1137.1h0.5V1145.7h4.5V1137.1h0.5V1145.7h1V1137.1h0.5V1154.2h0.5V1145.7h1V1154.2h0.5V1145.7h7.5V1154.2h0.5V1137.1h0.5V1145.7h0.5V1154.2h0.5V1145.7h0.5V1137.1h0.5V1154.2h0.5V1145.7h3V1137.1h0.5V1145.7h1V1137.1h0.5V1145.7h4V1137.1h0.5V1154.2h0.5V1145.7h1.5V1137.1h0.5V1145.7h0.5V1137.1h0.5V1145.7h0.5V1137.1h0.5V1145.7h3.5V1154.2h0.5V1145.7h1V1154.2h0.5V1145.7h5.5V1137.1h0.5V1145.7h1V1137.1h1V1154.2h0.5V1145.7h4V1137.1h0.5V1145.7h1V1137.1h0.5V1145.7h0.5V1137.1h1V1145.7h1.5V1137.1h2.5V1145.7h0.5V1137.1h0.5V1145.7h2V1137.1h0.5V1145.7h0.5V1137.1h0.5V1145.7h0.5V1137.1h2V1145.7h0.5V1137.1h0.5V1145.7h0.5V1137.1h0.5V1145.7h1V1137.1h0.5V1145.7h1V1137.1h0.5V1145.7h1V1137.1h0.5V1145.7h1V1137.1h0.5V1145.7h1V1137.1h1V1145.7h2.5V1137.1h1V1145.7h0.5V1137.1h0.5V1145.7h0.5V1137.1h0.5V1145.7h1.5V1137.1h0.5V1145.7h1.5V1137.1h0.5V1145.7h0.5V1137.1h2.5V1145.7h0.5V1137.1h1V1145.7h1V1137.1h3V1145.7h0.5V1137.1h0.5V1145.7h1V1137.1h1.5V1145.7h1V1137.1h1V1145.7h0.5V1137.1h1V1145.7h0.5V1137.1h0.5V1145.7h0.5V1137.1h0.5V1145.7h0.5V1137.1h5V1145.7h0.5V1137.1h1.5V1145.7h1V1137.1h0.5V1145.7h0.5V1137.1h0.5V1145.7h0.5V1137.1h0.5V1145.7h0.5V1137.1h1V1145.7h0.5V1137.1h4.5V1145.7h0.5V1137.1h1V1145.7h0.5V1137.1h1.5V1145.7h0.5V1137.1h1V1145.7h0.5V1137.1h2.5V1145.7h0.5V1137.1h1.5V1145.7h0.5V1137.1h1V1145.7h0.5V1137.1h2V1145.7h0.5V1137.1h8V1145.7h0.5V1137.1h3.5V1145.7h0.5V1137.1h0.5V1145.7h0.5V1137.1h0.5V1145.7h0.5V1137.1h1.5V1145.7h0.5V1137.1h1.5V1145.7h0.5V1137.1h0.5V1145.7h0.5V1137.1h2V1145.7h0.5V1137.1h0.5V1145.7h0.5V1137.1h6.5V1145.7h0.5V1137.1h1.5V1145.7h0.5V1137.1h2.5V1145.7h0.5V1137.1h4.5V1145.7h0.5V1137.1h2V1145.7h0.5V1137.1h3.5V1145.7h0.5V1137.1h6.5V1145.7h1V1137.1h2.5V1145.7h1.5V1137.1h1V1145.7h0.5V1137.1h0.5V1145.7h1V1137.1h0.5V1145.7h1V1137.1h3V1145.7h0.5V1137.1h1.5V1145.7h1V1137.1h1V1145.7h0.5V1137.1h0.5V1145.7h0.5V1137.1h1.5V1145.7h0.5V1137.1h0.5V1145.7h1V1137.1h1V1145.7h0.5V1137.1h3.5V1145.7h0.5V1137.1h4.5V1145.7h0.5V1137.1h3.5V1145.7h1V1137.1h0.5V1145.7h0.5V1137.1h1.5V1145.7h1V1137.1h1.5V1145.7h0.5V1137.1h3.5V1128.6h1.5V1137.1h0.5V1145.7h0.5V1128.6h2V1137.1h0.5V1128.6h0.5V1145.7h0.5V1128.6h0.5V1137.1h1.5V1128.6h1V1137.1h0.5V1128.6h2V1137.1h2V1128.6h1V1137.1h0.5V1128.6h0.5V1137.1h2V1128.6h1V1137.1h1V1128.6h1V1137.1h2V1128.6h1V1145.7h0.5V1128.6h0.5V1137.1h1V1128.6h0.5V1137.1h1V1128.6h0.5V1137.1h2V1128.6h0.5V1137.1h1V1128.6h1V1137.1h0.5V1128.6h0.5V1137.1h1.5V1128.6h1.5V1137.1h0.5V1128.6h0.5V1137.1h1V1128.6h0.5V1137.1h0.5V1128.6h0.5V1145.7h0.5V1137.1h1V1128.6h2V1137.1h0.5V1128.6h0.5V1137.1h1V1128.6h0.5V1137.1h0.5V1128.6h1.5V1137.1h0.5V1128.6h0.5V1137.1h0.5V1145.7h0.5V1128.6h1V1137.1h1.5V1128.6h0.5V1137.1h1.5V1128.6h0.5V1137.1h0.5V1128.6h1V1137.1h1V1145.7h0.5V1137.1h0.5V1128.6h0.5V1137.1h0.5V1145.7h0.5V1137.1h0.5V1128.6h1.5V1137.1h2V1128.6h1V1137.1h0.5V1128.6h0.5V1137.1h1V1128.6h1V1137.1h1V1128.6h1V1137.1h0.5V1128.6h0.5V1137.1h1V1128.6h1V1137.1h0.5V1128.6h0.5V1137.1h1.5V1128.6h2.5V1120h0.5V1137.1h0.5V1128.6h1V1137.1h1.5V1128.6h5V1137.1h2V1128.6h0.5V1137.1h0.5V1128.6h1V1137.1h1V1128.6h0.5V1137.1h0.5V1128.6h0.5V1137.1h1V1128.6h2.5V1137.1h1V1128.6h0.5V1137.1h0.5V1128.6h0.5V1137.1h0.5V1128.6h1V1137.1h1.5V1128.6h0.5V1137.1h0.5V1128.6h1.5V1137.1h1.5V1128.6h0.5V1137.1h0.5V1128.6h1.5V1137.1h0.5V1128.6h1V1137.1h0.5V1128.6h0.5V1137.1h0.5V1128.6h0.5V1137.1h1V1128.6h0.5V1137.1h2.5V1128.6h1V1137.1h3V1128.6h1V1137.1h1V1128.6h2V1137.1h3V1128.6h0.5V1137.1h1V1128.6h1V1137.1h0.5V1128.6h0.5V1137.1h0.5V1128.6h1.5V1137.1h0.5V1128.6h0.5V1137.1h3V1128.6h0.5V1137.1h0.5V1128.6h1V1137.1h0.5V1128.6h1V1137.1h0.5V1128.6h1.5V1137.1h0.5V1128.6h0.5V1137.1h0.5V1128.6h1.5V1137.1h0.5V1128.6h0.5V1137.1h1V1128.6h1V1137.1h0.5V1128.6h0.5V1137.1h0.5V1128.6h1V1137.1h1V1128.6h0.5V1137.1h1V1128.6h0.5V1137.1h0.5V1128.6h0.5V1137.1h1V1128.6h0.5V1137.1h0.5V1128.6h1.5V1137.1h0.5V1128.6h0.5V1137.1h0.5V1128.6h0.5V1137.1h1V1128.6h1V1137.1h0.5V1128.6h0.5V1137.1h1.5V1128.6h0.5V1137.1h2V1128.6h0.5V1137.1h0.5V1128.6h0.5V1137.1h1.5V1128.6h0.5V1137.1h0.5V1128.6h0.5V1137.1h0.5V1128.6h1.5V1137.1h0.5V1128.6h1V1137.1h1V1128.6h1.5V1137.1h0.5V1128.6h0.5V1137.1h1V1128.6h1.5V1137.1h1V1128.6h2V1137.1h1V1128.6h0.5V1137.1h0.5V1128.6h0.5V1137.1h1.5V1128.6h0.5V1137.1h0.5V1128.6h1.5V1137.1h0.5V1128.6h1.5V1137.1h1V1128.6h1V1137.1h1V1128.6h2V1137.1h1V1128.6h0.5V1137.1h2.5V1128.6h1V1137.1h1.5V1128.6h1V1137.1h0.5V1128.6h1V1137.1h1V1128.6h0.5V1137.1h0.5V1128.6h0.5V1137.1h0.5V1128.6h1V1137.1h1V1128.6h0.5V1137.1h1V1128.6h1V1137.1h0.5V1128.6h0.5V1137.1h1.5V1128.6h2V1137.1h0.5V1128.6h0.5V1137.1h0.5V1128.6h0.5V1137.1h0.5V1120h0.5V1128.6h1V1137.1h0.5V1128.6h1.5V1137.1h1V1128.6h1V1137.1h1.5V1128.6h1V1137.1h0.5V1128.6h0.5V1137.1h1V1128.6h0.5V1137.1h1V1128.6h1V1137.1h1V1128.6h0.5V1137.1h0.5V1128.6h1.5V1137.1h1V1128.6h1V1137.1h0.5V1128.6h0.5V1137.1h0.5V1128.6h2V1137.1h0.5V1120h0.5V1128.6h0.5V1137.1h1.5V1128.6h0.5V1137.1h0.5V1128.6h2V1137.1h0.5V1128.6h0.5V1137.1h2V1128.6h0.5V1137.1h0.5V1128.6h0.5V1137.1h0.5V1128.6h0.5V1137.1h1V1128.6h0.5V1137.1h1V1128.6h4V1137.1h1V1128.6h0.5V1137.1h1V1128.6h0.5V1137.1h1V1128.6h1V1137.1h2.5V1128.6h0.5V1137.1h2V1128.6h2V1137.1h0.5V1128.6h1V1137.1h0.5V1128.6h0.5V1137.1h2V1128.6h1V1137.1h2.5V1128.6h0.5V1137.1h0.5V1128.6h0.5V1137.1h0.5V1128.6h0.5V1137.1h0.5V1128.6h1V1137.1h0.5V1128.6h0.5V1137.1h0.5V1128.6h0.5V1137.1h2.5V1128.6h0.5V1137.1h0.5V1128.6h2.5V1137.1h1.5V1128.6h0.5V1120h0.5V1137.1h1V1128.6h1V1137.1h1V1128.6h0.5V1120h0.5V1128.6h0.5V1137.1h4V1128.6h0.5V1137.1h1.5V1128.6h1V1137.1h0.5V1128.6h0.5V1137.1h1.5V1128.6h1V1137.1h1.5V1128.6h0.5V1137.1h0.5V1128.6h1V1137.1h0.5V1128.6h0.5V1137.1h2V1128.6h1.5V1137.1h0.5V1128.6h0.5V1120h0.5V1128.6h0.5V1137.1h0.5V1128.6h2V1137.1h1V1128.6h1V1137.1h0.5V1128.6h0.5V1137.1h0.5V1128.6h1V1137.1h0.5V1128.6h1V1137.1h0.5V1128.6h0.5V1137.1h1.5V1128.6h1V1137.1h1V1128.6h2.5V1137.1h1V1128.6h1.5V1137.1h2V1128.6h1.5V1137.1h0.5V1128.6h0.5V1137.1h0.5V1128.6h0.5V1137.1h0.5V1128.6h0.5V1137.1h0.5V1128.6h0.5V1137.1h2V1128.6h0.5V1137.1h1.5V1128.6h2.5V1137.1h0.5V1128.6h0.5V1137.1h1V1128.6h0.5V1137.1h1.5V1128.6h1V1137.1h2.5V1128.6h1V1137.1h1V1128.6h0.5V1137.1h0.5V1128.6h1V1145.7h0.5V1137.1h1.5V1128.6h0.5V1137.1h0.5V1128.6h4.5V1137.1h0.5V1128.6h1V1137.1h1.5V1128.6h1.5V1137.1h0.5V1128.6h2.5V1137.1h2V1128.6h0.5V1137.1h0.5V1128.6h0.5V1137.1h0.5V1128.6h0.5V1137.1h0.5V1128.6h0.5V1137.1h2.5V1128.6h2.5V1137.1h1V1128.6h0.5V1137.1h0.5V1128.6h0.5V1137.1h1V1128.6h0.5V1137.1h1V1128.6h0.5V1137.1h0.5V1128.6h1V1137.1h0.5V1128.6h1V1137.1h1.5V1128.6h0.5V1137.1h1V1128.6h0.5V1145.7h0.5V1137.1h0.5V1128.6h0.5V1137.1h0.5V1128.6h1V1137.1h1V1128.6h1.5V1137.1h1V1128.6h1.5V1137.1h0.5V1128.6h0.5V1137.1h0.5V1128.6h2.5V1137.1h1V1128.6h1V1137.1h1V1128.6h1V1137.1h1.5V1128.6h1V1137.1h0.5V1128.6h0.5V1137.1h0.5V1128.6h0.5V1137.1h0.5V1128.6h0.5V1137.1h1V1128.6h1V1137.1h0.5V1128.6h1.5V1137.1h1V1128.6h3.5V1137.1h0.5V1128.6h1V1137.1h0.5V1128.6h1V1137.1h3.5V1128.6h1V1137.1h1V1145.7h0.5V1128.6h0.5V1137.1h1.5V1145.7h0.5V1128.6h1.5V1137.1h0.5V1128.6h0.5V1137.1h1.5V1145.7h0.5V1137.1h0.5V1128.6h2V1137.1h0.5V1128.6h0.5V1137.1h0.5V1128.6h0.5V1137.1h1V1128.6h0.5V1137.1h0.5V1128.6h1.5V1137.1h0.5V1128.6h1.5V1137.1h1V1128.6h0.5V1137.1h0.5V1128.6h0.5V1137.1h1V1128.6h2V1137.1h0.5V1128.6h2.5V1137.1h1.5V1128.6h0.5V1137.1h1.5V1128.6h1V1137.1h1V1128.6h0.5V1137.1h0.5V1128.6h0.5V1137.1h1.5V1128.6h0.5V1137.1h1V1128.6h0.5V1137.1h1V1128.6h1V1137.1h0.5V1128.6h1.5V1137.1h0.5V1128.6h1.5V1137.1h1V1128.6h0.5V1145.7h0.5V1128.6h2V1137.1h0.5V1128.6h0.5V1137.1h2V1128.6h0.5V1137.1h1V1128.6h1V1137.1h0.5V1128.6h0.5V1137.1h0.5V1145.7h0.5V1128.6h0.5V1137.1h0.5V1128.6h0.5V1137.1h1V1128.6h1V1137.1h0.5V1128.6h2V1137.1h1.5V1128.6h0.5V1137.1h0.5V1128.6h1V1137.1h1V1128.6h0.5" fill="none" stroke="#00ff00" stroke-width="1.25" stroke-linejoin="miter"/><path d="M165.5 1151.7h1.5V1143.6h0.5V1159.8h0.5V1143.6h2V1151.7h0.5V1159.8h0.5V1151.7h0.5V1159.8h1V1151.7h0.5V1159.8h0.5V1151.7h0.5V1135.5h0.5V1151.7h0.5V1143.6h0.5V1159.8h1.5V1151.7h0.5V1143.6h0.5V1159.8h0.5V1151.7h1V1159.8h0.5V1151.7h1.5V1143.6h0.5V1159.8h0.5V1151.7h1V1159.8h0.5V1151.7h0.5V1159.8h1.5V1143.6h1V1151.7h1V1143.6h0.5V1159.8h0.5V1143.6h2V1159.8h0.5V1143.6h0.5V1151.7h1V1143.6h1.5V1151.7h1V1159.8h1.5V1151.7h0.5V1159.8h0.5V1143.6h1V1151.7h1V1143.6h0.5V1151.7h0.5V1159.8h0.5V1143.6h0.5V1151.7h0.5V1143.6h0.5V1151.7h0.5V1159.8h1V1143.6h0.5V1159.8h1.5V1143.6h0.5V1151.7h0.5V1143.6h0.5V1159.8h0.5V1143.6h0.5V1159.8h1V1143.6h0.5V1151.7h0.5V1143.6h0.5V1159.8h1V1143.6h0.5V1159.8h1V1151.7h0.5V1143.6h1V1151.7h0.5V1159.8h0.5V1151.7h1V1143.6h1V1151.7h0.5V1143.6h0.5V1151.7h0.5V1143.6h1.5V1151.7h0.5V1143.6h0.5V1151.7h0.5V1143.6h2V1151.7h0.5V1143.6h1V1151.7h0.5V1143.6h0.5V1151.7h0.5V1143.6h0.5V1151.7h0.5V1143.6h0.5V1151.7h0.5V1143.6h0.5V1151.7h0.5V1159.8h0.5V1143.6h1V1159.8h0.5V1143.6h0.5V1159.8h0.5V1151.7h0.5V1143.6h0.5V1151.7h1V1143.6h0.5V1151.7h0.5V1143.6h1V1151.7h0.5V1143.6h0.5V1151.7h1V1143.6h1.5V1151.7h1V1143.6h0.5V1151.7h0.5V1143.6h2V1151.7h1.5V1143.6h0.5V1151.7h0.5V1135.5h0.5V1143.6h1.5V1151.7h2V1143.6h0.5V1151.7h1V1143.6h1V1151.7h0.5V1143.6h1V1151.7h0.5V1143.6h1V1151.7h0.5V1143.6h1V1151.7h0.5V1143.6h0.5V1151.7h0.5V1143.6h0.5V1151.7h0.5V1143.6h1V1151.7h2V1143.6h1V1151.7h0.5V1143.6h0.5V1151.7h0.5V1143.6h1.5V1151.7h0.5V1143.6h1.5V1151.7h0.5V1143.6h1V1151.7h1V1143.6h1V1151.7h0.5V1143.6h2V1151.7h0.5V1143.6h1V1151.7h2.5V1143.6h1V1151.7h0.5V1143.6h2.5V1151.7h1V1143.6h1V1151.7h1.5V1143.6h0.5V1151.7h0.5V1143.6h0.5V1151.7h2V1143.6h0.5V1151.7h2V1143.6h1.5V1151.7h1V1143.6h3V1151.7h1.5V1143.6h0.5V1151.7h0.5V1143.6h0.5V1151.7h1V1143.6h0.5V1151.7h1.5V1143.6h1.5V1151.7h0.5V1143.6h3V1151.7h0.5V1143.6h2.5V1151.7h3V1143.6h2V1151.7h1.5V1143.6h1V1151.7h1V1143.6h1V1151.7h0.5V1143.6h1V1151.7h3V1143.6h0.5V1151.7h0.5V1143.6h0.5V1151.7h2.5V1143.6h1V1151.7h0.5V1143.6h1.5V1151.7h2V1143.6h1.5V1151.7h2V1135.5h1.5V1143.6h0.5V1135.5h1.5V1143.6h1V1135.5h1.5V1143.6h0.5V1151.7h1.5V1135.5h0.5V1143.6h0.5V1135.5h1V1143.6h1V1135.5h1V1143.6h1V1135.5h0.5V1143.6h1V1135.5h1.5V1143.6h1.5V1135.5h1V1143.6h1.5V1135.5h2V1143.6h0.5V1135.5h0.5V1143.6h1V1135.5h1V1143.6h0.5V1135.5h0.5V1143.6h1.5V1135.5h1V1143.6h0.5V1135.5h1.5V1151.7h0.5V1135.5h0.5V1143.6h0.5V1135.5h0.5V1143.6h2V1135.5h0.5V1143.6h0.5V1135.5h0.5V1143.6h0.5V1151.7h0.5V1135.5h2.5V1143.6h0.5V1135.5h1V1143.6h1.5V1135.5h1V1143.6h0.5V1135.5h1V1143.6h0.5V1135.5h1V1143.6h0.5V1135.5h0.5V1151.7h0.5V1135.5h1V1143.6h0.5V1135.5h1V1143.6h1.5V1135.5h0.5V1143.6h0.5V1135.5h1.5V1143.6h0.5V1135.5h2V1143.6h0.5V1135.5h0.5V1143.6h0.5V1135.5h0.5V1143.6h0.5V1135.5h0.5V1143.6h0.5V1135.5h0.5V1151.7h0.5V1143.6h0.5V1127.4h0.5V1143.6h0.5V1135.5h0.5V1143.6h0.5V1135.5h1V1143.6h1V1135.5h2V1127.4h0.5V1143.6h2V1135.5h0.5V1143.6h1V1135.5h1V1143.6h0.5V1135.5h0.5V1143.6h1.5V1135.5h2V1143.6h0.5V1135.5h1V1143.6h0.5V1135.5h1.5V1143.6h0.5V1135.5h0.5V1143.6h1V1135.5h1V1143.6h0.5V1151.7h0.5V1135.5h1V1143.6h0.5V1135.5h0.5V1143.6h1V1135.5h0.5V1143.6h0.5V1135.5h0.5V1151.7h0.5V1143.6h1.5V1135.5h1V1143.6h0.5V1135.5h0.5V1143.6h0.5V1135.5h1.5V1143.6h0.5V1135.5h0.5V1143.6h0.5V1135.5h1.5V1143.6h0.5V1151.7h0.5V1143.6h1.5V1135.5h0.5V1143.6h2.5V1135.5h3V1143.6h0.5V1135.5h1V1143.6h1.5V1135.5h0.5V1143.6h2V1135.5h0.5V1143.6h1V1135.5h0.5V1143.6h0.5V1135.5h0.5V1143.6h0.5V1135.5h1V1143.6h1V1135.5h0.5V1143.6h0.5V1135.5h1V1143.6h1V1135.5h1V1143.6h1V1135.5h1V1143.6h2V1135.5h0.5V1143.6h0.5V1135.5h0.5V1143.6h1V1135.5h0.5V1143.6h0.5V1135.5h0.5V1143.6h0.5V1135.5h0.5V1143.6h1.5V1135.5h1.5V1143.6h1V1135.5h1V1143.6h0.5V1135.5h1V1143.6h0.5V1135.5h0.5V1143.6h1V1135.5h0.5V1143.6h0.5V1135.5h1V1127.4h1V1135.5h0.5V1127.4h0.5V1135.5h0.5V1127.4h1V1135.5h0.5V1127.4h0.5V1135.5h1V1127.4h0.5V1135.5h1V1127.4h0.5V1135.5h0.5V1127.4h0.5V1135.5h3.5V1127.4h2V1135.5h1V1127.4h1V1135.5h0.5V1127.4h1V1135.5h0.5V1127.4h0.5V1135.5h1V1127.4h0.5V1135.5h0.5V1127.4h0.5V1135.5h1.5V1127.4h1.5V1135.5h0.5V1127.4h1.5V1135.5h0.5V1127.4h1V1135.5h1V1127.4h0.5V1135.5h2V1127.4h3V1135.5h1V1127.4h0.5V1135.5h1V1127.4h0.5V1135.5h1V1127.4h1V1135.5h0.5V1127.4h0.5V1135.5h0.5V1127.4h1V1135.5h1.5V1127.4h2V1135.5h1V1127.4h1V1135.5h0.5V1127.4h0.5V1135.5h0.5V1127.4h1V1135.5h1V1127.4h1V1135.5h1.5V1127.4h0.5V1135.5h1.5V1127.4h1V1135.5h1V1127.4h0.5V1135.5h0.5V1127.4h0.5V1135.5h1.5V1127.4h0.5V1135.5h0.5V1127.4h0.5V1135.5h0.5V1127.4h4.5V1135.5h0.5V1127.4h0.5V1135.5h0.5V1127.4h1.5V1119.3h0.5V1127.4h2.5V1119.3h0.5V1127.4h5V1119.3h0.5V1127.4h6V1119.3h0.5V1127.4h6V1119.3h0.5V1127.4h2.5V1119.3h0.5V1127.4h6V1119.3h0.5V1127.4h9V1119.3h0.5V1127.4h0.5V1119.3h1V1127.4h0.5V1119.3h0.5V1127.4h2V1119.3h0.5V1127.4h2V1119.3h0.5V1127.4h0.5V1119.3h0.5V1127.4h0.5V1119.3h0.5V1127.4h3.5V1119.3h0.5V1127.4h1.5V1119.3h0.5V1127.4h1V1119.3h0.5V1127.4h4V1119.3h0.5V1127.4h0.5V1119.3h0.5V1127.4h1V1119.3h1.5V1127.4h1V1119.3h1V1127.4h1V1119.3h1V1127.4h1V1119.3h1V1127.4h0.5V1119.3h0.5V1127.4h0.5V1119.3h0.5V1127.4h1.5V1119.3h0.5V1127.4h1V1119.3h1V1127.4h0.5V1119.3h0.5V1127.4h1V1119.3h0.5V1127.4h0.5V1119.3h1.5V1127.4h0.5V1119.3h1V1127.4h0.5V1119.3h0.5V1127.4h2V1119.3h1.5V1127.4h0.5V1119.3h0.5V1127.4h0.5V1119.3h0.5V1127.4h2V1119.3h3V1127.4h1V1119.3h0.5V1127.4h1V1119.3h0.5V1127.4h2V1119.3h3.5V1127.4h0.5V1119.3h0.5V1127.4h0.5V1119.3h0.5V1127.4h1V1119.3h1V1127.4h0.5V1119.3h1.5V1127.4h0.5V1119.3h0.5V1127.4h1V1111.2h1V1127.4h0.5V1119.3h2V1111.2h0.5V1119.3h0.5V1127.4h0.5V1119.3h1V1127.4h1V1119.3h0.5V1111.2h0.5V1127.4h0.5V1119.3h0.5V1111.2h0.5V1119.3h1V1111.2h0.5V1119.3h1.5V1111.2h1V1119.3h1V1127.4h1.5V1119.3h0.5V1111.2h1V1119.3h0.5V1127.4h1.5V1111.2h0.5V1119.3h0.5V1127.4h0.5V1119.3h0.5V1111.2h0.5V1119.3h1V1111.2h1V1119.3h1V1111.2h0.5V1119.3h2V1111.2h0.5V1103.1h0.5V1119.3h1V1111.2h0.5V1119.3h0.5V1111.2h1V1119.3h1V1111.2h0.5V1119.3h2V1111.2h0.5V1119.3h0.5V1111.2h1.5V1119.3h1V1111.2h0.5V1119.3h0.5V1111.2h0.5V1119.3h0.5V1111.2h0.5V1119.3h0.5V1111.2h1.5V1119.3h0.5V1111.2h0.5V1119.3h1V1111.2h1V1119.3h1V1111.2h0.5V1119.3h1V1111.2h0.5V1119.3h0.5V1111.2h1V1119.3h0.5V1111.2h0.5V1119.3h0.5V1111.2h0.5V1119.3h2.5V1111.2h0.5V1119.3h1V1111.2h0.5V1119.3h1V1111.2h1V1119.3h0.5V1111.2h1V1119.3h1V1111.2h0.5V1119.3h0.5V1111.2h0.5V1119.3h0.5V1111.2h0.5V1119.3h0.5V1111.2h0.5V1119.3h0.5V1111.2h3V1119.3h1V1111.2h0.5V1119.3h0.5V1111.2h1V1119.3h1.5V1111.2h0.5V1119.3h1V1111.2h0.5V1119.3h0.5V1111.2h0.5V1119.3h1.5V1111.2h1.5V1119.3h0.5V1111.2h2.5V1119.3h1.5V1111.2h0.5V1119.3h0.5V1111.2h1V1119.3h0.5V1111.2h1V1119.3h0.5V1111.2h1.5V1103.1h0.5V1111.2h1V1103.1h0.5V1111.2h0.5V1103.1h0.5V1111.2h0.5V1103.1h2.5V1095h0.5V1111.2h0.5V1103.1h0.5V1111.2h0.5V1103.1h1.5V1111.2h0.5V1103.1h0.5V1111.2h2.5V1103.1h1.5V1111.2h0.5V1103.1h3.5V1111.2h1V1103.1h1.5V1111.2h0.5V1103.1h1V1111.2h1V1103.1h1.5V1111.2h0.5V1103.1h1V1111.2h0.5V1103.1h0.5V1111.2h0.5V1103.1h2V1111.2h0.5V1103.1h0.5V1111.2h0.5V1103.1h0.5V1111.2h0.5V1103.1h0.5V1111.2h0.5V1103.1h0.5V1111.2h0.5V1103.1h0.5V1111.2h1.5V1103.1h0.5V1111.2h0.5V1103.1h0.5V1111.2h0.5V1103.1h1V1111.2h1V1103.1h2V1111.2h0.5V1103.1h2V1111.2h1.5V1103.1h2.5V1111.2h1.5V1103.1h1V1111.2h2.5V1103.1h0.5V1111.2h0.5V1103.1h0.5V1111.2h0.5V1103.1h1V1111.2h0.5V1095h0.5V1103.1h2V1111.2h1.5V1103.1h0.5V1111.2h0.5V1095h0.5V1111.2h0.5V1103.1h0.5V1111.2h1.5V1103.1h1.5V1111.2h0.5V1103.1h1.5V1111.2h0.5V1103.1h1.5V1111.2h1V1103.1h0.5V1111.2h2V1103.1h0.5V1111.2h0.5V1103.1h1V1111.2h0.5V1103.1h1V1111.2h0.5V1103.1h0.5V1111.2h0.5V1095h0.5V1103.1h3V1095h1V1103.1h0.5V1095h0.5V1103.1h0.5V1095h1.5V1103.1h1.5V1095h0.5V1103.1h0.5V1095h0.5V1103.1h1V1095h1.5V1103.1h1V1095h1V1103.1h1V1095h0.5V1103.1h2.5V1095h0.5V1103.1h1.5V1095h2.5V1103.1h1.5V1095h1V1103.1h1V1095h0.5V1103.1h1V1095h1.5V1103.1h0.5V1095h0.5V1103.1h1.5V1095h1V1103.1h0.5V1095h2V1103.1h0.5V1095h0.5V1103.1h0.5V1095h0.5V1103.1h0.5V1095h1.5V1103.1h0.5V1095h0.5V1103.1h0.5V1095h2V1103.1h1.5V1095h0.5V1103.1h1.5V1095h0.5V1103.1h0.5V1095h0.5V1103.1h1.5V1095h3.5V1103.1h0.5V1095h1V1103.1h0.5V1095h1V1103.1h1V1095h0.5V1103.1h2.5V1095h1.5V1103.1h2V1095h1V1103.1h0.5V1095h1.5V1103.1h1.5V1095h0.5V1086.9h4V1095h3V1103.1h0.5V1086.9h0.5V1103.1h0.5V1095h0.5V1086.9h1.5V1095h1.5V1086.9h1V1095h1V1086.9h2.5V1095h0.5V1086.9h2V1095h0.5V1086.9h1.5V1095h0.5V1086.9h1V1095h1V1086.9h2V1095h1V1086.9h0.5V1095h1.5V1086.9h1V1095h0.5V1086.9h0.5V1095h0.5V1086.9h1.5V1095h2.5V1086.9h0.5V1095h0.5V1086.9h1V1095h1V1086.9h0.5V1095h0.5V1086.9h2V1095h0.5V1086.9h0.5V1095h2V1086.9h1V1095h0.5V1086.9h0.5V1095h0.5V1086.9h0.5V1103.1h0.5V1095h1.5V1086.9h2V1095h1.5V1086.9h0.5V1095h1V1086.9h0.5V1095h0.5V1086.9h1.5V1095h2V1086.9h0.5V1095h0.5V1086.9h0.5V1095h0.5V1086.9h2.5V1095h1.5V1086.9h2V1095h0.5V1086.9h1V1095h0.5V1086.9h1.5V1095h0.5V1086.9h1V1095h2V1086.9h1V1095h0.5V1086.9h0.5V1095h1.5V1086.9h1V1095h0.5V1086.9h1V1095h0.5V1086.9h0.5V1095h0.5V1086.9h0.5V1103.1h0.5V1095h0.5V1086.9h0.5V1095h0.5V1086.9h0.5V1095h1.5V1086.9h1.5V1095h0.5V1103.1h0.5V1095h0.5V1086.9h2.5V1095h1.5V1086.9h1V1095h1.5V1086.9h1.5V1095h0.5V1086.9h0.5V1095h0.5V1086.9h0.5V1095h0.5V1078.8h0.5V1086.9h0.5V1095h0.5V1086.9h0.5V1095h0.5V1078.8h0.5V1086.9h2.5V1078.8h0.5V1086.9h0.5V1095h0.5V1078.8h0.5V1086.9h0.5V1078.8h0.5V1095h0.5V1086.9h0.5V1095h0.5V1086.9h0.5V1095h1V1086.9h1V1095h0.5V1086.9h0.5V1095h0.5V1078.8h0.5V1086.9h0.5V1095h0.5V1086.9h0.5V1095h0.5V1078.8h0.5V1086.9h0.5V1078.8h1V1095h0.5V1086.9h0.5V1078.8h1V1086.9h0.5V1095h0.5V1086.9h2V1095h1V1086.9h2V1078.8h0.5V1086.9h1V1095h0.5V1086.9h0.5V1095h1V1086.9h0.5V1095h0.5V1086.9h2V1078.8h1V1095h1.5V1078.8h0.5V1095h1.5V1078.8h0.5V1086.9h1V1095h0.5V1086.9h1.5V1078.8h0.5V1086.9h2V1095h0.5V1086.9h1.5V1078.8h0.5V1086.9h0.5V1095h0.5V1086.9h1.5V1095h0.5V1086.9h3V1095h0.5V1086.9h1V1095h0.5V1086.9h1V1078.8h0.5V1086.9h1V1078.8h0.5V1086.9h1.5V1095h0.5V1078.8h0.5V1095h0.5V1086.9h1V1095h0.5V1086.9h1V1095h0.5V1086.9h0.5V1095h0.5V1078.8h0.5V1095h0.5V1086.9h1.5V1078.8h0.5V1086.9h2V1078.8h1.5V1086.9h0.5V1078.8h1V1086.9h0.5V1078.8h1.5V1086.9h0.5V1078.8h0.5V1086.9h1V1078.8h0.5V1086.9h0.5V1078.8h0.5V1086.9h0.5V1078.8h0.5V1086.9h1V1078.8h1V1072.6h0.5V1086.9h0.5V1078.8h0.5V1086.9h1.5V1078.8h2V1086.9h1.5V1078.8h0.5V1086.9h1V1078.8h1V1086.9h0.5V1078.8h0.5V1086.9h0.5V1078.8h0.5V1086.9h4V1078.8h0.5V1086.9h1V1078.8h1V1086.9h0.5V1078.8h0.5V1086.9h1.5V1078.8h0.5V1086.9h2V1078.8h1.5V1086.9h0.5V1078.8h1.5V1072.6h0.5V1086.9h0.5V1078.8h3.5V1086.9h2V1078.8h3.5V1086.9h1V1078.8h0.5V1086.9h0.5V1078.8h0.5V1072.6h0.5V1078.8h0.5V1086.9h1V1078.8h2.5V1086.9h0.5V1078.8h1V1086.9h1.5V1078.8h0.5V1086.9h2V1078.8h2.5V1086.9h0.5V1078.8h2.5V1086.9h3V1078.8h1.5V1086.9h1V1078.8h0.5V1086.9h0.5V1072.6h0.5V1078.8h0.5V1086.9h1V1072.6h0.5V1078.8h1.5V1072.6h0.5V1086.9h0.5V1072.6h0.5V1078.8h0.5V1072.6h0.5V1078.8h0.5V1086.9h1.5V1072.6h0.5V1078.8h0.5V1072.6h0.5V1078.8h0.5V1072.6h0.5V1078.8h1V1086.9h0.5V1078.8h0.5V1086.9h0.5V1072.6h0.5V1086.9" fill="none" stroke="#ffff00" stroke-width="1.25" stroke-linejoin="miter"/>
<rect x="165.5" y="1072.5" width="989" height="161" fill="none" stroke="#262626" stroke-width="1"/><rect x="209" y="1072" width="1" height="10" fill="#262626"/><rect x="209" y="1224" width="1" height="10" fill="#262626"/><rect x="704" y="1072" width="1" height="10" fill="#262626"/><rect x="704" y="1224" width="1" height="10" fill="#262626"/><rect x="165" y="1078" width="10.5" height="1" fill="#262626"/><rect x="1144.5" y="1078" width="10.5" height="1" fill="#262626"/><rect x="165" y="1142" width="10.5" height="1" fill="#262626"/><rect x="1144.5" y="1142" width="10.5" height="1" fill="#262626"/><rect x="165" y="1206" width="10.5" height="1" fill="#262626"/><rect x="1144.5" y="1206" width="10.5" height="1" fill="#262626"/>
<text x="155.5" y="1085.3" font-size="21.2" text-anchor="end" textLength="12.2" lengthAdjust="spacingAndGlyphs">4</text>
<text x="155.5" y="1149.1" font-size="21.2" text-anchor="end" textLength="12.2" lengthAdjust="spacingAndGlyphs">2</text>
<text x="155.5" y="1213.3" font-size="21.2" text-anchor="end" textLength="12.2" lengthAdjust="spacingAndGlyphs">0</text>
<text x="105.2" y="1220.6" font-size="20" font-weight="bold" stroke="#262626" stroke-width="0.3" textLength="135.7" lengthAdjust="spacingAndGlyphs" transform="rotate(-90 105.2 1220.6)">Temperature</text>
<text x="129.4" y="1171.6" font-size="20" font-weight="bold" stroke="#262626" stroke-width="0.3" textLength="37.6" lengthAdjust="spacingAndGlyphs" transform="rotate(-90 129.4 1171.6)">(&#176;C)</text>
<text x="1170" y="1174" font-size="14.6" font-weight="bold" stroke="#000" stroke-width="0.3" textLength="106.7" lengthAdjust="spacingAndGlyphs" transform="rotate(-90 1170 1174)" fill="#000">Inboard EBox</text>
<text x="1181.8" y="1190.9" font-size="14.6" font-weight="bold" stroke="#000" stroke-width="0.3" textLength="124.2" lengthAdjust="spacingAndGlyphs" transform="rotate(-90 1181.8 1190.9)" fill="#000">Inboard Sensor</text>
<text x="1193.6" y="1190.9" font-size="14.6" font-weight="bold" stroke="#000" stroke-width="0.3" textLength="121.9" lengthAdjust="spacingAndGlyphs" transform="rotate(-90 1193.6 1190.9)" fill="#000">Outboard EBox</text>
<text x="1205.2" y="1212" font-size="14.6" font-weight="bold" stroke="#000" stroke-width="0.3" textLength="139.3" lengthAdjust="spacingAndGlyphs" transform="rotate(-90 1205.2 1212)" fill="#000">Outboard Sensor</text>
<rect x="1167" y="1234.5" width="2" height="14.5" fill="#0000ff"/>
<rect x="1179" y="1234.5" width="2" height="14.5" fill="#00ffff"/>
<rect x="1190.8" y="1234.5" width="2" height="14.5" fill="#00ff00"/>
<rect x="1202" y="1234.5" width="2" height="14.5" fill="#ffff00"/>
<rect x="412.4" y="1308" width="1" height="161" fill="#dfdfdf"/><rect x="659.7" y="1308" width="1" height="161" fill="#dfdfdf"/><rect x="907" y="1308" width="1" height="161" fill="#dfdfdf"/><rect x="165" y="1388" width="990" height="1" fill="#dfdfdf"/>
<path d="M165.5 1420 L167.8 1427.3 H1154.5" fill="none" stroke="#0000ff" stroke-width="1.3"/><path d="M165.8 1440 L166.6 1394 L168.2 1384.4 H1154.5" fill="none" stroke="#00ffff" stroke-width="1.3"/><path d="M168 1399.8h0.5V1395.6h1V1399.8h1V1395.6h1V1392.3h1V1399.8h1.5V1395.6h0.5V1399.8h0.5V1395.6h0.5V1399.8h1.5V1395.6h2V1399.8h2V1395.6h0.5V1399.8h1V1395.6h0.5V1399.8h0.5V1395.6h0.5V1399.8h0.5V1395.6h0.5V1399.8h2V1395.6h0.5V1399.8h0.5V1395.6h0.5V1399.8h0.5V1395.6h3V1399.8h1V1395.6h0.5V1399.8h0.5V1395.6h1V1399.8h2V1395.6h0.5V1399.8h1.5V1395.6h1V1399.8h1V1395.6h1V1399.8h0.5V1395.6h1.5V1399.8h1.5V1395.6h0.5V1399.8h0.5V1395.6h0.5V1399.8h1.5V1395.6h1V1399.8h0.5V1395.6h2V1399.8h0.5V1395.6h2V1399.8h1.5V1395.6h0.5V1399.8h1V1395.6h1V1399.8h0.5V1395.6h0.5V1399.8h3.5V1395.6h1.5V1399.8h1V1395.6h0.5V1392.3h0.5V1395.6h0.5V1399.8h1V1395.6h2V1399.8h0.5V1395.6h1V1399.8h0.5V1395.6h0.5V1399.8h0.5V1395.6h0.5V1399.8h0.5V1395.6h1V1399.8h0.5V1395.6h2V1399.8h1V1395.6h1V1399.8h3V1395.6h1V1399.8h0.5V1395.6h0.5V1399.8h3V1395.6h1V1399.8h0.5V1395.6h2V1399.8h1.5V1395.6h0.5V1399.8h0.5V1395.6h0.5V1399.8h0.5V1395.6h0.5V1399.8h2V1395.6h0.5V1399.8h0.5V1392.3h0.5V1395.6h1V1399.8h0.5V1395.6h0.5V1392.3h0.5V1395.6h1V1399.8h0.5V1395.6h0.5V1392.3h0.5V1395.6h0.5V1399.8h0.5V1395.6h1V1399.8h1V1395.6h0.5V1399.8h1.5V1395.6h1V1399.8h0.5V1395.6h0.5V1399.8h0.5V1395.6h0.5V1399.8h0.5V1392.3h0.5V1399.8h3V1395.6h1.5V1399.8h2V1395.6h1V1399.8h1.5V1395.6h4.5V1399.8h0.5V1395.6h0.5V1399.8h0.5V1395.6h2V1399.8h2.5V1395.6h0.5V1399.8h1V1395.6h1V1399.8h1V1395.6h1V1399.8h1V1395.6h1V1399.8h0.5V1395.6h0.5V1399.8h1V1395.6h0.5V1399.8h0.5V1395.6h0.5V1399.8h0.5V1395.6h0.5V1399.8h1V1395.6h0.5V1399.8h1V1395.6h0.5V1399.8h2.5V1395.6h0.5V1399.8h0.5V1395.6h1.5V1399.8h0.5V1392.3h0.5V1399.8h0.5V1395.6h1V1399.8h1V1395.6h0.5V1399.8h1.5V1395.6h0.5V1399.8h1V1395.6h1V1392.3h0.5V1399.8h1.5V1395.6h0.5V1399.8h0.5V1395.6h2V1399.8h0.5V1395.6h0.5V1399.8h0.5V1395.6h1.5V1399.8h1V1395.6h1.5V1399.8h0.5V1395.6h0.5V1399.8h2V1395.6h1V1399.8h1V1392.3h0.5V1395.6h0.5V1399.8h2.5V1395.6h1V1399.8h1V1395.6h1V1399.8h0.5V1395.6h1V1392.3h0.5V1399.8h0.5V1395.6h0.5V1399.8h1.5V1395.6h1V1399.8h0.5V1395.6h0.5V1399.8h1V1395.6h2V1399.8h0.5V1395.6h2.5V1399.8h0.5V1395.6h1.5V1399.8h1V1395.6h2V1399.8h0.5V1395.6h1.5V1399.8h0.5V1395.6h2.5V1399.8h2V1395.6h1V1399.8h2V1395.6h0.5V1399.8h0.5V1395.6h0.5V1399.8h1V1395.6h0.5V1392.3h0.5V1395.6h0.5V1392.3h0.5V1399.8h1.5V1395.6h2V1399.8h2.5V1395.6h0.5V1399.8h1V1395.6h3V1399.8h1.5V1395.6h2V1399.8h1V1395.6h1V1399.8h1.5V1395.6h0.5V1399.8h1.5V1395.6h2.5V1399.8h1V1395.6h1.5V1399.8h0.5V1395.6h1V1399.8h1V1395.6h0.5V1399.8h0.5V1395.6h0.5V1399.8h0.5V1395.6h0.5V1399.8h2V1395.6h0.5V1399.8h0.5V1395.6h0.5V1399.8h0.5V1395.6h0.5V1399.8h2V1395.6h0.5V1399.8h1V1395.6h1V1399.8h0.5V1395.6h1V1399.8h0.5V1392.3h0.5V1395.6h0.5V1399.8h0.5V1395.6h1V1399.8h1V1395.6h1V1399.8h0.5V1392.3h0.5V1399.8h0.5V1395.6h0.5V1399.8h0.5V1395.6h0.5V1399.8h1V1395.6h1V1399.8h1.5V1395.6h0.5V1399.8h3V1395.6h1V1399.8h1V1395.6h0.5V1399.8h1V1395.6h0.5V1399.8h0.5V1395.6h1V1399.8h1V1395.6h0.5V1399.8h1V1395.6h1V1392.3h0.5V1395.6h0.5V1399.8h1.5V1395.6h0.5V1399.8h0.5V1395.6h0.5V1399.8h1V1395.6h1.5V1399.8h0.5V1395.6h0.5V1399.8h0.5V1395.6h2V1399.8h1V1395.6h1V1399.8h0.5V1395.6h0.5V1399.8h2V1395.6h1V1399.8h1.5V1395.6h0.5V1399.8h1.5V1395.6h0.5V1399.8h0.5V1395.6h1V1399.8h0.5V1395.6h0.5V1399.8h3V1395.6h0.5V1399.8h2V1395.6h0.5V1399.8h0.5V1395.6h0.5V1399.8h0.5V1395.6h0.5V1399.8h0.5V1395.6h0.5V1392.3h0.5V1399.8h1V1395.6h1.5V1399.8h1V1395.6h1V1399.8h0.5V1395.6h2.5V1399.8h0.5V1395.6h0.5V1399.8h1V1395.6h0.5V1399.8h1V1395.6h0.5V1399.8h1V1395.6h4V1399.8h0.5V1395.6h0.5V1392.3h0.5V1395.6h1V1399.8h0.5V1395.6h0.5V1399.8h3.5V1395.6h0.5V1399.8h0.5V1395.6h0.5V1399.8h0.5V1392.3h0.5V1399.8h1V1395.6h0.5V1399.8h1V1395.6h0.5V1399.8h1V1395.6h1.5V1399.8h0.5V1395.6h0.5V1399.8h0.5V1395.6h1V1399.8h1V1395.6h0.5V1399.8h0.5V1395.6h1V1399.8h0.5V1395.6h0.5V1399.8h3V1395.6h0.5V1399.8h0.5V1395.6h2.5V1399.8h0.5V1395.6h0.5V1399.8h0.5V1395.6h0.5V1399.8h2V1395.6h2V1399.8h2V1395.6h1V1399.8h0.5V1395.6h1V1399.8h0.5V1395.6h1V1399.8h0.5V1395.6h2V1399.8h0.5V1395.6h0.5V1399.8h0.5V1395.6h0.5V1399.8h0.5V1395.6h0.5V1399.8h0.5V1395.6h1V1399.8h1.5V1395.6h1V1399.8h0.5V1395.6h1V1399.8h0.5V1395.6h0.5V1399.8h0.5V1395.6h0.5V1399.8h1V1395.6h0.5V1399.8h1V1395.6h0.5V1399.8h1V1395.6h0.5V1399.8h2.5V1395.6h0.5V1399.8h0.5V1395.6h0.5V1399.8h3V1395.6h1V1399.8h0.5V1395.6h1V1399.8h0.5V1395.6h3V1399.8h0.5V1395.6h1V1392.3h0.5V1395.6h0.5V1399.8h0.5V1395.6h0.5V1399.8h0.5V1395.6h0.5V1399.8h0.5V1395.6h0.5V1399.8h1V1395.6h1.5V1399.8h1V1395.6h0.5V1399.8h0.5V1395.6h1V1392.3h0.5V1395.6h1.5V1399.8h1.5V1395.6h1V1399.8h0.5V1395.6h0.5V1399.8h2.5V1395.6h2.5V1399.8h0.5V1395.6h1V1399.8h3V1395.6h1V1399.8h1.5V1395.6h0.5V1399.8h0.5V1395.6h0.5V1399.8h0.5V1395.6h1.5V1399.8h0.5V1395.6h1V1399.8h0.5V1395.6h1V1399.8h1V1395.6h0.5V1399.8h2V1395.6h1V1399.8h1V1395.6h0.5V1399.8h0.5V1395.6h0.5V1399.8h0.5V1392.3h0.5V1399.8h2.5V1395.6h1.5V1399.8h1V1395.6h0.5V1399.8h0.5V1395.6h1V1392.3h0.5V1399.8h3V1395.6h2.5V1399.8h0.5V1395.6h0.5V1399.8h0.5V1395.6h1V1399.8h1.5V1395.6h0.5V1399.8h0.5V1395.6h1.5V1399.8h1V1395.6h1V1399.8h1V1395.6h1V1399.8h1V1395.6h0.5V1399.8h1V1395.6h1.5V1399.8h0.5V1395.6h1V1399.8h1.5V1395.6h0.5V1399.8h0.5V1395.6h1V1399.8h0.5V1395.6h0.5V1392.3h0.5V1395.6h0.5V1392.3h0.5V1399.8h0.5V1395.6h1V1399.8h0.5V1395.6h0.5V1399.8h0.5V1395.6h1V1399.8h3V1395.6h0.5V1399.8h0.5V1395.6h2.5V1399.8h1V1395.6h0.5V1399.8h0.5V1395.6h2V1399.8h3V1395.6h0.5V1399.8h0.5V1395.6h0.5V1399.8h0.5V1395.6h1.5V1399.8h0.5V1395.6h2V1399.8h0.5V1395.6h0.5V1399.8h0.5V1395.6h0.5V1399.8h0.5V1395.6h0.5V1399.8h0.5V1395.6h0.5V1399.8h1.5V1395.6h0.5V1399.8h0.5V1392.3h0.5V1395.6h1V1399.8h0.5V1395.6h1.5V1399.8h1V1395.6h0.5V1399.8h1V1395.6h1V1399.8h0.5V1395.6h0.5V1399.8h1.5V1395.6h1.5V1399.8h0.5V1395.6h0.5V1399.8h1V1395.6h0.5V1399.8h1.5V1395.6h1V1399.8h0.5V1395.6h1V1399.8h0.5V1395.6h1V1399.8h0.5V1395.6h0.5V1399.8h1.5V1395.6h0.5V1399.8h1.5V1395.6h0.5V1399.8h0.5V1395.6h0.5V1399.8h0.5V1395.6h1V1399.8h0.5V1392.3h0.5V1395.6h1V1399.8h0.5V1395.6h0.5V1399.8h1.5V1395.6h1.5V1399.8h0.5V1395.6h0.5V1399.8h0.5V1392.3h0.5V1395.6h0.5V1392.3h0.5V1399.8h0.5V1395.6h0.5V1399.8h0.5V1395.6h0.5V1392.3h0.5V1399.8h1V1395.6h1V1399.8h1V1395.6h0.5V1399.8h2V1395.6h0.5V1399.8h1V1395.6h0.5V1399.8h1V1395.6h0.5V1399.8h0.5V1395.6h0.5V1399.8h0.5V1395.6h0.5V1392.3h0.5V1395.6h1.5V1399.8h0.5V1395.6h0.5V1399.8h1V1395.6h3V1399.8h0.5V1395.6h0.5V1399.8h1V1395.6h1V1392.3h0.5V1395.6h0.5V1399.8h0.5V1395.6h1.5V1399.8h0.5V1395.6h0.5V1399.8h1.5V1395.6h0.5V1399.8h0.5V1395.6h0.5V1399.8h1V1395.6h1V1399.8h0.5V1395.6h0.5V1399.8h0.5V1395.6h0.5V1399.8h1.5V1395.6h0.5V1399.8h0.5V1395.6h0.5V1399.8h0.5V1395.6h1V1399.8h0.5V1395.6h2.5V1399.8h0.5V1395.6h0.5V1399.8h0.5V1395.6h2V1399.8h2V1395.6h0.5V1399.8h0.5V1395.6h0.5V1399.8h1V1395.6h0.5V1399.8h0.5V1395.6h0.5V1399.8h0.5V1395.6h1V1399.8h1V1395.6h1V1399.8h0.5V1395.6h1V1399.8h0.5V1395.6h0.5V1399.8h1V1395.6h1.5V1399.8h0.5V1395.6h0.5V1399.8h0.5V1395.6h0.5V1399.8h0.5V1395.6h2V1399.8h2.5V1395.6h0.5V1399.8h0.5V1395.6h1V1399.8h1.5V1395.6h0.5V1399.8h0.5V1395.6h0.5V1399.8h2.5V1395.6h0.5V1399.8h1V1395.6h0.5V1399.8h3V1395.6h0.5V1399.8h1V1395.6h0.5V1399.8h0.5V1395.6h0.5V1399.8h0.5V1395.6h3V1399.8h0.5V1395.6h0.5V1399.8h1.5V1395.6h1.5V1399.8h1.5V1395.6h1V1399.8h1V1395.6h0.5V1399.8h2V1395.6h0.5V1392.3h0.5V1395.6h1V1399.8h1V1395.6h1V1399.8h1V1395.6h2.5V1399.8h1V1395.6h0.5V1399.8h0.5V1392.3h0.5V1399.8h0.5V1395.6h0.5V1399.8h1.5V1395.6h1V1399.8h0.5V1395.6h0.5V1399.8h0.5V1395.6h1.5V1399.8h1V1395.6h1V1399.8h0.5V1395.6h0.5V1399.8h2V1392.3h0.5V1395.6h1.5V1399.8h1V1395.6h0.5V1399.8h1V1395.6h0.5V1399.8h0.5V1395.6h1V1399.8h1.5V1395.6h1V1399.8h1V1395.6h0.5V1399.8h0.5V1395.6h1V1399.8h1V1395.6h1.5V1399.8h1V1392.3h0.5V1399.8h1.5V1392.3h0.5V1399.8h3V1395.6h0.5V1399.8h0.5V1395.6h0.5V1399.8h0.5V1395.6h0.5V1399.8h0.5V1395.6h1V1399.8h1V1395.6h0.5V1399.8h0.5V1395.6h2.5V1399.8h2.5V1395.6h0.5V1399.8h0.5V1395.6h0.5V1399.8h0.5V1395.6h0.5V1399.8h0.5V1392.3h0.5V1399.8h0.5V1395.6h0.5V1399.8h0.5V1395.6h0.5V1399.8h0.5V1395.6h0.5V1399.8h0.5V1395.6h1V1399.8h0.5V1395.6h1V1399.8h1.5V1395.6h0.5V1399.8h0.5V1395.6h1V1399.8h0.5V1395.6h0.5V1399.8h1V1392.3h0.5V1399.8h0.5V1395.6h0.5V1392.3h0.5V1399.8h0.5V1395.6h0.5V1399.8h0.5V1395.6h0.5V1399.8h0.5V1395.6h1V1399.8h1V1395.6h3.5V1399.8h0.5V1395.6h0.5V1399.8h0.5V1395.6h2.5V1399.8h3V1395.6h0.5V1399.8h0.5V1395.6h1.5V1399.8h1.5V1395.6h1V1399.8h1V1395.6h0.5V1399.8h0.5V1395.6h0.5V1399.8h0.5V1395.6h0.5V1399.8h0.5V1395.6h1.5V1399.8h1V1395.6h0.5V1399.8h1V1395.6h1.5V1399.8h1.5V1395.6h0.5V1399.8h2V1395.6h0.5V1399.8h1.5V1395.6h0.5V1399.8h1V1395.6h1V1399.8h1.5V1395.6h0.5V1399.8h1V1395.6h1V1399.8h1V1395.6h0.5V1399.8h1.5V1395.6h0.5V1399.8h1V1395.6h0.5V1399.8h1V1395.6h1V1399.8h0.5V1395.6h2V1399.8h1V1392.3h0.5V1399.8h0.5V1395.6h0.5V1399.8h0.5V1395.6h1V1399.8h0.5V1395.6h0.5V1399.8h1V1395.6h0.5V1399.8h1V1395.6h0.5V1399.8h0.5V1395.6h0.5V1399.8h0.5V1395.6h0.5V1399.8h0.5V1395.6h1.5V1399.8h0.5V1395.6h1.5V1399.8h1V1395.6h0.5V1399.8h1V1395.6h1V1399.8h0.5V1395.6h1.5V1399.8h1V1395.6h1V1399.8h1V1395.6h0.5V1399.8h1.5V1395.6h0.5V1399.8h0.5V1395.6h0.5V1399.8h0.5V1395.6h1V1399.8h0.5V1395.6h1V1399.8h0.5V1395.6h0.5V1399.8h0.5V1392.3h0.5V1395.6h0.5V1399.8h1.5V1395.6h0.5V1399.8h0.5V1395.6h1.5V1399.8h1V1395.6h0.5V1399.8h1V1395.6h1V1399.8h2V1395.6h0.5V1399.8h0.5V1395.6h0.5V1399.8h1V1395.6h1.5V1399.8h1.5V1395.6h1V1399.8h2.5V1395.6h1.5V1399.8h1V1395.6h0.5V1399.8h0.5V1395.6h1V1399.8h1V1395.6h0.5V1399.8h0.5V1395.6h0.5V1399.8h1V1395.6h0.5V1399.8h0.5V1395.6h1.5V1399.8h1V1395.6h0.5V1399.8h0.5V1395.6h0.5V1399.8h0.5V1395.6h2V1399.8h0.5V1395.6h1.5V1392.3h0.5V1399.8h1V1395.6h2.5V1399.8h0.5V1395.6h1V1399.8h1V1395.6h1V1399.8h0.5V1395.6h1V1399.8h0.5V1395.6h2.5V1399.8h0.5V1395.6h3V1399.8h2V1395.6h2V1399.8h0.5V1395.6h0.5V1399.8h2.5V1392.3h0.5V1399.8h2V1395.6h0.5V1399.8h0.5V1395.6h2V1392.3h0.5V1399.8h2V1395.6h0.5V1399.8h1.5V1395.6h1.5V1399.8h0.5V1395.6h2.5V1399.8h0.5V1395.6h0.5V1399.8h0.5V1395.6h1V1399.8h0.5V1395.6h1V1399.8h1V1395.6h1.5V1399.8h2V1395.6h0.5V1399.8h1V1395.6h1.5V1399.8h1.5V1395.6h0.5V1399.8h1V1395.6h2.5V1392.3h0.5V1399.8h0.5V1395.6h0.5V1399.8h1.5V1395.6h1V1399.8h1.5V1395.6h0.5V1399.8h0.5V1395.6h2.5V1392.3h0.5V1399.8h0.5V1392.3h0.5V1399.8h1V1395.6h0.5V1399.8h3V1395.6h2V1399.8h0.5V1395.6h0.5V1399.8h2.5V1395.6h0.5V1399.8h0.5V1395.6h1.5V1399.8h0.5V1395.6h0.5V1399.8h0.5V1392.3h0.5V1399.8h0.5V1395.6h0.5V1399.8h1V1395.6h0.5V1392.3h0.5V1395.6h0.5V1399.8h1V1395.6h1V1399.8h1.5V1395.6h0.5V1399.8h2V1395.6h0.5V1399.8h0.5V1395.6h2V1399.8h1V1395.6h0.5V1399.8h0.5V1395.6h0.5V1399.8h1V1395.6h1V1399.8h1.5V1395.6h0.5V1399.8h0.5V1395.6h2V1399.8h0.5V1395.6h0.5V1399.8h3V1395.6h1V1399.8h0.5V1395.6h0.5V1399.8h0.5V1395.6h0.5V1399.8h0.5V1395.6h1V1399.8h0.5V1395.6h0.5V1399.8h0.5V1395.6h1.5V1399.8h0.5V1395.6h0.5V1399.8h1.5V1395.6h0.5V1399.8h0.5V1395.6h2V1399.8h2V1395.6h1V1399.8h0.5V1395.6h1.5V1399.8h3V1395.6h0.5V1399.8h1V1395.6h0.5V1399.8h0.5V1395.6h1V1399.8h1V1395.6h1V1399.8h1V1395.6h2.5V1399.8h2.5V1395.6h0.5V1399.8h0.5V1395.6h0.5V1399.8h0.5V1395.6h0.5V1399.8h1.5V1395.6h0.5V1399.8h0.5V1395.6h0.5V1399.8h0.5V1395.6h0.5V1399.8h0.5V1395.6h1V1399.8h0.5V1395.6h1.5V1399.8h1V1392.3h1V1399.8h0.5V1395.6h0.5V1399.8h0.5V1395.6h1V1399.8h0.5V1395.6h0.5V1399.8h1.5V1395.6h1V1399.8h0.5V1395.6h1V1399.8h2.5V1392.3h0.5V1399.8h0.5V1395.6h0.5V1399.8h0.5V1395.6h1V1399.8h0.5V1395.6h1.5V1399.8h0.5V1395.6h0.5V1399.8h2V1395.6h0.5V1399.8h0.5V1395.6h0.5V1399.8h0.5V1395.6" fill="none" stroke="#00ff00" stroke-width="1.3" stroke-linejoin="miter"/><path d="M165.6 1391 L166.0 1445 L167 1400 L168 1395.6" fill="none" stroke="#00ff00" stroke-width="1.1"/><path d="M168 1392.2V1392.2h1V1392.2h1V1399.6h1V1384.6h1V1392.2h1V1392.2h1V1392.2h1V1392.2h1V1392.2h1V1384.6h1V1392.2h1V1392.2h1V1392.2h1V1392.2h1V1392.2h1V1399.6h1V1392.2h1V1392.2h1V1399.6h1V1392.2h1V1392.2h1V1392.2h1V1392.2h1V1392.2h1V1392.2h1V1399.6h1V1392.2h1V1392.2h1V1392.2h1V1392.2h1V1392.2h1V1392.2h1V1392.2h1V1392.2h1V1384.6h1V1399.6h1V1392.2h1V1399.6h1V1392.2h1V1392.2h1V1399.6h1V1399.6h1V1392.2h1V1392.2h1V1392.2h1V1384.6h1V1392.2h1V1392.2h1V1392.2h1V1392.2h1V1392.2h1V1399.6h1V1392.2h1V1399.6h1V1392.2h1V1392.2h1V1392.2h1V1392.2h1V1392.2h1V1392.2h1V1384.6h1V1392.2h1V1392.2h1V1392.2h1V1392.2h1V1392.2h1V1392.2h1V1392.2h1V1384.6h1V1392.2h1V1392.2h1V1392.2h1V1392.2h1V1392.2h1V1384.6h1V1392.2h1V1399.6h1V1384.6h1V1392.2h1V1392.2h1V1392.2h1V1392.2h1V1399.6h1V1392.2h1V1392.2h1V1392.2h1V1392.2h1V1384.6h1V1392.2h1V1392.2h1V1392.2h1V1392.2h1V1392.2h1V1384.6h1V1392.2h1V1392.2h1V1399.6h1V1392.2h1V1392.2h1V1399.6h1V1392.2h1V1392.2h1V1392.2h1V1392.2h1V1392.2h1V1392.2h1V1392.2h1V1392.2h1V1392.2h1V1392.2h1V1392.2h1V1392.2h1V1392.2h1V1392.2h1V1392.2h1V1392.2h1V1399.6h1V1399.6h1V1392.2h1V1392.2h1V1392.2h1V1392.2h1V1384.6h1V1392.2h1V1392.2h1V1392.2h1V1399.6h1V1399.6h1V1384.6h1V1384.6h1V1399.6h1V1392.2h1V1399.6h1V1392.2h1V1392.2h1V1392.2h1V1392.2h1V1392.2h1V1392.2h1V1392.2h1V1384.6h1V1392.2h1V1392.2h1V1392.2h1V1392.2h1V1399.6h1V1392.2h1V1392.2h1V1392.2h1V1392.2h1V1392.2h1V1384.6h1V1392.2h1V1384.6h1V1392.2h1V1392.2h1V1392.2h1V1392.2h1V1384.6h1V1384.6h1V1399.6h1V1392.2h1V1392.2h1V1392.2h1V1392.2h1V1392.2h1V1399.6h1V1392.2h1V1392.2h1V1392.2h1V1392.2h1V1392.2h1V1392.2h1V1392.2h1V1392.2h1V1399.6h1V1392.2h1V1392.2h1V1399.6h1V1392.2h1V1392.2h1V1384.6h1V1392.2h1V1392.2h1V1392.2h1V1384.6h1V1384.6h1V1392.2h1V1399.6h1V1392.2h1V1392.2h1V1392.2h1V1384.6h1V1392.2h1V1392.2h1V1392.2h1V1392.2h1V1392.2h1V1392.2h1V1392.2h1V1392.2h1V1392.2h1V1392.2h1V1392.2h1V1392.2h1V1392.2h1V1392.2h1V1384.6h1V1392.2h1V1392.2h1V1392.2h1V1392.2h1V1392.2h1V1392.2h1V1392.2h1V1399.6h1V1399.6h1V1392.2h1V1392.2h1V1392.2h1V1392.2h1V1392.2h1V1399.6h1V1392.2h1V1392.2h1V1392.2h1V1392.2h1V1392.2h1V1392.2h1V1384.6h1V1392.2h1V1384.6h1V1392.2h1V1384.6h1V1392.2h1V1392.2h1V1392.2h1V1384.6h1V1392.2h1V1399.6h1V1392.2h1V1392.2h1V1399.6h1V1399.6h1V1392.2h1V1392.2h1V1392.2h1V1392.2h1V1392.2h1V1392.2h1V1392.2h1V1392.2h1V1392.2h1V1392.2h1V1392.2h1V1392.2h1V1384.6h1V1392.2h1V1392.2h1V1392.2h1V1392.2h1V1392.2h1V1384.6h1V1392.2h1V1384.6h1V1392.2h1V1392.2h1V1392.2h1V1392.2h1V1392.2h1V1392.2h1V1392.2h1V1384.6h1V1384.6h1V1392.2h1V1392.2h1V1392.2h1V1384.6h1V1392.2h1V1392.2h1V1392.2h1V1392.2h1V1399.6h1V1392.2h1V1392.2h1V1399.6h1V1392.2h1V1392.2h1V1392.2h1V1392.2h1V1392.2h1V1392.2h1V1392.2h1V1392.2h1V1392.2h1V1392.2h1V1392.2h1V1392.2h1V1392.2h1V1392.2h1V1399.6h1V1392.2h1V1392.2h1V1392.2h1V1392.2h1V1392.2h1V1384.6h1V1384.6h1V1392.2h1V1392.2h1V1399.6h1V1392.2h1V1392.2h1V1392.2h1V1392.2h1V1392.2h1V1392.2h1V1384.6h1V1384.6h1V1392.2h1V1392.2h1V1392.2h1V1392.2h1V1392.2h1V1392.2h1V1392.2h1V1392.2h1V1392.2h1V1399.6h1V1384.6h1V1392.2h1V1392.2h1V1392.2h1V1399.6h1V1392.2h1V1399.6h1V1384.6h1V1392.2h1V1392.2h1V1392.2h1V1392.2h1V1392.2h1V1384.6h1V1392.2h1V1392.2h1V1392.2h1V1392.2h1V1392.2h1V1392.2h1V1384.6h1V1392.2h1V1384.6h1V1392.2h1V1392.2h1V1399.6h1V1392.2h1V1392.2h1V1384.6h1V1392.2h1V1392.2h1V1384.6h1V1392.2h1V1392.2h1V1392.2h1V1392.2h1V1392.2h1V1392.2h1V1384.6h1V1392.2h1V1392.2h1V1392.2h1V1392.2h1V1392.2h1V1392.2h1V1384.6h1V1384.6h1V1392.2h1V1392.2h1V1392.2h1V1392.2h1V1399.6h1V1392.2h1V1384.6h1V1399.6h1V1392.2h1V1392.2h1V1392.2h1V1392.2h1V1399.6h1V1392.2h1V1392.2h1V1384.6h1V1392.2h1V1392.2h1V1392.2h1V1392.2h1V1384.6h1V1384.6h1V1392.2h1V1392.2h1V1392.2h1V1392.2h1V1392.2h1V1392.2h1V1392.2h1V1392.2h1V1399.6h1V1399.6h1V1392.2h1V1384.6h1V1392.2h1V1392.2h1V1392.2h1V1392.2h1V1392.2h1V1392.2h1V1392.2h1V1392.2h1V1392.2h1V1392.2h1V1392.2h1V1392.2h1V1392.2h1V1384.6h1V1392.2h1V1392.2h1V1392.2h1V1392.2h1V1392.2h1V1399.6h1V1392.2h1V1399.6h1V1392.2h1V1392.2h1V1392.2h1V1392.2h1V1399.6h1V1384.6h1V1392.2h1V1392.2h1V1392.2h1V1384.6h1V1392.2h1V1399.6h1V1392.2h1V1384.6h1V1399.6h1V1384.6h1V1392.2h1V1392.2h1V1392.2h1V1384.6h1V1392.2h1V1392.2h1V1392.2h1V1392.2h1V1399.6h1V1384.6h1V1392.2h1V1392.2h1V1384.6h1V1384.6h1V1399.6h1V1384.6h1V1392.2h1V1384.6h1V1392.2h1V1392.2h1V1384.6h1V1392.2h1V1384.6h1V1392.2h1V1392.2h1V1392.2h1V1384.6h1V1392.2h1V1392.2h1V1392.2h1V1392.2h1V1392.2h1V1392.2h1V1392.2h1V1392.2h1V1392.2h1V1392.2h1V1392.2h1V1392.2h1V1392.2h1V1384.6h1V1399.6h1V1392.2h1V1392.2h1V1392.2h1V1399.6h1V1384.6h1V1392.2h1V1392.2h1V1384.6h1V1392.2h1V1392.2h1V1392.2h1V1392.2h1V1399.6h1V1392.2h1V1392.2h1V1392.2h1V1392.2h1V1392.2h1V1399.6h1V1384.6h1V1392.2h1V1392.2h1V1384.6h1V1392.2h1V1392.2h1V1392.2h1V1392.2h1V1392.2h1V1392.2h1V1392.2h1V1392.2h1V1392.2h1V1392.2h1V1392.2h1V1392.2h1V1384.6h1V1392.2h1V1392.2h1V1392.2h1V1392.2h1V1392.2h1V1392.2h1V1384.6h1V1392.2h1V1392.2h1V1392.2h1V1384.6h1V1392.2h1V1392.2h1V1392.2h1V1399.6h1V1384.6h1V1392.2h1V1384.6h1V1384.6h1V1392.2h1V1392.2h1V1392.2h1V1399.6h1V1392.2h1V1392.2h1V1392.2h1V1392.2h1V1384.6h1V1384.6h1V1392.2h1V1392.2h1V1392.2h1V1384.6h1V1392.2h1V1392.2h1V1392.2h1V1392.2h1V1392.2h1V1399.6h1V1392.2h1V1392.2h1V1392.2h1V1392.2h1V1384.6h1V1392.2h1V1392.2h1V1399.6h1V1384.6h1V1392.2h1V1392.2h1V1384.6h1V1392.2h1V1384.6h1V1384.6h1V1392.2h1V1392.2h1V1392.2h1V1384.6h1V1392.2h1V1399.6h1V1399.6h1V1392.2h1V1392.2h1V1399.6h1V1392.2h1V1392.2h1V1384.6h1V1392.2h1V1392.2h1V1392.2h1V1392.2h1V1392.2h1V1392.2h1V1392.2h1V1392.2h1V1392.2h1V1392.2h1V1392.2h1V1392.2h1V1399.6h1V1392.2h1V1392.2h1V1392.2h1V1384.6h1V1392.2h1V1384.6h1V1392.2h1V1399.6h1V1392.2h1V1384.6h1V1392.2h1V1399.6h1V1392.2h1V1384.6h1V1392.2h1V1392.2h1V1392.2h1V1392.2h1V1392.2h1V1392.2h1V1392.2h1V1392.2h1V1399.6h1V1392.2h1V1392.2h1V1392.2h1V1392.2h1V1392.2h1V1392.2h1V1392.2h1V1392.2h1V1384.6h1V1392.2h1V1392.2h1V1392.2h1V1392.2h1V1392.2h1V1399.6h1V1392.2h1V1392.2h1V1392.2h1V1392.2h1V1392.2h1V1392.2h1V1392.2h1V1392.2h1V1392.2h1V1392.2h1V1392.2h1V1392.2h1V1392.2h1V1399.6h1V1392.2h1V1392.2h1V1392.2h1V1392.2h1V1392.2h1V1392.2h1V1392.2h1V1392.2h1V1392.2h1V1392.2h1V1392.2h1V1392.2h1V1392.2h1V1392.2h1V1392.2h1V1392.2h1V1392.2h1V1384.6h1V1392.2h1V1399.6h1V1392.2h1V1392.2h1V1399.6h1V1384.6h1V1392.2h1V1392.2h1V1399.6h1V1392.2h1V1392.2h1V1392.2h1V1392.2h1V1392.2h1V1392.2h1V1392.2h1V1392.2h1V1392.2h1V1392.2h1V1392.2h1V1392.2h1V1392.2h1V1392.2h1V1392.2h1V1392.2h1V1392.2h1V1392.2h1V1392.2h1V1392.2h1V1392.2h1V1392.2h1V1392.2h1V1392.2h1V1392.2h1V1392.2h1V1392.2h1V1392.2h1V1392.2h1V1392.2h1V1384.6h1V1392.2h1V1392.2h1V1392.2h1V1392.2h1V1384.6h1V1392.2h1V1399.6h1V1392.2h1V1392.2h1V1392.2h1V1392.2h1V1392.2h1V1392.2h1V1392.2h1V1399.6h1V1392.2h1V1392.2h1V1392.2h1V1392.2h1V1392.2h1V1384.6h1V1392.2h1V1392.2h1V1399.6h1V1384.6h1V1392.2h1V1384.6h1V1392.2h1V1392.2h1V1392.2h1V1392.2h1V1399.6h1V1392.2h1V1392.2h1V1392.2h1V1399.6h1V1392.2h1V1392.2h1V1392.2h1V1399.6h1V1384.6h1V1399.6h1V1392.2h1V1392.2h1V1384.6h1V1392.2h1V1392.2h1V1392.2h1V1392.2h1V1384.6h1V1392.2h1V1392.2h1V1392.2h1V1384.6h1V1399.6h1V1392.2h1V1384.6h1V1392.2h1V1384.6h1V1392.2h1V1392.2h1V1392.2h1V1392.2h1V1392.2h1V1392.2h1V1399.6h1V1392.2h1V1392.2h1V1392.2h1V1392.2h1V1392.2h1V1392.2h1V1392.2h1V1392.2h1V1392.2h1V1392.2h1V1392.2h1V1392.2h1V1392.2h1V1392.2h1V1392.2h1V1399.6h1V1392.2h1V1384.6h1V1384.6h1V1392.2h1V1392.2h1V1392.2h1V1392.2h1V1392.2h1V1392.2h1V1392.2h1V1392.2h1V1392.2h1V1392.2h1V1392.2h1V1399.6h1V1392.2h1V1392.2h1V1392.2h1V1392.2h1V1392.2h1V1392.2h1V1399.6h1V1392.2h1V1392.2h1V1392.2h1V1392.2h1V1384.6h1V1392.2h1V1392.2h1V1392.2h1V1399.6h1V1392.2h1V1392.2h1V1392.2h1V1392.2h1V1384.6h1V1392.2h1V1392.2h1V1392.2h1V1399.6h1V1392.2h1V1399.6h1V1392.2h1V1392.2h1V1392.2h1V1392.2h1V1392.2h1V1392.2h1V1392.2h1V1392.2h1V1384.6h1V1399.6h1V1399.6h1V1392.2h1V1392.2h1V1392.2h1V1392.2h1V1392.2h1V1384.6h1V1392.2h1V1392.2h1V1392.2h1V1392.2h1V1392.2h1V1392.2h1V1392.2h1V1392.2h1V1384.6h1V1392.2h1V1384.6h1V1384.6h1V1399.6h1V1392.2h1V1399.6h1V1392.2h1V1392.2h1V1392.2h1V1392.2h1V1392.2h1V1392.2h1V1392.2h1V1392.2h1V1384.6h1V1392.2h1V1392.2h1V1392.2h1V1392.2h1V1392.2h1V1392.2h1V1392.2h1V1392.2h1V1392.2h1V1392.2h1V1392.2h1V1392.2h1V1384.6h1V1392.2h1V1392.2h1V1392.2h1V1392.2h1V1392.2h1V1392.2h1V1392.2h1V1392.2h1V1384.6h1V1392.2h1V1392.2h1V1392.2h1V1392.2h1V1392.2h1V1392.2h1V1392.2h1V1384.6h1V1392.2h1V1392.2h1V1392.2h1V1392.2h1V1392.2h1V1392.2h1V1392.2h1V1392.2h1V1392.2h1V1392.2h1V1392.2h1V1392.2h1V1392.2h1V1392.2h1V1384.6h1V1392.2h1V1399.6h1V1392.2h1V1392.2h1V1392.2h1V1392.2h1V1399.6h1V1392.2h1V1392.2h1V1392.2h1V1384.6h1V1392.2h1V1399.6h1V1384.6h1V1392.2h1V1399.6h1V1384.6h1V1392.2h1V1392.2h1V1392.2h1V1392.2h1V1384.6h1V1399.6h1V1384.6h1V1392.2h1V1392.2h1V1392.2h1V1392.2h1V1392.2h1V1392.2h1V1392.2h1V1392.2h1V1392.2h1V1384.6h1V1392.2h1V1392.2h1V1384.6h1V1384.6h1V1392.2h1V1392.2h1V1392.2h1V1392.2h1V1392.2h1V1392.2h1V1384.6h1V1384.6h1V1384.6h1V1392.2h1V1392.2h1V1392.2h1V1392.2h1V1399.6h1V1392.2h1V1392.2h1V1392.2h1V1399.6h1V1392.2h1V1392.2h1V1392.2h1V1384.6h1V1392.2h1V1403.7h-1V1409.3h-1V1409.3h-1V1409.3h-1V1403.7h-1V1409.3h-1V1403.7h-1V1403.7h-1V1403.7h-1V1403.7h-1V1403.7h-1V1409.3h-1V1409.3h-1V1409.3h-1V1409.3h-1V1409.3h-1V1409.3h-1V1409.3h-1V1409.3h-1V1409.3h-1V1403.7h-1V1409.3h-1V1409.3h-1V1409.3h-1V1409.3h-1V1409.3h-1V1409.3h-1V1409.3h-1V1409.3h-1V1409.3h-1V1409.3h-1V1409.3h-1V1409.3h-1V1403.7h-1V1403.7h-1V1403.7h-1V1403.7h-1V1403.7h-1V1403.7h-1V1403.7h-1V1403.7h-1V1403.7h-1V1403.7h-1V1403.7h-1V1409.3h-1V1409.3h-1V1409.3h-1V1409.3h-1V1409.3h-1V1409.3h-1V1403.7h-1V1403.7h-1V1403.7h-1V1403.7h-1V1403.7h-1V1403.7h-1V1409.3h-1V1409.3h-1V1409.3h-1V1409.3h-1V1409.3h-1V1409.3h-1V1409.3h-1V1409.3h-1V1409.3h-1V1403.7h-1V1403.7h-1V1403.7h-1V1403.7h-1V1403.7h-1V1409.3h-1V1409.3h-1V1409.3h-1V1403.7h-1V1403.7h-1V1403.7h-1V1409.3h-1V1409.3h-1V1409.3h-1V1409.3h-1V1403.7h-1V1403.7h-1V1409.3h-1V1409.3h-1V1409.3h-1V1409.3h-1V1409.3h-1V1409.3h-1V1409.3h-1V1409.3h-1V1409.3h-1V1409.3h-1V1403.7h-1V1403.7h-1V1403.7h-1V1409.3h-1V1409.3h-1V1409.3h-1V1409.3h-1V1409.3h-1V1409.3h-1V1409.3h-1V1409.3h-1V1409.3h-1V1409.3h-1V1409.3h-1V1409.3h-1V1409.3h-1V1403.7h-1V1403.7h-1V1403.7h-1V1403.7h-1V1403.7h-1V1403.7h-1V1403.7h-1V1403.7h-1V1403.7h-1V1403.7h-1V1409.3h-1V1409.3h-1V1409.3h-1V1409.3h-1V1409.3h-1V1409.3h-1V1403.7h-1V1403.7h-1V1403.7h-1V1403.7h-1V1403.7h-1V1409.3h-1V1403.7h-1V1403.7h-1V1409.3h-1V1409.3h-1V1409.3h-1V1409.3h-1V1409.3h-1V1409.3h-1V1409.3h-1V1403.7h-1V1403.7h-1V1403.7h-1V1403.7h-1V1403.7h-1V1409.3h-1V1409.3h-1V1409.3h-1V1409.3h-1V1409.3h-1V1409.3h-1V1409.3h-1V1403.7h-1V1403.7h-1V1409.3h-1V1409.3h-1V1409.3h-1V1409.3h-1V1409.3h-1V1409.3h-1V1403.7h-1V1403.7h-1V1403.7h-1V1409.3h-1V1409.3h-1V1409.3h-1V1409.3h-1V1409.3h-1V1409.3h-1V1403.7h-1V1409.3h-1V1409.3h-1V1409.3h-1V1409.3h-1V1403.7h-1V1403.7h-1V1409.3h-1V1409.3h-1V1409.3h-1V1409.3h-1V1409.3h-1V1409.3h-1V1409.3h-1V1409.3h-1V1409.3h-1V1409.3h-1V1409.3h-1V1409.3h-1V1409.3h-1V1409.3h-1V1409.3h-1V1403.7h-1V1403.7h-1V1403.7h-1V1409.3h-1V1409.3h-1V1409.3h-1V1409.3h-1V1409.3h-1V1409.3h-1V1409.3h-1V1409.3h-1V1409.3h-1V1409.3h-1V1409.3h-1V1409.3h-1V1409.3h-1V1409.3h-1V1409.3h-1V1403.7h-1V1403.7h-1V1403.7h-1V1409.3h-1V1409.3h-1V1409.3h-1V1403.7h-1V1403.7h-1V1403.7h-1V1403.7h-1V1409.3h-1V1409.3h-1V1409.3h-1V1403.7h-1V1403.7h-1V1403.7h-1V1403.7h-1V1403.7h-1V1403.7h-1V1403.7h-1V1403.7h-1V1403.7h-1V1403.7h-1V1403.7h-1V1409.3h-1V1409.3h-1V1409.3h-1V1409.3h-1V1409.3h-1V1409.3h-1V1403.7h-1V1409.3h-1V1409.3h-1V1409.3h-1V1409.3h-1V1409.3h-1V1403.7h-1V1403.7h-1V1403.7h-1V1403.7h-1V1409.3h-1V1409.3h-1V1409.3h-1V1409.3h-1V1409.3h-1V1403.7h-1V1409.3h-1V1409.3h-1V1409.3h-1V1403.7h-1V1409.3h-1V1409.3h-1V1409.3h-1V1409.3h-1V1403.7h-1V1403.7h-1V1403.7h-1V1403.7h-1V1403.7h-1V1403.7h-1V1403.7h-1V1409.3h-1V1409.3h-1V1409.3h-1V1409.3h-1V1409.3h-1V1409.3h-1V1409.3h-1V1409.3h-1V1409.3h-1V1409.3h-1V1409.3h-1V1409.3h-1V1409.3h-1V1409.3h-1V1409.3h-1V1409.3h-1V1409.3h-1V1409.3h-1V1409.3h-1V1409.3h-1V1409.3h-1V1409.3h-1V1409.3h-1V1409.3h-1V1409.3h-1V1409.3h-1V1409.3h-1V1409.3h-1V1409.3h-1V1409.3h-1V1409.3h-1V1409.3h-1V1409.3h-1V1403.7h-1V1409.3h-1V1409.3h-1V1409.3h-1V1409.3h-1V1409.3h-1V1409.3h-1V1409.3h-1V1403.7h-1V1403.7h-1V1409.3h-1V1409.3h-1V1409.3h-1V1409.3h-1V1409.3h-1V1409.3h-1V1403.7h-1V1409.3h-1V1409.3h-1V1403.7h-1V1403.7h-1V1409.3h-1V1409.3h-1V1409.3h-1V1409.3h-1V1409.3h-1V1409.3h-1V1403.7h-1V1403.7h-1V1403.7h-1V1403.7h-1V1403.7h-1V1403.7h-1V1409.3h-1V1409.3h-1V1409.3h-1V1409.3h-1V1409.3h-1V1409.3h-1V1409.3h-1V1409.3h-1V1409.3h-1V1409.3h-1V1403.7h-1V1403.7h-1V1403.7h-1V1403.7h-1V1403.7h-1V1409.3h-1V1409.3h-1V1409.3h-1V1409.3h-1V1409.3h-1V1409.3h-1V1409.3h-1V1403.7h-1V1403.7h-1V1403.7h-1V1403.7h-1V1409.3h-1V1409.3h-1V1409.3h-1V1409.3h-1V1409.3h-1V1409.3h-1V1403.7h-1V1403.7h-1V1403.7h-1V1403.7h-1V1409.3h-1V1409.3h-1V1409.3h-1V1409.3h-1V1403.7h-1V1403.7h-1V1403.7h-1V1409.3h-1V1409.3h-1V1403.7h-1V1403.7h-1V1403.7h-1V1403.7h-1V1403.7h-1V1403.7h-1V1409.3h-1V1409.3h-1V1409.3h-1V1409.3h-1V1409.3h-1V1409.3h-1V1409.3h-1V1409.3h-1V1409.3h-1V1409.3h-1V1409.3h-1V1409.3h-1V1409.3h-1V1409.3h-1V1403.7h-1V1403.7h-1V1409.3h-1V1409.3h-1V1409.3h-1V1409.3h-1V1409.3h-1V1409.3h-1V1409.3h-1V1409.3h-1V1409.3h-1V1409.3h-1V1409.3h-1V1409.3h-1V1409.3h-1V1403.7h-1V1403.7h-1V1403.7h-1V1403.7h-1V1409.3h-1V1409.3h-1V1409.3h-1V1409.3h-1V1409.3h-1V1403.7h-1V1409.3h-1V1409.3h-1V1409.3h-1V1409.3h-1V1409.3h-1V1409.3h-1V1409.3h-1V1409.3h-1V1403.7h-1V1403.7h-1V1409.3h-1V1403.7h-1V1403.7h-1V1403.7h-1V1403.7h-1V1403.7h-1V1403.7h-1V1403.7h-1V1403.7h-1V1409.3h-1V1403.7h-1V1403.7h-1V1403.7h-1V1409.3h-1V1409.3h-1V1409.3h-1V1403.7h-1V1403.7h-1V1409.3h-1V1409.3h-1V1409.3h-1V1409.3h-1V1403.7h-1V1403.7h-1V1403.7h-1V1409.3h-1V1403.7h-1V1403.7h-1V1403.7h-1V1403.7h-1V1403.7h-1V1403.7h-1V1409.3h-1V1403.7h-1V1403.7h-1V1409.3h-1V1409.3h-1V1403.7h-1V1403.7h-1V1403.7h-1V1409.3h-1V1403.7h-1V1403.7h-1V1403.7h-1V1403.7h-1V1403.7h-1V1403.7h-1V1403.7h-1V1403.7h-1V1409.3h-1V1409.3h-1V1409.3h-1V1409.3h-1V1409.3h-1V1409.3h-1V1409.3h-1V1409.3h-1V1409.3h-1V1409.3h-1V1409.3h-1V1403.7h-1V1403.7h-1V1409.3h-1V1409.3h-1V1409.3h-1V1409.3h-1V1409.3h-1V1409.3h-1V1409.3h-1V1409.3h-1V1409.3h-1V1409.3h-1V1409.3h-1V1409.3h-1V1409.3h-1V1403.7h-1V1403.7h-1V1409.3h-1V1409.3h-1V1403.7h-1V1403.7h-1V1409.3h-1V1409.3h-1V1409.3h-1V1409.3h-1V1409.3h-1V1409.3h-1V1409.3h-1V1409.3h-1V1409.3h-1V1409.3h-1V1409.3h-1V1409.3h-1V1403.7h-1V1409.3h-1V1403.7h-1V1409.3h-1V1403.7h-1V1409.3h-1V1403.7h-1V1409.3h-1V1409.3h-1V1409.3h-1V1409.3h-1V1409.3h-1V1409.3h-1V1409.3h-1V1409.3h-1V1403.7h-1V1403.7h-1V1403.7h-1V1403.7h-1V1403.7h-1V1409.3h-1V1409.3h-1V1409.3h-1V1409.3h-1V1409.3h-1V1409.3h-1V1409.3h-1V1409.3h-1V1409.3h-1V1403.7h-1V1403.7h-1V1403.7h-1V1403.7h-1V1409.3h-1V1409.3h-1V1403.7h-1V1409.3h-1V1403.7h-1V1409.3h-1V1409.3h-1V1403.7h-1V1403.7h-1V1403.7h-1V1403.7h-1V1403.7h-1V1403.7h-1V1403.7h-1V1409.3h-1V1403.7h-1V1403.7h-1V1403.7h-1V1403.7h-1V1403.7h-1V1409.3h-1V1403.7h-1V1403.7h-1V1403.7h-1V1403.7h-1V1403.7h-1V1403.7h-1V1403.7h-1V1403.7h-1V1409.3h-1V1409.3h-1V1409.3h-1V1409.3h-1V1409.3h-1V1409.3h-1V1409.3h-1V1409.3h-1V1409.3h-1V1403.7h-1V1403.7h-1V1409.3h-1V1409.3h-1V1409.3h-1V1409.3h-1V1409.3h-1V1409.3h-1V1409.3h-1V1409.3h-1V1409.3h-1V1403.7h-1V1409.3h-1V1409.3h-1V1403.7h-1V1403.7h-1V1403.7h-1V1409.3h-1V1409.3h-1V1409.3h-1V1409.3h-1V1409.3h-1V1409.3h-1V1409.3h-1V1409.3h-1V1403.7h-1V1409.3h-1V1409.3h-1V1409.3h-1V1409.3h-1V1409.3h-1V1403.7h-1V1403.7h-1V1409.3h-1V1403.7h-1V1403.7h-1V1403.7h-1V1403.7h-1V1403.7h-1V1409.3h-1V1409.3h-1V1409.3h-1V1409.3h-1V1409.3h-1V1409.3h-1V1403.7h-1V1403.7h-1V1409.3h-1V1409.3h-1V1409.3h-1V1403.7h-1V1403.7h-1V1409.3h-1V1409.3h-1V1409.3h-1V1409.3h-1V1409.3h-1V1409.3h-1V1409.3h-1V1403.7h-1V1403.7h-1V1403.7h-1V1409.3h-1V1409.3h-1V1409.3h-1V1409.3h-1V1409.3h-1V1409.3h-1V1403.7h-1V1403.7h-1V1403.7h-1V1409.3h-1V1409.3h-1V1409.3h-1V1409.3h-1V1409.3h-1V1409.3h-1V1409.3h-1V1409.3h-1V1403.7h-1V1409.3h-1V1403.7h-1V1409.3h-1V1409.3h-1V1409.3h-1V1409.3h-1V1409.3h-1V1409.3h-1V1403.7h-1V1409.3h-1V1409.3h-1V1409.3h-1V1409.3h-1V1403.7h-1V1403.7h-1V1403.7h-1V1403.7h-1V1409.3h-1V1403.7h-1V1403.7h-1V1409.3h-1V1409.3h-1V1403.7h-1V1403.7h-1V1403.7h-1V1403.7h-1V1409.3h-1V1409.3h-1V1403.7h-1V1403.7h-1V1403.7h-1V1409.3h-1V1409.3h-1V1409.3h-1V1409.3h-1V1409.3h-1V1409.3h-1V1409.3h-1V1409.3h-1V1409.3h-1V1409.3h-1V1409.3h-1V1409.3h-1V1409.3h-1V1409.3h-1V1409.3h-1V1409.3h-1V1409.3h-1V1403.7h-1V1403.7h-1V1409.3h-1V1409.3h-1V1409.3h-1V1403.7h-1V1409.3h-1V1409.3h-1V1409.3h-1V1403.7h-1V1403.7h-1V1403.7h-1V1409.3h-1V1409.3h-1V1409.3h-1V1403.7h-1V1403.7h-1V1403.7h-1V1403.7h-1V1409.3h-1V1409.3h-1V1403.7h-1V1409.3h-1V1409.3h-1V1409.3h-1V1409.3h-1V1403.7h-1V1403.7h-1V1403.7h-1V1403.7h-1V1403.7h-1V1403.7h-1V1409.3h-1V1409.3h-1V1409.3h-1V1409.3h-1V1409.3h-1V1409.3h-1V1409.3h-1V1409.3h-1V1409.3h-1V1409.3h-1V1403.7h-1V1403.7h-1V1403.7h-1V1409.3h-1V1409.3h-1V1409.3h-1V1403.7h-1V1403.7h-1V1409.3h-1V1409.3h-1V1409.3h-1V1409.3h-1V1409.3h-1V1409.3h-1V1409.3h-1V1409.3h-1V1409.3h-1V1409.3h-1V1409.3h-1V1409.3h-1V1409.3h-1V1409.3h-1V1403.7h-1V1403.7h-1V1403.7h-1V1409.3h-1V1409.3h-1V1409.3h-1V1403.7h-1V1403.7h-1V1403.7h-1V1403.7h-1V1403.7h-1V1403.7h-1V1409.3h-1V1409.3h-1V1409.3h-1V1409.3h-1V1409.3h-1V1409.3h-1V1409.3h-1V1409.3h-1V1409.3h-1V1409.3h-1V1409.3h-1V1403.7h-1V1403.7h-1V1403.7h-1V1403.7h-1V1403.7h-1V1403.7h-1V1409.3h-1V1409.3h-1V1409.3h-1V1409.3h-1V1409.3h-1V1409.3h-1V1409.3h-1V1409.3h-1V1409.3h-1V1409.3h-1V1409.3h-1V1409.3h-1V1409.3h-1V1409.3h-1V1403.7h-1V1403.7h-1V1409.3h-1V1403.7h-1V1403.7h-1V1403.7h-1V1403.7h-1V1403.7h-1V1409.3h-1V1409.3h-1V1409.3h-1V1409.3h-1V1409.3h-1V1409.3h-1V1409.3h-1V1409.3h-1V1403.7h-1V1403.7h-1V1403.7h-1V1403.7h-1V1403.7h-1V1409.3h-1V1409.3h-1V1409.3h-1V1409.3h-1V1409.3h-1V1409.3h-1V1409.3h-1V1409.3h-1V1409.3h-1V1409.3h-1V1409.3h-1V1409.3h-1V1403.7h-1V1403.7h-1V1409.3h-1V1409.3h-1V1409.3h-1V1403.7h-1V1409.3h-1V1409.3h-1V1409.3h-1V1409.3h-1V1409.3h-1V1409.3h-1V1403.7h-1V1403.7h-1V1409.3h-1V1409.3h-1V1409.3h-1V1409.3h-1V1403.7h-1V1403.7h-1V1403.7h-1V1403.7h-1V1409.3h-1V1409.3h-1V1409.3h-1V1409.3h-1V1409.3h-1V1409.3h-1V1409.3h-1V1409.3h-1V1403.7h-1V1403.7h-1V1409.3h-1V1409.3h-1V1403.7h-1V1403.7h-1V1409.3h-1V1403.7h-1V1403.7h-1V1409.3h-1V1409.3h-1V1403.7h-1V1409.3h-1V1409.3h-1V1409.3h-1V1409.3h-1V1409.3h-1V1409.3h-1V1403.7h-1V1403.7h-1V1403.7h-1V1409.3h-1V1409.3h-1V1409.3h-1V1409.3h-1V1409.3h-1V1409.3h-1V1409.3h-1V1409.3h-1V1409.3h-1V1409.3h-1V1403.7h-1V1403.7h-1V1409.3h-1V1409.3h-1V1409.3h-1V1403.7h-1V1403.7h-1V1403.7h-1V1403.7h-1V1409.3h-1V1409.3h-1V1409.3h-1V1409.3h-1V1403.7h-1V1403.7h-1V1403.7h-1V1403.7h-1V1403.7h-1V1403.7h-1V1409.3h-1V1409.3h-1V1403.7h-1V1403.7h-1V1403.7h-1V1409.3h-1V1409.3h-1V1409.3h-1V1403.7h-1V1403.7h-1V1403.7h-1V1403.7h-1V1403.7h-1V1403.7h-1V1403.7h-1V1403.7h-1V1409.3h-1V1409.3h-1V1409.3h-1V1409.3h-1V1409.3h-1V1409.3h-1V1409.3h-1V1409.3h-1V1409.3h-1V1409.3h-1V1409.3h-1V1409.3h-1V1409.3h-1V1409.3h-1V1409.3h-1V1409.3h-1V1409.3h-1V1409.3h-1V1409.3h-1V1409.3h-1V1409.3h-1V1409.3h-1V1409.3h-1V1409.3h-1Z" fill="#ffff00" shape-rendering="crispEdges"/><path d="M166.0 1450.5 L167.4 1409 L168 1400" fill="none" stroke="#ffff00" stroke-width="1.3"/>
<rect x="165.5" y="1308.5" width="989" height="161" fill="none" stroke="#262626" stroke-width="1"/><rect x="412.4" y="1308" width="1" height="10" fill="#262626"/><rect x="412.4" y="1460" width="1" height="10" fill="#262626"/><rect x="659.7" y="1308" width="1" height="10" fill="#262626"/><rect x="659.7" y="1460" width="1" height="10" fill="#262626"/><rect x="907" y="1308" width="1" height="10" fill="#262626"/><rect x="907" y="1460" width="1" height="10" fill="#262626"/><rect x="165" y="1308" width="10.5" height="1" fill="#262626"/><rect x="1144.5" y="1308" width="10.5" height="1" fill="#262626"/><rect x="165" y="1388" width="10.5" height="1" fill="#262626"/><rect x="1144.5" y="1388" width="10.5" height="1" fill="#262626"/><rect x="165" y="1469" width="10.5" height="1" fill="#262626"/><rect x="1144.5" y="1469" width="10.5" height="1" fill="#262626"/>
<text x="155.5" y="1314.7" font-size="21.2" text-anchor="end" textLength="38.6" lengthAdjust="spacingAndGlyphs">100</text>
<text x="155.5" y="1395.5" font-size="21.2" text-anchor="end" textLength="12.2" lengthAdjust="spacingAndGlyphs">0</text>
<text x="155.5" y="1475.7" font-size="21.2" text-anchor="end" textLength="46" lengthAdjust="spacingAndGlyphs">-100</text>
<text x="72.4" y="1429.7" font-size="20" font-weight="bold" stroke="#262626" stroke-width="0.3" textLength="80.6" lengthAdjust="spacingAndGlyphs" transform="rotate(-90 72.4 1429.7)">Voltage</text>
<text x="97.9" y="1413.3" font-size="20" font-weight="bold" stroke="#262626" stroke-width="0.3" textLength="47.8" lengthAdjust="spacingAndGlyphs" transform="rotate(-90 97.9 1413.3)">(mV)</text>
<text x="1170" y="1438.6" font-size="14.6" font-weight="bold" stroke="#000" stroke-width="0.3" textLength="124.2" lengthAdjust="spacingAndGlyphs" transform="rotate(-90 1170 1438.6)" fill="#000">Inboard VMon1</text>
<text x="1181.8" y="1438.6" font-size="14.6" font-weight="bold" stroke="#000" stroke-width="0.3" textLength="123" lengthAdjust="spacingAndGlyphs" transform="rotate(-90 1181.8 1438.6)" fill="#000">Inboard VMon2</text>
<text x="1193.6" y="1446.5" font-size="14.6" font-weight="bold" stroke="#000" stroke-width="0.3" textLength="137" lengthAdjust="spacingAndGlyphs" transform="rotate(-90 1193.6 1446.5)" fill="#000">Outboard VMon1</text>
<text x="1205.2" y="1446.5" font-size="14.6" font-weight="bold" stroke="#000" stroke-width="0.3" textLength="136.5" lengthAdjust="spacingAndGlyphs" transform="rotate(-90 1205.2 1446.5)" fill="#000">Outboard VMon2</text>
<rect x="1167" y="1462.3" width="2" height="15.1" fill="#0000ff"/>
<rect x="1179" y="1462.3" width="2" height="15.1" fill="#00ffff"/>
<rect x="1190.8" y="1462.3" width="2" height="15.1" fill="#00ff00"/>
<rect x="1202" y="1462.3" width="2" height="15.1" fill="#ffff00"/>
<text x="41.8" y="1498.5" font-size="14.6" font-weight="bold" stroke="#000" stroke-width="0.3" textLength="44.7" lengthAdjust="spacingAndGlyphs" fill="#000">Time:</text>
<text x="165.3" y="1498.5" font-size="14.6" font-weight="bold" stroke="#000" stroke-width="0.3" text-anchor="middle" textLength="70.9" lengthAdjust="spacingAndGlyphs" fill="#000">21:58:15</text>
<text x="412.6" y="1498.5" font-size="14.6" font-weight="bold" stroke="#000" stroke-width="0.3" text-anchor="middle" textLength="70.9" lengthAdjust="spacingAndGlyphs" fill="#000">22:08:13</text>
<text x="660" y="1498.5" font-size="14.6" font-weight="bold" stroke="#000" stroke-width="0.3" text-anchor="middle" textLength="70.9" lengthAdjust="spacingAndGlyphs" fill="#000">22:18:12</text>
<text x="907.5" y="1498.5" font-size="14.6" font-weight="bold" stroke="#000" stroke-width="0.3" text-anchor="middle" textLength="70.9" lengthAdjust="spacingAndGlyphs" fill="#000">22:28:10</text>
<text x="1154.8" y="1498.5" font-size="14.6" font-weight="bold" stroke="#000" stroke-width="0.3" text-anchor="middle" textLength="70.9" lengthAdjust="spacingAndGlyphs" fill="#000">22:38:08</text>
<text x="41.8" y="1519" font-size="14.6" font-weight="bold" stroke="#000" stroke-width="0.3" textLength="74" lengthAdjust="spacingAndGlyphs" fill="#000">Rad(km):</text>
<text x="165.3" y="1519" font-size="14.6" font-weight="bold" stroke="#000" stroke-width="0.3" text-anchor="middle" textLength="55.1" lengthAdjust="spacingAndGlyphs" fill="#000">6848.5</text>
<text x="412.6" y="1519" font-size="14.6" font-weight="bold" stroke="#000" stroke-width="0.3" text-anchor="middle" textLength="55.1" lengthAdjust="spacingAndGlyphs" fill="#000">7115.4</text>
<text x="660" y="1519" font-size="14.6" font-weight="bold" stroke="#000" stroke-width="0.3" text-anchor="middle" textLength="55.1" lengthAdjust="spacingAndGlyphs" fill="#000">7397.4</text>
<text x="907.5" y="1519" font-size="14.6" font-weight="bold" stroke="#000" stroke-width="0.3" text-anchor="middle" textLength="55.1" lengthAdjust="spacingAndGlyphs" fill="#000">7596.6</text>
<text x="1154.8" y="1519" font-size="14.6" font-weight="bold" stroke="#000" stroke-width="0.3" text-anchor="middle" textLength="55.1" lengthAdjust="spacingAndGlyphs" fill="#000">7654.0</text>
<text x="41.8" y="1539.5" font-size="14.6" font-weight="bold" stroke="#000" stroke-width="0.3" textLength="32" lengthAdjust="spacingAndGlyphs" fill="#000">Lat:</text>
<text x="165.3" y="1539.5" font-size="14.6" font-weight="bold" stroke="#000" stroke-width="0.3" text-anchor="middle" textLength="34.8" lengthAdjust="spacingAndGlyphs" fill="#000">13.9</text>
<text x="412.6" y="1539.5" font-size="14.6" font-weight="bold" stroke="#000" stroke-width="0.3" text-anchor="middle" textLength="34.8" lengthAdjust="spacingAndGlyphs" fill="#000">50.8</text>
<text x="660" y="1539.5" font-size="14.6" font-weight="bold" stroke="#000" stroke-width="0.3" text-anchor="middle" textLength="34.8" lengthAdjust="spacingAndGlyphs" fill="#000">80.3</text>
<text x="907.5" y="1539.5" font-size="14.6" font-weight="bold" stroke="#000" stroke-width="0.3" text-anchor="middle" textLength="34.8" lengthAdjust="spacingAndGlyphs" fill="#000">59.9</text>
<text x="1154.8" y="1539.5" font-size="14.6" font-weight="bold" stroke="#000" stroke-width="0.3" text-anchor="middle" textLength="34.8" lengthAdjust="spacingAndGlyphs" fill="#000">29.4</text>
<text x="41.8" y="1560" font-size="14.6" font-weight="bold" stroke="#000" stroke-width="0.3" textLength="34.8" lengthAdjust="spacingAndGlyphs" fill="#000">Lon:</text>
<text x="165.3" y="1560" font-size="14.6" font-weight="bold" stroke="#000" stroke-width="0.3" text-anchor="middle" textLength="45" lengthAdjust="spacingAndGlyphs" fill="#000">127.1</text>
<text x="412.6" y="1560" font-size="14.6" font-weight="bold" stroke="#000" stroke-width="0.3" text-anchor="middle" textLength="45" lengthAdjust="spacingAndGlyphs" fill="#000">133.6</text>
<text x="660" y="1560" font-size="14.6" font-weight="bold" stroke="#000" stroke-width="0.3" text-anchor="middle" textLength="51.1" lengthAdjust="spacingAndGlyphs" fill="#000">-171.9</text>
<text x="907.5" y="1560" font-size="14.6" font-weight="bold" stroke="#000" stroke-width="0.3" text-anchor="middle" textLength="40.9" lengthAdjust="spacingAndGlyphs" fill="#000">-78.5</text>
<text x="1154.8" y="1560" font-size="14.6" font-weight="bold" stroke="#000" stroke-width="0.3" text-anchor="middle" textLength="40.9" lengthAdjust="spacingAndGlyphs" fill="#000">-70.3</text>
<text x="41.8" y="1580.5" font-size="14.6" font-weight="bold" stroke="#000" stroke-width="0.3" textLength="42" lengthAdjust="spacingAndGlyphs" fill="#000">Mlat:</text>
<text x="165.3" y="1580.5" font-size="14.6" font-weight="bold" stroke="#000" stroke-width="0.3" text-anchor="middle" textLength="24.7" lengthAdjust="spacingAndGlyphs" fill="#000">5.0</text>
<text x="412.6" y="1580.5" font-size="14.6" font-weight="bold" stroke="#000" stroke-width="0.3" text-anchor="middle" textLength="34.8" lengthAdjust="spacingAndGlyphs" fill="#000">42.2</text>
<text x="660" y="1580.5" font-size="14.6" font-weight="bold" stroke="#000" stroke-width="0.3" text-anchor="middle" textLength="34.8" lengthAdjust="spacingAndGlyphs" fill="#000">75.4</text>
<text x="907.5" y="1580.5" font-size="14.6" font-weight="bold" stroke="#000" stroke-width="0.3" text-anchor="middle" textLength="34.8" lengthAdjust="spacingAndGlyphs" fill="#000">69.2</text>
<text x="1154.8" y="1580.5" font-size="14.6" font-weight="bold" stroke="#000" stroke-width="0.3" text-anchor="middle" textLength="34.8" lengthAdjust="spacingAndGlyphs" fill="#000">38.8</text>
<text x="41.8" y="1601" font-size="14.6" font-weight="bold" stroke="#000" stroke-width="0.3" textLength="32" lengthAdjust="spacingAndGlyphs" fill="#000">Mlt:</text>
<text x="165.3" y="1601" font-size="14.6" font-weight="bold" stroke="#000" stroke-width="0.3" text-anchor="middle" textLength="45" lengthAdjust="spacingAndGlyphs" fill="#000">6.705</text>
<text x="412.6" y="1601" font-size="14.6" font-weight="bold" stroke="#000" stroke-width="0.3" text-anchor="middle" textLength="45" lengthAdjust="spacingAndGlyphs" fill="#000">7.065</text>
<text x="660" y="1601" font-size="14.6" font-weight="bold" stroke="#000" stroke-width="0.3" text-anchor="middle" textLength="45" lengthAdjust="spacingAndGlyphs" fill="#000">8.517</text>
<text x="907.5" y="1601" font-size="14.6" font-weight="bold" stroke="#000" stroke-width="0.3" text-anchor="middle" textLength="55.1" lengthAdjust="spacingAndGlyphs" fill="#000">17.359</text>
<text x="1154.8" y="1601" font-size="14.6" font-weight="bold" stroke="#000" stroke-width="0.3" text-anchor="middle" textLength="55.1" lengthAdjust="spacingAndGlyphs" fill="#000">18.257</text>
<text x="22" y="1639.6" font-size="14.6" font-weight="bold" stroke="#000" stroke-width="0.3" textLength="1228" lengthAdjust="spacingAndGlyphs" fill="#000">MGF Quicklook using MGF_20190605_215814_223808_v2.1.0.lv2 on 23-Nov-2021 09:26:58 (calibration from cas_mgf_7day_cal_2019_05_31_v2.1.mat )</text>
<g transform="rotate(-90 1174 378.7)" font-weight="bold" fill="#262626" stroke="#262626" stroke-width="0.3"><text x="1174" y="378.7" font-size="14.6" textLength="28.6" lengthAdjust="spacingAndGlyphs">Log</text><text x="1204.6" y="384.6" font-size="11.2" textLength="14.5" lengthAdjust="spacingAndGlyphs">10</text><text x="1226.4" y="378.7" font-size="14.6" textLength="24" lengthAdjust="spacingAndGlyphs">(nT</text><text x="1250.8" y="371.2" font-size="11.2" textLength="8" lengthAdjust="spacingAndGlyphs">2</text><text x="1258.8" y="378.7" font-size="14.6" textLength="34" lengthAdjust="spacingAndGlyphs">/Hz)</text></g>
</svg></body></html>
